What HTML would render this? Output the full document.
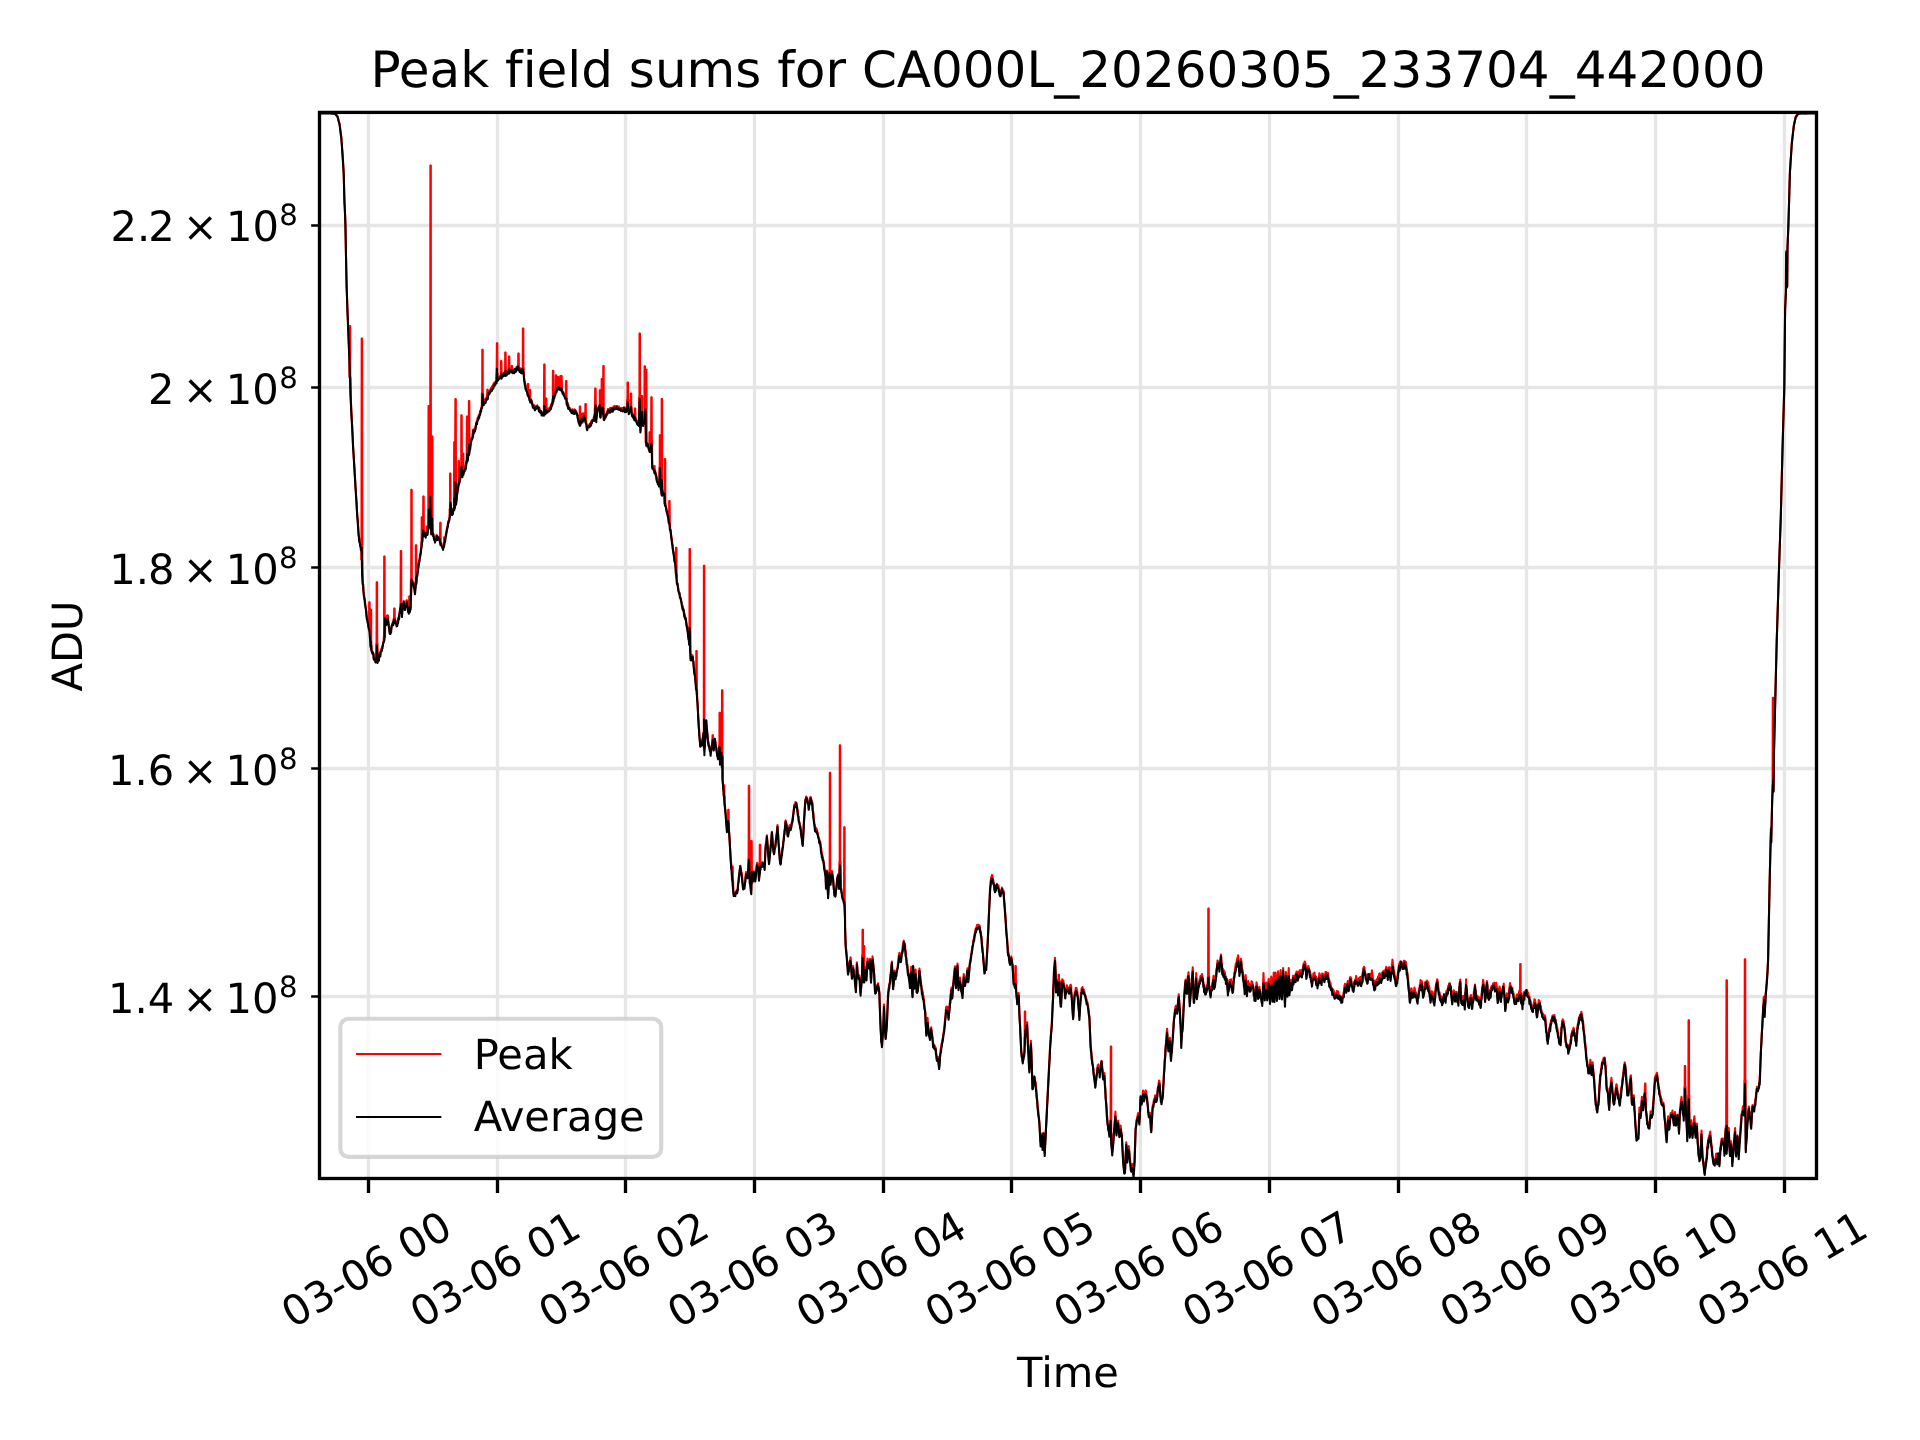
<!DOCTYPE html>
<html lang="en"><head><meta charset="utf-8"><title>Peak field sums for CA000L_20260305_233704_442000</title>
<style>html,body{margin:0;padding:0;background:#fff}svg{display:block;will-change:transform}text{font-family:'DejaVu Sans', 'Liberation Sans', sans-serif;fill:#000;font-variant-ligatures:none;font-feature-settings:"liga" 0,"clig" 0;text-rendering:geometricPrecision}</style></head><body>
<svg width="1920" height="1440" viewBox="0 0 1920 1440">
<defs><clipPath id="ax"><rect x="319.5" y="112.4" width="1497" height="1066.1"/></clipPath></defs>
<rect width="1920" height="1440" fill="#fff"/>
<path d="M368.5 112.4 V1178.5 M497.5 112.4 V1178.5 M625.5 112.4 V1178.5 M754.5 112.4 V1178.5 M883.5 112.4 V1178.5 M1011.5 112.4 V1178.5 M1140.5 112.4 V1178.5 M1269.5 112.4 V1178.5 M1398.5 112.4 V1178.5 M1526.5 112.4 V1178.5 M1655.5 112.4 V1178.5 M1784.5 112.4 V1178.5 M319.5 225.5 H1816.5 M319.5 387.5 H1816.5 M319.5 567.5 H1816.5 M319.5 768.5 H1816.5 M319.5 996.5 H1816.5" fill="none" stroke="#e6e6e6" stroke-width="3.33"/>
<g clip-path="url(#ax)" fill="none" stroke-width="2.08" stroke-linejoin="round" stroke-linecap="square">
<path stroke="#f00" d="M319.5 112.9 L319.89 112.9 L320.28 112.9 L320.67 112.9 L321.06 112.9 L321.44 112.9 L321.83 112.9 L322.22 112.9 L322.61 112.9 L323 112.9 L323.39 112.9 L323.78 112.9 L324.17 112.9 L324.56 112.9 L324.94 112.9 L325.33 112.9 L325.72 112.9 L326.11 112.9 L326.5 112.9 L326.89 112.9 L327.28 112.9 L327.67 112.9 L328.06 112.9 L328.44 112.9 L328.83 112.9 L329.22 112.9 L329.61 112.9 L330 112.9 L330.38 112.92 L330.77 112.95 L331.15 112.97 L331.54 112.99 L331.92 113.02 L332.31 113.04 L332.69 113.06 L333.08 113.08 L333.46 113.11 L333.85 113.13 L334.23 113.15 L334.62 113.18 L335 113.2 L335.36 113.61 L335.71 114.03 L336.07 114.44 L336.43 114.86 L336.79 115.27 L337.14 115.68 L337.5 116.04 L337.85 117.32 L338.2 118.73 L338.55 120.19 L338.9 121.33 L339.25 122.66 L339.6 124.06 L339.93 126.64 L340.26 129.35 L340.59 131.25 L340.92 134.08 L341.25 136.45 L341.56 139.77 L341.88 144.46 L342.19 148.72 L342.5 152.89 L342.81 158.24 L343.12 162.18 L343.44 168.42 L343.75 173.16 L344.07 185.14 L344.4 198.81 L344.73 207.26 L345.07 214.62 L345.4 223.98 L345.7 238.76 L346 254.7 L346.3 269.52 L346.6 286.99 L346.95 293.89 L347.3 304.59 L347.65 314.5 L348 322.02 L348.35 332.02 L348.7 340.85 L349.05 350.22 L349.4 359.26 L349.4 377.15 L349.7 367.5 L349.78 326 L350 376.19 L350.22 326 L350.3 387.47 L350.6 396.74 L350.6 377.15 L350.93 401.83 L351.25 408.64 L351.57 414.91 L351.9 421.29 L352.2 427.29 L352.5 434.37 L352.8 438.45 L353.1 446.62 L353.48 452.41 L353.86 458.25 L354.24 465.46 L354.62 469.52 L355 477.95 L355.38 483.67 L355.76 488.87 L356.14 496.2 L356.52 501.94 L356.9 509.78 L357.27 515.17 L357.64 519.7 L358.01 524.4 L358.38 530 L358.75 535.68 L359.11 537.58 L359.46 539.42 L359.82 541.71 L360.18 544 L360.54 545.9 L360.89 547.85 L361.25 549.76 L361.3 559.65 L361.48 549.53 L361.68 338.5 L361.7 544.88 L361.9 558.95 L362.1 573.7 L362.12 338.5 L362.43 576.93 L362.5 559.65 L362.76 581.19 L363.09 585.2 L363.42 589.27 L363.75 592.67 L364.14 594.59 L364.54 599.17 L364.93 600.31 L365.32 604.57 L365.72 607.43 L366.11 610.17 L366.51 614.43 L366.9 617.02 L367.26 619.64 L367.61 619.7 L367.97 623.09 L368.33 624.64 L368.69 626.17 L368.8 629.65 L369.04 626.89 L369.18 602.25 L369.4 629.48 L369.62 602.25 L369.77 632.33 L370 629.65 L370.14 635.77 L370.4 645.87 L370.51 642.28 L370.78 609.75 L370.88 645.32 L371.22 609.75 L371.25 649.64 L371.6 645.87 L371.62 649.1 L371.99 650.88 L372.36 651.88 L372.73 652.82 L373.1 653.4 L373.46 654.31 L373.81 654.16 L374.17 657.04 L374.53 657.98 L374.89 659.53 L375.24 659.64 L375.6 662.1 L375.9 659.76 L376.2 658.37 L376.3 643.4 L376.5 659.05 L376.68 582.25 L376.9 643.08 L377.12 582.25 L377.2 651.28 L377.5 660.99 L377.5 643.4 L377.86 660.35 L378.21 658.92 L378.57 658.03 L378.93 657.99 L379.29 656.11 L379.64 655.53 L380 652.03 L380.36 652.58 L380.71 651.79 L381.07 649.93 L381.43 648.51 L381.79 648.32 L382.14 646.75 L382.5 645.49 L382.88 644.94 L383.26 643.32 L383.64 640.86 L383.8 637.15 L384.02 638.59 L384.18 556.6 L384.4 637.5 L384.62 556.6 L384.7 627.72 L385 617.59 L385 637.15 L385.31 617.71 L385.62 620.04 L385.94 622.09 L386.25 623.83 L386.56 622.19 L386.88 620.17 L386.9 615.9 L387.19 616.99 L387.28 615.4 L387.5 615.41 L387.72 615.4 L387.86 617.47 L388.1 615.9 L388.21 621.97 L388.57 623.27 L388.93 625.94 L389.29 628.68 L389.64 630.16 L390 632.01 L390.36 631.16 L390.71 630.01 L391.07 629.81 L391.43 628.03 L391.79 625.34 L392.14 625.2 L392.5 623.91 L392.88 621.67 L393.26 621.33 L393.64 619.12 L393.8 618.4 L394.02 619.63 L394.18 608.5 L394.4 618.18 L394.62 608.5 L394.76 618.27 L395 618.4 L395.11 619.52 L395.47 620.97 L395.83 621.22 L396.19 622.61 L396.54 623.58 L396.9 623.42 L397.27 622.41 L397.64 622.64 L398.01 619.97 L398.38 617.94 L398.75 617.19 L399.11 614.08 L399.46 613.65 L399.82 610.98 L400.18 609.33 L400.4 603.65 L400.54 607.06 L400.78 551 L400.89 604.56 L401.22 551 L401.25 602.82 L401.57 607.91 L401.6 603.65 L401.9 612.94 L402.27 610.44 L402.64 608.59 L403.01 605.27 L403.38 605.66 L403.75 600.97 L404.06 603.66 L404.38 604.37 L404.69 605.46 L405 608.34 L405.38 606.69 L405.76 605.29 L406.14 604.28 L406.3 600.9 L406.52 601.97 L406.68 600.4 L406.9 601.16 L407.12 600.4 L407.2 603.75 L407.5 605.67 L407.5 600.9 L407.8 608.2 L408.1 611.27 L408.46 610.4 L408.8 608.95 L408.81 609.94 L409.17 607.91 L409.18 596.6 L409.53 608.8 L409.62 596.6 L409.89 608.48 L410 608.95 L410.24 607.59 L410.6 607.38 L410.9 579.65 L410.9 599.3 L411.2 588.88 L411.28 489.75 L411.5 580.11 L411.72 489.75 L411.82 579.56 L412.1 579.65 L412.14 580.06 L412.46 580.82 L412.78 580.95 L413.1 582.14 L413.48 583.26 L413.86 585.53 L414.24 586.41 L414.62 588.01 L415 590.43 L415.38 587.04 L415.4 582.57 L415.75 584.2 L415.78 545.4 L416.12 581.1 L416.22 545.4 L416.5 578.16 L416.6 582.57 L416.88 576.62 L417.25 574.34 L417.62 571.4 L418 568.15 L418.38 566.93 L418.75 562.34 L419.11 559.88 L419.46 559.3 L419.82 556.97 L420.18 554.73 L420.54 552.71 L420.89 549.41 L421.25 547.6 L421.3 541.81 L421.62 545.5 L421.68 517.25 L421.99 541.61 L422.12 517.25 L422.36 536.65 L422.5 541.81 L422.73 534.73 L422.9 530.7 L423.1 528.91 L423.28 496.6 L423.48 530.26 L423.72 496.6 L423.86 531.85 L424.1 530.7 L424.24 531.83 L424.62 533.31 L425 534.53 L425.36 533.93 L425.71 534.35 L426.07 533.71 L426.3 532.26 L426.43 532.09 L426.68 526.6 L426.79 531.93 L427.12 526.6 L427.14 532.07 L427.5 531.45 L427.5 532.26 L427.88 529.34 L428.15 526.17 L428.26 528.55 L428.53 406 L428.64 527.21 L428.97 406 L429.02 524.58 L429.35 526.17 L429.4 523.94 L429.67 513.11 L429.93 503.96 L430 509.71 L430.2 496.24 L430.38 165.6 L430.55 507.41 L430.82 165.6 L430.9 519.38 L431.2 509.71 L431.25 531.97 L431.56 531.68 L431.65 532.15 L431.88 532.38 L432.03 436.6 L432.19 531.15 L432.47 436.6 L432.5 531.89 L432.85 532.15 L432.86 534.6 L433.21 534.37 L433.57 534.04 L433.93 536.85 L434.29 537.89 L434.64 539.53 L435 539.75 L435.38 538.33 L435.65 536.79 L435.76 538.88 L436.03 536 L436.14 537.53 L436.47 536 L436.52 534.93 L436.85 536.79 L436.9 535.82 L437.29 535.84 L437.67 537.47 L438.06 537.14 L438.45 538.64 L438.84 538.93 L439.23 539.9 L439.61 540.19 L439.8 541.79 L440 540.61 L440.18 522.9 L440.39 541.81 L440.62 522.9 L440.77 543.06 L441 541.79 L441.16 543.78 L441.55 545.46 L441.94 545.51 L442.33 546.51 L442.71 548.32 L443.1 547.85 L443.48 546.54 L443.8 542.22 L443.86 544.12 L444.18 537.25 L444.24 542.94 L444.62 542.41 L444.62 537.25 L445 539.87 L445 542.22 L445.36 538.69 L445.71 534.99 L446.07 532.79 L446.43 532.01 L446.79 528.88 L447.14 529.24 L447.5 526.76 L447.86 523.43 L448.21 522.57 L448.57 520.68 L448.93 519.76 L449.29 517.82 L449.64 516.9 L449.65 508.92 L450 515.66 L450.03 473.5 L450.3 507.62 L450.47 473.5 L450.6 500.09 L450.85 508.92 L450.9 507.04 L451.2 512.29 L451.52 512.81 L451.85 511.55 L452.18 511.85 L452.5 511.13 L452.86 510.06 L453.21 509.16 L453.57 509.25 L453.8 507.1 L453.93 509.42 L454.18 442 L454.29 507.91 L454.62 442 L454.64 506.52 L455 506.39 L455 507.1 L455 497.4 L455.38 399.1 L455.4 494.48 L455.7 498.02 L455.82 399.1 L456 503.61 L456.2 497.4 L456.35 501.55 L456.7 497.35 L457.05 493.87 L457.4 492.07 L457.75 490.08 L458.1 486.55 L458.15 483.09 L458.47 485.02 L458.53 461 L458.83 484.11 L458.97 461 L459.2 482.27 L459.35 483.09 L459.57 480.06 L459.93 477.84 L460.3 476.49 L460.6 467.08 L460.9 471.86 L460.9 475.08 L461.2 474.79 L461.28 415.4 L461.58 476.07 L461.72 415.4 L461.96 474.7 L462.1 475.08 L462.34 473.92 L462.5 473.4 L462.72 474.36 L462.88 453.5 L463.1 472.02 L463.32 453.5 L463.49 471.57 L463.7 473.4 L463.89 470.45 L464.28 470.22 L464.68 468.06 L465.07 468.13 L465.46 465.59 L465.86 465.01 L466.25 462.91 L466.5 460 L466.61 462.77 L466.88 416.6 L466.96 460.37 L467.32 416.6 L467.32 459.47 L467.68 457.35 L467.7 460 L468.04 455.51 L468.39 454.67 L468.5 451.47 L468.75 454.16 L468.88 401 L469.11 450.73 L469.32 401 L469.46 448.42 L469.7 451.47 L469.82 447.29 L470.18 446.08 L470.54 442.85 L470.89 441.24 L471.25 439.78 L471.62 438.17 L471.99 437.35 L472.36 436.72 L472.5 433.4 L472.73 434.66 L472.88 429.75 L473.1 433.35 L473.32 429.75 L473.4 429.93 L473.7 430.36 L473.7 433.4 L474 430.74 L474.38 429.37 L474.75 427.96 L475.12 428.72 L475.5 426.04 L475.88 425.13 L476.25 423.9 L476.62 421.63 L477 421.58 L477.38 419.64 L477.75 417.52 L478.12 417.63 L478.5 415.91 L478.88 415.29 L479.25 414.64 L479.62 414.65 L480 411.81 L480.37 410.91 L480.73 410.16 L481.1 408.9 L481.47 407.54 L481.83 405.78 L481.9 393.4 L482.2 404.74 L482.28 349.75 L482.5 393.27 L482.72 349.75 L482.75 397.6 L483 402.95 L483.1 393.4 L483.36 401.98 L483.72 403.06 L484.08 400.7 L484.44 402.49 L484.81 400.22 L485.17 399.34 L485.53 398.7 L485.89 399.49 L486.25 399.11 L486.62 397.06 L486.9 395.9 L487 397.13 L487.28 389.75 L487.38 396.05 L487.72 389.75 L487.75 395.23 L488.1 395.9 L488.12 394.75 L488.5 394.43 L488.88 391.83 L489.25 391.02 L489.62 391.79 L490 390.85 L490.39 390.67 L490.77 388.32 L491.16 388.12 L491.55 389.17 L491.94 386.5 L492.33 386.95 L492.71 385.45 L493.1 385.02 L493.49 383.86 L493.88 385.14 L494.27 382.52 L494.66 382.52 L495.04 382.23 L495.43 383.18 L495.82 382.08 L496.21 381.86 L496.5 373.55 L496.6 380.89 L496.88 343.25 L496.9 369.81 L497.15 374.87 L497.32 343.25 L497.4 380.47 L497.7 373.55 L497.78 379.16 L498.17 377.57 L498.56 378.96 L498.94 377.83 L499.32 376.59 L499.71 376.82 L500.09 375.85 L500.48 377.5 L500.65 375.3 L500.87 375.47 L501.03 361 L501.25 373.92 L501.47 361 L501.63 375.27 L501.85 375.3 L502.02 374.24 L502.4 375.46 L502.79 374.42 L503.17 372.86 L503.56 373.5 L503.94 372.85 L504.33 372.84 L504.71 372.68 L504.8 372.69 L505.1 371.5 L505.18 352.5 L505.48 372.77 L505.62 352.5 L505.87 371.79 L506 372.69 L506.25 371.53 L506.65 372.38 L507.04 372.89 L507.44 370.86 L507.83 372.25 L508.23 369.34 L508.5 370.09 L508.62 370.82 L508.88 356.6 L509.02 369.74 L509.32 356.6 L509.41 369.81 L509.7 370.09 L509.81 368.89 L510.2 368.88 L510.6 368.78 L510.96 369.12 L511.3 370.3 L511.31 370 L511.67 371.45 L511.68 366 L512.03 369.99 L512.12 366 L512.39 370.68 L512.5 370.3 L512.74 369.94 L513.1 370.12 L513.48 372.08 L513.87 369.81 L514.25 369.83 L514.64 369.98 L515.02 370.21 L515.41 369.41 L515.79 370.1 L516.18 368.3 L516.56 366.78 L516.95 367.75 L517.33 367.35 L517.72 366.32 L517.9 367.06 L518.1 366.27 L518.28 353.5 L518.49 366.65 L518.72 353.5 L518.89 368.8 L519.1 367.06 L519.28 367.73 L519.67 367.74 L520.07 369.44 L520.46 368.54 L520.86 370.64 L521.25 371.18 L521.62 369.7 L521.99 369.27 L522.36 368.63 L522.5 367.8 L522.73 369.53 L522.88 328.5 L523.1 368.07 L523.32 328.5 L523.42 370.24 L523.7 367.8 L523.75 373.49 L524.08 377.57 L524.4 380.89 L524.77 381.87 L525.14 384.1 L525.51 385.26 L525.88 387.64 L526.25 388.7 L526.61 389.41 L526.96 390.64 L527.32 391.01 L527.5 393.95 L527.68 393.3 L527.88 384 L528.04 394.02 L528.32 384 L528.39 394.54 L528.7 393.95 L528.75 395.98 L529.12 396.28 L529.4 398.4 L529.5 398.78 L529.78 390 L529.88 397.84 L530.22 390 L530.25 399.26 L530.6 398.4 L530.62 399.9 L531 399.85 L531.38 401.15 L531.75 401.68 L532.12 402.82 L532.5 403.58 L532.86 404.47 L533.21 405.01 L533.57 404.73 L533.93 405.18 L534.29 405.67 L534.64 406.02 L535 405.95 L535.39 407.49 L535.77 406.93 L536.16 406.76 L536.55 405.68 L536.94 405.71 L537.33 405.28 L537.71 406.51 L538.1 406.96 L538.49 407.62 L538.89 407.86 L539.28 407.87 L539.67 409.32 L540.07 410.03 L540.46 411.22 L540.86 411.97 L541.25 411.97 L541.62 412.38 L541.99 413.13 L542.36 413.22 L542.73 413.03 L543.1 412.02 L543.49 412.63 L543.8 412.37 L543.89 413.35 L544.18 364.5 L544.28 412.57 L544.62 364.5 L544.67 412.81 L545 412.37 L545.07 411.6 L545.46 411.58 L545.65 410.9 L545.86 411.76 L546.03 398.5 L546.25 411.37 L546.47 398.5 L546.62 410.92 L546.85 410.9 L547 411.15 L547.38 411.07 L547.75 410.86 L548.12 408.51 L548.5 409.06 L548.88 408.92 L549.25 408.65 L549.62 407.52 L550 409.3 L550.36 406.82 L550.71 406.68 L551.07 404.34 L551.43 404.48 L551.79 403.76 L552.14 402.4 L552.5 402.66 L552.5 399.75 L552.86 402.1 L552.88 370.75 L553.21 398.69 L553.32 370.75 L553.57 397.27 L553.7 399.75 L553.93 397.64 L554.29 395.39 L554.64 393.36 L555 391.27 L555.36 392.03 L555.4 390.41 L555.71 391.05 L555.78 375.4 L556.07 391.36 L556.22 375.4 L556.43 389.06 L556.6 390.41 L556.79 388.92 L557.14 388.21 L557.5 387.65 L557.5 387.67 L557.88 377 L557.89 388.45 L558.27 388.22 L558.32 377 L558.66 387.11 L558.7 387.67 L559.05 387.41 L559.44 387.23 L559.83 387.93 L560 387.15 L560.21 387.11 L560.38 376 L560.6 386.38 L560.82 376 L560.9 388.95 L560.96 387.63 L561.2 387.15 L561.28 376 L561.31 388.55 L561.67 389.93 L561.72 376 L562.03 390.89 L562.1 388.95 L562.39 391.61 L562.74 391.69 L563.1 391.79 L563.49 393.33 L563.89 393.58 L564.28 394.06 L564.67 395.47 L565.07 396.33 L565.46 397.43 L565.65 398.4 L565.86 396.99 L566.03 381 L566.25 397.25 L566.47 381 L566.62 400.24 L566.85 398.4 L566.99 400.73 L567.36 403.58 L567.73 403.64 L568.1 405.49 L568.46 405.18 L568.81 408.35 L569.17 407.18 L569.53 407.98 L569.89 408.21 L570.24 408.94 L570.6 410.21 L570.99 409.87 L571.39 409.94 L571.78 410.93 L572.17 409.33 L572.57 411.2 L572.96 411.68 L573.36 409.77 L573.75 411.07 L574.12 409.88 L574.49 409.28 L574.86 409.94 L575.23 410.77 L575.6 410.81 L575.98 411.15 L576.36 411.93 L576.74 413.34 L577.12 414.27 L577.5 415.45 L577.86 415.68 L578.21 418.04 L578.57 419.28 L578.93 421.91 L579.29 422.14 L579.4 424 L579.64 422.73 L579.78 406.6 L580 424.04 L580.22 406.6 L580.31 422.81 L580.6 424 L580.62 420.7 L580.94 418.42 L581.25 417.88 L581.56 418.85 L581.88 419.71 L581.9 420.9 L582.19 419.76 L582.28 413.5 L582.5 420.25 L582.72 413.5 L582.81 418.83 L583.1 420.9 L583.12 417.17 L583.44 415.65 L583.75 413.22 L584.12 415.19 L584.49 415.69 L584.86 418.44 L585 420.9 L585.23 419.34 L585.38 404.1 L585.6 419.94 L585.82 404.1 L585.92 422.43 L586.2 420.9 L586.25 424.41 L586.58 425.32 L586.9 428.28 L587.26 427.1 L587.61 427.2 L587.97 425.75 L588.33 426.2 L588.69 426.04 L589.04 424.78 L589.4 424.5 L589.76 423.71 L590.11 423.79 L590.47 423.05 L590.83 422.84 L591.19 421.92 L591.54 420.54 L591.9 419.98 L592.26 420.04 L592.61 420.13 L592.97 420.67 L593.33 419.34 L593.69 417.78 L594.04 416.31 L594.4 417.49 L594.7 414.34 L594.8 407.77 L595 410.68 L595.18 388.5 L595.3 409.32 L595.6 405.89 L595.62 388.5 L595.92 412.8 L596 407.77 L596.25 418.95 L596.56 417.98 L596.88 414.39 L597.19 411.19 L597.5 407.72 L597.88 407.51 L598.25 407.99 L598.62 406.87 L599 407.27 L599.38 406 L599.4 410.9 L599.75 404.88 L599.78 390.4 L600 411.51 L600.22 390.4 L600.25 417.25 L600.58 414.39 L600.6 410.9 L600.91 413.22 L601.24 412.12 L601.3 408.4 L601.57 409.5 L601.68 379.1 L601.9 408.03 L602.12 379.1 L602.2 407.22 L602.5 408.93 L602.5 408.4 L602.8 406.54 L602.9 414.44 L603.1 406.42 L603.28 366 L603.42 412.45 L603.72 366 L603.75 419.66 L604.1 414.44 L604.12 418.9 L604.49 416.87 L604.86 416.78 L605.23 414.9 L605.6 414.64 L605.96 415.41 L606.31 414.05 L606.67 412.75 L607.03 411.24 L607.39 411.33 L607.74 410 L608.1 408.92 L608.49 410.48 L608.89 410.22 L609.28 409.72 L609.67 410.04 L610.07 407.95 L610.46 409.84 L610.86 407.89 L611.25 408.66 L611.62 408.52 L612 408.76 L612.38 409.21 L612.75 407.88 L613.12 407.19 L613.5 406.49 L613.88 407.25 L614.25 406.29 L614.62 405.75 L615 406.36 L615.39 407.04 L615.77 406.45 L616.16 406.02 L616.55 406.92 L616.94 406.05 L617.33 405.94 L617.71 408.08 L618.1 407.32 L618.49 408.67 L618.89 406.45 L619.28 408.33 L619.67 407.65 L620.07 409.31 L620.46 407.94 L620.86 407.94 L621.25 408.69 L621.64 408.46 L622.04 407.93 L622.43 408.8 L622.83 408.58 L623.22 408.64 L623.61 408.23 L624.01 407.39 L624.4 407.32 L624.76 408.47 L625.11 407.68 L625.47 409.76 L625.83 408.88 L626.19 408.57 L626.54 410.1 L626.9 409.64 L627.15 399.65 L627.18 407.14 L627.47 403.13 L627.53 382.5 L627.75 400.87 L627.97 382.5 L628.08 403.55 L628.35 399.65 L628.42 406.6 L628.75 411.1 L629.12 410.19 L629.5 410.89 L629.88 410.9 L630.25 408.68 L630.4 407.15 L630.62 407.06 L630.78 393.5 L631 407.62 L631.22 393.5 L631.3 409.75 L631.6 411.45 L631.6 407.15 L631.9 414.28 L632.27 414.38 L632.64 413.97 L633.01 415.61 L633.38 415.17 L633.75 415.24 L634.11 416.27 L634.4 417.77 L634.46 418.05 L634.78 408.5 L634.82 418.86 L635.18 419.01 L635.22 408.5 L635.54 418.24 L635.6 417.77 L635.89 418.41 L636.25 419.89 L636.61 420.25 L636.96 421.17 L637.32 421.01 L637.68 421.9 L638.04 422.48 L638.39 424.47 L638.75 425.38 L639.08 415.01 L639.15 397.15 L639.42 406.72 L639.53 333.5 L639.75 397.59 L639.97 333.5 L640.08 413.21 L640.35 397.15 L640.4 430.31 L640.77 426.32 L641.15 420.52 L641.3 412.15 L641.52 417.55 L641.68 396 L641.9 412.01 L642.12 396 L642.18 416.36 L642.47 420.31 L642.5 412.15 L642.75 423.63 L643.08 424.13 L643.41 423.15 L643.74 422.12 L644.07 421.5 L644.15 416.53 L644.4 421.19 L644.53 366.4 L644.73 416.63 L644.97 366.4 L645.07 412.2 L645.35 416.53 L645.4 408.46 L645.65 442.15 L645.68 420.17 L645.97 430.92 L646.03 369.75 L646.25 441.6 L646.47 369.75 L646.62 443.22 L646.85 442.15 L646.99 442.95 L647.36 444.05 L647.73 444.05 L648.1 444 L648.48 445.02 L648.86 446.53 L649.15 450.08 L649.24 448.24 L649.53 432.25 L649.62 448.27 L649.97 432.25 L650 451.16 L650.35 450.08 L650.38 449.01 L650.75 445.43 L650.9 440.3 L651.12 442.18 L651.28 397.25 L651.5 439.15 L651.72 397.25 L651.88 453.88 L652.1 440.3 L652.25 467.43 L652.62 467.5 L653 468.26 L653.38 467.62 L653.75 468.23 L653.8 469.7 L654.06 469.22 L654.18 466 L654.38 469.49 L654.62 466 L654.69 470.61 L655 471.24 L655 469.7 L655.36 472.14 L655.71 473.09 L656.07 474.69 L656.43 477.37 L656.79 477.21 L657.14 479.51 L657.5 480.21 L657.88 482.78 L658.26 481.46 L658.64 482.84 L659.02 482.23 L659.4 484.78 L659.4 467.15 L659.7 474.35 L659.78 435.4 L660 467.4 L660.22 435.4 L660.3 475.66 L660.6 486.47 L660.6 467.15 L660.92 486.91 L661.25 489.34 L661.3 493.4 L661.58 490.42 L661.68 399.1 L661.9 493.13 L662.12 399.1 L662.26 493.04 L662.5 493.4 L662.61 493.89 L662.97 490.95 L663.33 492.35 L663.69 491.64 L664.04 490.84 L664.4 490.75 L664.4 503.4 L664.7 497.42 L664.78 459.1 L665 503.37 L665.22 459.1 L665.39 504.93 L665.6 503.4 L665.77 505.99 L666.16 507.81 L666.55 509.98 L666.94 510.58 L667.33 512.42 L667.71 514.39 L668.1 516.12 L668.46 518.31 L668.8 523.7 L668.81 520.05 L669.17 520.95 L669.18 501 L669.53 525 L669.62 501 L669.89 527.31 L670 523.7 L670.24 529.58 L670.6 531.13 L670.96 534.16 L671.31 536.05 L671.67 538.17 L672.03 541.49 L672.39 544.12 L672.74 547.66 L673.1 550.2 L673.46 551.61 L673.81 554 L674.17 556.58 L674.53 558.98 L674.89 562.23 L675.24 563.23 L675.6 566.78 L675.65 573.4 L675.92 568.68 L676.03 547.9 L676.25 572.92 L676.47 547.9 L676.58 578.29 L676.85 573.4 L676.9 581.16 L677.27 582.96 L677.64 585.29 L678.01 586.74 L678.38 588.92 L678.75 591.04 L679.12 592.54 L679.5 594.13 L679.88 594.99 L680.25 597.13 L680.62 597.9 L681 600.29 L681.38 601.27 L681.75 603.06 L682.12 604.58 L682.5 605.38 L682.89 607.08 L683.27 608.91 L683.66 610.88 L684.05 612.78 L684.44 613.66 L684.83 614.79 L685.21 616.99 L685.6 618.37 L685.96 621.05 L686.31 623.5 L686.67 626.15 L687.03 625.83 L687.39 628.77 L687.74 631.19 L688.1 633.92 L688.45 636.35 L688.8 638.42 L689.15 641.41 L689.15 627.15 L689.5 643.01 L689.53 549.1 L689.75 626.88 L689.97 549.1 L690.1 648.59 L690.35 652.03 L690.35 627.15 L690.6 658.21 L690.96 656.38 L691.32 655.94 L691.67 656.73 L692.03 654.99 L692.39 655.8 L692.75 655.77 L693.08 660.01 L693.41 663.78 L693.74 665.75 L694.07 668 L694.4 672.32 L694.77 675.34 L695.14 677.01 L695.51 680.63 L695.88 684.22 L695.9 689.4 L696.25 686.23 L696.28 651 L696.56 689.73 L696.72 651 L696.88 694.26 L697.1 689.4 L697.19 697.89 L697.5 703.09 L697.88 709.24 L698.25 716.84 L698.62 721.08 L699 727.31 L699.31 732.75 L699.62 737.24 L699.94 740.69 L700.25 745.32 L700.58 745.1 L700.91 744.61 L701.24 743.97 L701.57 743.69 L701.9 742.07 L702.22 741.47 L702.54 739.07 L702.86 736.5 L703.18 734.76 L703.5 732.82 L703.5 745.07 L703.8 738.7 L703.88 565.75 L704.1 744.96 L704.32 565.75 L704.4 750.86 L704.7 745.07 L704.77 744.1 L705.14 740.06 L705.51 732.96 L705.88 727.82 L706.25 720.32 L706.62 725.45 L706.99 728.41 L707.36 733.42 L707.73 737.04 L708.1 740.94 L708.46 742.08 L708.81 744.02 L709.17 746.39 L709.53 746.1 L709.89 748.58 L710.24 749.95 L710.6 751.84 L710.96 750.63 L711.31 748.63 L711.67 745.89 L712.03 744.55 L712.15 739.59 L712.39 741.31 L712.53 735.4 L712.74 739.27 L712.97 735.4 L713.1 737.57 L713.35 739.59 L713.42 742.99 L713.75 747.92 L714.08 744.02 L714.42 741.67 L714.75 739.01 L715.11 740.06 L715.47 742.6 L715.83 744.21 L716.18 747.16 L716.54 748.91 L716.9 751.85 L717.2 753.92 L717.5 754.56 L717.8 755.06 L718.1 757.23 L718.43 753.37 L718.76 752.77 L719.09 749.88 L719.15 745 L719.42 746.71 L719.53 712.9 L719.75 744.8 L719.97 712.9 L720 762.45 L720.31 761.69 L720.35 745 L720.62 758.34 L720.94 754.89 L721.25 752.59 L721.58 759.34 L721.6 757.06 L721.9 765.15 L721.98 690.4 L722.3 754.38 L722.42 690.4 L722.5 778.22 L722.8 757.06 L722.81 780.56 L723.12 785.23 L723.44 789.31 L723.5 795.77 L723.75 791.93 L723.88 785.4 L724.12 796.36 L724.32 785.4 L724.49 799.94 L724.7 795.77 L724.86 804.19 L725.23 808.92 L725.6 812.47 L725.92 816.09 L726.25 821.61 L726.58 824.79 L726.9 829.37 L727.2 826.81 L727.5 824.49 L727.8 822.1 L727.8 823 L728.1 819.56 L728.18 809.75 L728.42 823.13 L728.62 809.75 L728.75 827.85 L729 823 L729.08 831.22 L729.4 835.7 L729.7 840.43 L730 846.17 L730.3 850.92 L730.6 857.57 L730.92 861 L731.25 864.43 L731.58 867.86 L731.9 872.56 L731.9 880.1 L732.27 878.15 L732.28 866.6 L732.64 881.37 L732.72 866.6 L733.01 886.72 L733.1 880.1 L733.38 890.38 L733.75 894.69 L734.12 893.88 L734.49 894.3 L734.86 894.36 L735.23 893.83 L735.6 893.3 L735.98 891.62 L736.36 891.54 L736.74 890.05 L737.12 889.47 L737.5 889.45 L737.88 885.16 L738.25 882.64 L738.62 878.73 L739 876.33 L739.31 872.88 L739.62 870.76 L739.94 868.57 L740.25 865.81 L740.58 867.84 L740.91 868.43 L741.24 871.99 L741.57 872.49 L741.9 875.05 L742.2 877.27 L742.5 881.2 L742.8 883.97 L743.1 887.21 L743.43 886.13 L743.76 885.99 L744.09 885.02 L744.42 884.71 L744.75 884.69 L745.06 880.24 L745.38 878.54 L745.69 875.66 L746 872.02 L746.38 873.62 L746.75 875.67 L747.12 875.97 L747.5 876.36 L747.88 872.44 L748.25 867.53 L748.4 858 L748.62 861.86 L748.78 785.75 L749 857.73 L749.22 785.75 L749.38 868.54 L749.6 858 L749.75 879.2 L750.12 882.36 L750.5 885.13 L750.88 888.11 L750.9 883.18 L751.25 890.73 L751.28 841 L751.58 880.53 L751.72 841 L751.9 870.14 L752.1 883.18 L752.2 872.94 L752.5 874.75 L752.8 876.66 L753.1 879.65 L753.4 877.53 L753.7 873.28 L754 871.21 L754.31 872.33 L754.62 874.97 L754.94 877.57 L755.25 879.89 L755.58 877.2 L755.91 872.44 L756.24 869.53 L756.57 867.05 L756.9 863.77 L757.2 862.8 L757.5 863.62 L757.8 864.54 L758.1 864.98 L758.4 868.47 L758.7 874.03 L759 877.4 L759.32 876.34 L759.4 869.63 L759.64 873.91 L759.78 844.75 L759.96 869.33 L760.22 844.75 L760.28 866.99 L760.6 863.4 L760.6 869.63 L760.96 863.71 L761.31 864.05 L761.67 863.81 L762.03 863.44 L762.39 862.1 L762.74 862.16 L763.1 863.52 L763.48 863.79 L763.85 864.65 L764.23 866.3 L764.6 867.05 L764.93 860.62 L765.27 853.18 L765.6 846.35 L765.92 842.85 L766.25 841.88 L766.58 838.29 L766.9 835.27 L767.2 839.32 L767.5 842.63 L767.8 845.95 L768.1 850.81 L768.4 854.88 L768.7 858.76 L769 862.17 L769.32 858.37 L769.64 856.62 L769.96 853.26 L770.28 849.85 L770.6 846.61 L770.92 842.92 L771.25 838.92 L771.58 834.62 L771.9 831.69 L772.2 834.93 L772.5 838.82 L772.8 841.88 L773.1 845.67 L773.4 847.08 L773.7 850.37 L774 853.6 L774.32 850.46 L774.64 849.02 L774.96 847.29 L775.28 845.09 L775.6 843.15 L775.98 838.45 L776.36 835.27 L776.74 833.07 L777.12 828.64 L777.5 825.03 L777.81 830.9 L778.12 833.55 L778.44 840.05 L778.75 844.64 L779.12 847.92 L779.5 853.55 L779.88 859.02 L780.25 863.18 L780.58 861.02 L780.91 859.73 L781.24 857.13 L781.57 855.24 L781.9 852.91 L782.27 850.08 L782.64 847.18 L783.01 845.2 L783.38 841.25 L783.75 837.58 L784.12 834.61 L784.49 830.92 L784.86 828.34 L785.23 822.67 L785.6 820.32 L785.92 821.46 L786.25 823.62 L786.58 823.49 L786.9 824.76 L787.18 829.05 L787.47 832.67 L787.75 835.77 L788.08 833.88 L788.41 831.48 L788.74 830.1 L789.07 827.58 L789.4 825.2 L789.7 827.01 L790 826.23 L790.3 826.42 L790.6 827.77 L790.98 826.17 L791.36 824.46 L791.74 822.57 L792.12 821.23 L792.5 819.05 L792.88 815.73 L793.26 814.09 L793.64 810.15 L794.02 807.91 L794.4 804.36 L794.77 804.17 L795.14 804.44 L795.51 802.03 L795.88 803.45 L796.25 802.44 L796.56 804.64 L796.88 805.56 L797.19 807.54 L797.5 809.16 L797.81 811.09 L798.12 814.21 L798.44 817.84 L798.75 820.01 L799.12 821.84 L799.49 822.62 L799.86 824.4 L800.23 825.99 L800.6 826.8 L800.96 830.57 L801.32 832.97 L801.67 836.65 L802.03 839.39 L802.39 841.81 L802.75 843.72 L803.06 837.65 L803.38 832.56 L803.69 825.7 L804 819.86 L804.31 814.3 L804.62 810.46 L804.94 805 L805.25 800.21 L805.56 799.56 L805.88 797.87 L806.19 796.51 L806.5 796.92 L806.81 797.62 L807.12 798.02 L807.44 799.39 L807.75 801.18 L808.08 802.49 L808.42 803.9 L808.75 808.6 L809.12 804.39 L809.49 802.87 L809.86 799.81 L810.23 797.68 L810.6 796.95 L810.93 797.21 L811.26 799.63 L811.59 800.4 L811.92 801.65 L812.25 803.37 L812.62 807.14 L813 811.32 L813.38 813.42 L813.75 817.55 L814.06 820.9 L814.38 823.46 L814.69 825.18 L815 827.26 L815.38 828.42 L815.75 827.63 L816.12 828.24 L816.5 830.34 L816.88 829.31 L817.25 831.7 L817.62 832.44 L818 834.41 L818.38 837.33 L818.75 838.54 L819.12 839.06 L819.49 840.17 L819.86 841.36 L820.23 841.8 L820.6 844.47 L820.92 846.76 L821.25 848.83 L821.58 852.27 L821.9 853.88 L822.27 854.69 L822.64 856.58 L823.01 858.71 L823.38 860.43 L823.75 862.86 L824.12 864.24 L824.49 867.54 L824.86 870.59 L825.23 873.09 L825.6 875.66 L826 885.4 L826.3 880.64 L826.6 876.9 L826.9 870.58 L827.2 876.56 L827.5 881.98 L827.8 888.93 L828.1 895.91 L828.42 888.42 L828.75 882.13 L829.08 876.54 L829.4 870.18 L829.4 876.12 L829.7 872.89 L829.78 772.9 L830 877.33 L830.22 772.9 L830.3 879.37 L830.6 880.86 L830.6 876.12 L830.92 878.86 L831.25 876.64 L831.58 873.1 L831.9 870.95 L832.2 871.66 L832.5 874.52 L832.8 876.06 L833.1 878.3 L833.42 881.82 L833.75 885.36 L834.08 889.9 L834.4 893.84 L834.7 894.11 L835 893.07 L835.3 893.75 L835.6 894.07 L835.93 890.54 L836.26 886.99 L836.59 883.76 L836.92 881.02 L837.25 877.74 L837.53 876.99 L837.82 876.2 L838.1 874.3 L838.4 878.4 L838.7 882.45 L839 884.91 L839.33 878.21 L839.4 861.75 L839.67 869.23 L839.78 745.4 L840 861.8 L840.22 745.4 L840.3 873.32 L840.6 885.62 L840.6 861.75 L840.98 886.85 L841.36 889.77 L841.74 891.7 L842.12 893.8 L842.5 895.73 L842.88 898.3 L843.26 898.04 L843.64 900.13 L843.8 901.75 L844.02 900.62 L844.18 827.25 L844.4 901.98 L844.62 827.25 L844.7 909.81 L845 917.92 L845 901.75 L845.05 923.44 L845.33 934.83 L845.6 943.57 L845.92 947.28 L846.25 949.3 L846.58 953.78 L846.9 957.5 L847.2 961.8 L847.5 965.02 L847.8 969.56 L848.1 972.99 L848.42 970.91 L848.75 968.6 L849.08 964.93 L849.4 962.56 L849.7 961.13 L850 960.93 L850.3 958.93 L850.6 957.29 L850.92 961.22 L851.25 966.93 L851.58 971.37 L851.9 976.14 L852.2 973.33 L852.5 970.12 L852.8 969.4 L853.1 966.07 L853.48 968.99 L853.86 971.08 L854.24 975.2 L854.62 976.53 L855 979.51 L855.3 982.57 L855.6 985.76 L855.9 990.33 L856.23 980.35 L856.57 970.81 L856.9 962.21 L857.2 965.88 L857.5 969.84 L857.8 973.19 L858.1 977.48 L858.42 975.61 L858.75 975.47 L859.08 975.91 L859.4 975.37 L859.7 977.88 L860 983.52 L860.3 987.47 L860.6 992.48 L860.92 987.43 L861.25 984.77 L861.58 981.48 L861.9 976.43 L862.15 954.9 L862.18 969.39 L862.47 962.94 L862.53 929.75 L862.75 954.68 L862.97 929.75 L863.06 961.66 L863.35 954.9 L863.38 967.44 L863.4 979.9 L863.69 972.67 L863.78 946 L864 979.9 L864.22 946 L864.31 976.96 L864.6 979.9 L864.62 973.22 L864.94 971.13 L865.25 966.47 L865.56 969.8 L865.88 972.12 L866.19 974.3 L866.5 976.38 L866.83 969.83 L867.17 964.03 L867.5 958.47 L867.88 960.39 L868.25 962.86 L868.62 965 L869 967.03 L869.33 964.98 L869.67 962.89 L870 958.85 L870.33 966.47 L870.67 971.69 L871 980.62 L871.38 972.84 L871.75 967.41 L872.12 962.44 L872.5 956.36 L872.81 959.51 L873.12 962.64 L873.44 964.33 L873.75 968.63 L874.12 973.02 L874.5 979.35 L874.88 986.22 L875.25 990.48 L875.58 990.2 L875.91 989.34 L876.24 988.9 L876.57 986.76 L876.9 986.66 L877.2 984.79 L877.5 985.49 L877.8 984.73 L878.1 983.27 L878.42 985.61 L878.75 987.85 L879.08 989.92 L879.4 991.98 L879.68 1001.58 L879.97 1009.3 L880.25 1017.65 L880.58 1023.84 L880.92 1032.34 L881.25 1040.57 L881.58 1041.81 L881.9 1043.26 L882.2 1040.11 L882.5 1037.26 L882.8 1033.18 L883.1 1028.58 L883.4 1021.22 L883.7 1013.69 L884 1004.43 L884.33 1013.59 L884.67 1022.03 L885 1031.22 L885.3 1034.57 L885.6 1037.61 L885.92 1032.76 L886.25 1030.67 L886.58 1026.09 L886.9 1022.92 L887.2 1016.53 L887.5 1007.47 L887.8 1000.61 L888.1 992.49 L888.48 990.47 L888.86 987.24 L889.24 984.76 L889.62 983.37 L890 980.32 L890.38 976.36 L890.76 972.38 L891.14 968.99 L891.52 964.8 L891.9 961.53 L892.2 967.63 L892.5 973.13 L892.8 979.72 L893.1 986.94 L893.42 984.64 L893.75 980.17 L894.08 974.94 L894.4 970.61 L894.7 972.06 L895 973.49 L895.3 975.69 L895.6 975.76 L895.98 973.41 L896.36 972.3 L896.74 970.09 L897.12 970.13 L897.5 967.29 L897.88 964.45 L898.26 961.36 L898.64 957.11 L899.02 955.55 L899.4 952.71 L899.7 953.99 L900 956.37 L900.3 957.79 L900.6 959.82 L900.92 958.54 L901.25 955.87 L901.58 954.6 L901.9 952.45 L902.27 949.89 L902.64 947.06 L903.01 944.42 L903.38 942.4 L903.75 940.68 L904.06 941.4 L904.38 943.19 L904.69 943.66 L905 943.86 L905.31 948.8 L905.62 951.11 L905.94 955 L906.25 957.9 L906.62 960.71 L906.99 963.2 L907.36 964.33 L907.73 968.95 L908.1 971.34 L908.48 974.15 L908.86 976.75 L909.24 978.87 L909.62 981.59 L910 982.7 L910.31 979.66 L910.62 976 L910.94 971.9 L911.25 966.82 L911.56 973.38 L911.88 981.38 L912.19 988.99 L912.5 996.33 L912.8 981.6 L913.1 965.72 L913.42 969.72 L913.75 975.94 L914.08 980.57 L914.4 986.67 L914.7 981.64 L915 978.88 L915.3 973.6 L915.6 969.66 L915.9 975.13 L916.2 982.11 L916.5 987.44 L916.85 988.31 L917.2 989.14 L917.55 988.72 L917.9 990.99 L918.27 985.1 L918.65 979.43 L919.02 973.96 L919.4 968.48 L919.7 971.11 L920 974.88 L920.3 977.22 L920.6 979.89 L920.92 982.04 L921.25 985.01 L921.58 988.72 L921.9 990.21 L922.27 990.34 L922.64 992.08 L923.01 995.62 L923.38 996 L923.75 998.84 L924.12 1002.19 L924.5 1005.36 L924.88 1009.34 L925.25 1010.89 L925.58 1018.58 L925.92 1025.33 L926.25 1032.15 L926.59 1028.84 L926.92 1026.66 L927.26 1023.02 L927.6 1017.87 L927.98 1024.1 L928.37 1028.63 L928.75 1034.5 L929.06 1033.57 L929.38 1034.61 L929.69 1034.75 L930 1034.33 L930.31 1032.35 L930.62 1030.21 L930.94 1028.36 L931.25 1027.26 L931.62 1030.67 L931.99 1034.12 L932.36 1036.91 L932.73 1040.6 L933.1 1042.76 L933.46 1044.03 L933.81 1045.3 L934.17 1045.37 L934.53 1045.27 L934.89 1046.6 L935.24 1046.99 L935.6 1047.54 L935.92 1050.19 L936.25 1054.12 L936.58 1056.69 L936.9 1059.42 L937.2 1058.98 L937.5 1058.43 L937.8 1058.01 L938.1 1056.93 L938.43 1058.35 L938.77 1063.54 L939.1 1066.55 L939.48 1062.3 L939.85 1058.72 L940.23 1054.73 L940.6 1049.87 L940.98 1047.36 L941.36 1045.08 L941.74 1043.59 L942.12 1041.7 L942.5 1038.99 L942.88 1037.99 L943.26 1035.27 L943.64 1032.23 L944.02 1030.32 L944.4 1027.05 L944.74 1022.52 L945.08 1019.65 L945.42 1016.62 L945.76 1011.51 L946.1 1007.12 L946.44 1008.5 L946.78 1006.63 L947.12 1006.99 L947.46 1007.79 L947.8 1007.19 L948.07 1011.82 L948.33 1013.93 L948.6 1017.58 L948.94 1014.15 L949.28 1009.71 L949.62 1006.27 L949.96 1001 L950.3 999.72 L950.6 995.76 L950.9 992.78 L951.2 989.78 L951.5 987.58 L951.88 991.42 L952.25 996.32 L952.62 991.06 L953 985.86 L953.38 981.6 L953.75 976.87 L954.06 974.85 L954.38 971.87 L954.69 968.64 L955 966.37 L955.33 972.83 L955.67 980.29 L956 987.22 L956.38 981.74 L956.75 974.95 L957.12 969.49 L957.5 963.63 L957.83 970.85 L958.17 979.52 L958.5 987.37 L958.88 985.82 L959.25 982.3 L959.62 979.88 L960 977.59 L960.31 980.98 L960.62 982.67 L960.94 984.56 L961.25 987.56 L961.56 989.84 L961.88 992.39 L962.19 993.84 L962.5 994.47 L962.81 990.54 L963.12 983.78 L963.44 979.24 L963.75 974.16 L964.06 975.18 L964.38 978.74 L964.69 981.21 L965 984.97 L965.31 982 L965.62 981.65 L965.94 979.79 L966.25 978.71 L966.56 975.22 L966.88 973.67 L967.19 971.03 L967.5 968.18 L967.8 972.53 L968.1 978.68 L968.48 976.25 L968.86 973.44 L969.24 969.63 L969.62 965.33 L970 961.45 L970.36 960.72 L970.71 958.26 L971.07 954.56 L971.43 952.71 L971.79 950.41 L972.14 949.51 L972.5 946.37 L972.9 944.43 L973.3 940.89 L973.7 939.44 L974.1 936.97 L974.5 934.93 L974.9 932.88 L975.3 930.35 L975.67 928.82 L976.03 929.4 L976.4 927.13 L976.77 926.35 L977.13 924.77 L977.5 925.33 L977.9 925.26 L978.3 924.83 L978.7 924.77 L979.1 925.53 L979.5 925.31 L979.85 926.7 L980.2 929.56 L980.55 931.74 L980.9 933.26 L981.25 935.46 L981.58 938.56 L981.91 942.92 L982.24 946 L982.57 948.68 L982.9 953.13 L983.27 957.17 L983.65 961.12 L984.02 965.54 L984.4 970.31 L984.77 968.35 L985.14 968.27 L985.51 967.57 L985.88 966.01 L986.25 965.58 L986.56 960.19 L986.88 954.52 L987.19 950.12 L987.5 945.04 L987.81 938.25 L988.12 931.9 L988.44 924.16 L988.75 917.09 L989.06 910.22 L989.38 903.85 L989.69 896.88 L990 888.28 L990.33 885.58 L990.67 881.88 L991 879.03 L991.37 876.5 L991.73 876.71 L992.1 874.92 L992.43 875.96 L992.76 878.66 L993.09 878.93 L993.42 881.52 L993.75 882.32 L994.06 884.97 L994.38 887.02 L994.69 888.51 L995 891.4 L995.31 888.44 L995.62 886.93 L995.94 886.34 L996.25 885.48 L996.62 884.64 L997 883.96 L997.38 884.85 L997.75 885.5 L998.12 885.98 L998.5 885.6 L998.85 888.4 L999.2 889.74 L999.55 891.05 L999.9 892.31 L1000.25 895.62 L1000.58 892.89 L1000.91 891.84 L1001.24 890.31 L1001.57 889.95 L1001.9 887.5 L1002.22 889.64 L1002.54 888.84 L1002.86 890.97 L1003.18 890.21 L1003.5 890.94 L1003.88 895.8 L1004.25 900.95 L1004.62 905.2 L1005 909.21 L1005.38 915.38 L1005.75 921.5 L1006.12 925.56 L1006.5 933.22 L1006.82 936.11 L1007.14 938.58 L1007.46 943.73 L1007.78 947.25 L1008.1 950.83 L1008.43 952.9 L1008.76 954.85 L1009.09 957.64 L1009.42 959.26 L1009.75 961.55 L1010.12 959.74 L1010.5 959.5 L1010.88 957.29 L1011.25 956.54 L1011.56 957.91 L1011.88 959.8 L1012.19 962.36 L1012.5 964.21 L1012.81 968.38 L1013.12 973.11 L1013.44 977.48 L1013.75 982.83 L1014.06 983.27 L1014.38 984.22 L1014.69 984.42 L1015 984.91 L1015 981.15 L1015.3 983.6 L1015.38 966 L1015.6 981.07 L1015.82 966 L1015.93 985.9 L1016.2 981.15 L1016.26 990.34 L1016.59 994.88 L1016.92 998.29 L1017.25 1002.61 L1017.5 997.07 L1017.62 1000.67 L1017.88 993.5 L1018 997.82 L1018.32 993.5 L1018.38 995.75 L1018.7 997.07 L1018.75 993.14 L1019.08 1003.34 L1019.4 1013.23 L1019.7 1018.17 L1020 1022.83 L1020.31 1029.5 L1020.62 1036.05 L1020.94 1043.25 L1021.25 1050.94 L1021.62 1052.77 L1022 1055.18 L1022.38 1059.5 L1022.75 1060.91 L1023.08 1060.46 L1023.41 1058.09 L1023.74 1055.11 L1024.07 1054.13 L1024.4 1052.35 L1024.4 1037.4 L1024.68 1045.26 L1024.78 1011.6 L1024.97 1038.16 L1025.22 1011.6 L1025.25 1031.68 L1025.6 1037.4 L1025.62 1029.62 L1025.99 1028.42 L1026.36 1025.51 L1026.73 1023.74 L1027.1 1022.36 L1027.43 1030.41 L1027.77 1038.73 L1028.1 1047.75 L1028.42 1052.52 L1028.75 1058.05 L1029.08 1064.1 L1029.4 1070.38 L1029.78 1063.22 L1030.15 1054.69 L1030.53 1047.63 L1030.9 1040.85 L1031.23 1049.34 L1031.57 1057.19 L1031.9 1066.84 L1032.2 1077.33 L1032.5 1088.7 L1032.88 1085.71 L1033.26 1084.21 L1033.64 1081.56 L1034.02 1078.08 L1034.4 1076.4 L1034.8 1078.56 L1035.2 1080.65 L1035.6 1082.49 L1035.98 1087.31 L1036.36 1090.58 L1036.74 1094.92 L1037.12 1099.33 L1037.5 1104.12 L1037.88 1108.32 L1038.26 1110.04 L1038.64 1114.91 L1039.02 1118.24 L1039.4 1122.78 L1039.8 1128.27 L1040.2 1136.94 L1040.6 1142.11 L1040.92 1140.88 L1041.25 1136.65 L1041.58 1135.29 L1041.9 1133.52 L1042.2 1140.16 L1042.5 1145.47 L1042.83 1140.86 L1043.17 1136.02 L1043.5 1132.75 L1043.81 1136.48 L1044.12 1143.64 L1044.44 1147.97 L1044.75 1153.4 L1045.12 1144.63 L1045.5 1137.32 L1045.88 1129.97 L1046.25 1121.54 L1046.56 1115.29 L1046.88 1110.04 L1047.19 1103.43 L1047.5 1097.39 L1047.81 1090.42 L1048.12 1085.32 L1048.44 1079.56 L1048.75 1072.68 L1049.06 1065.86 L1049.38 1060.46 L1049.69 1054.21 L1050 1047.59 L1050.38 1041.52 L1050.76 1035.55 L1051.14 1032.72 L1051.52 1026.53 L1051.9 1020.68 L1052.3 1011.79 L1052.7 1002.25 L1053.1 995.6 L1053.4 986.52 L1053.7 978.43 L1054 969.83 L1054.33 966.11 L1054.67 962.75 L1055 957.8 L1055.3 963.85 L1055.6 970.25 L1055.8 980.65 L1056 990.16 L1056.38 987.73 L1056.75 984.33 L1057.12 981.98 L1057.5 980.09 L1057.8 986.87 L1058.1 993.54 L1058.15 986.77 L1058.42 990.22 L1058.53 974.75 L1058.75 985.73 L1058.97 974.75 L1059.08 982.31 L1059.35 986.77 L1059.4 980.32 L1059.7 987.42 L1060 994.39 L1060.33 998.43 L1060.67 1002.89 L1061 1004.5 L1061.3 986.9 L1061.31 998.91 L1061.62 992.37 L1061.68 981 L1061.94 985.78 L1062.12 981 L1062.25 979.4 L1062.5 986.9 L1062.62 981.25 L1063 980.81 L1063.38 980.62 L1063.75 983.57 L1064.12 985.11 L1064.5 989.15 L1064.88 991.96 L1065.25 994.69 L1065.58 994.29 L1065.91 990.78 L1066.24 989.85 L1066.57 988.2 L1066.9 985.18 L1067.27 986.35 L1067.64 988.19 L1068.01 989.72 L1068.38 989.59 L1068.75 988.58 L1069.12 989.88 L1069.49 987.31 L1069.86 987.06 L1070 986.15 L1070.23 986.88 L1070.38 984.75 L1070.6 986.27 L1070.82 984.75 L1070.9 988.13 L1071.2 986.15 L1071.2 990.14 L1071.5 993.72 L1071.9 997.53 L1072.3 1004.78 L1072.7 1011.4 L1073.1 1017.26 L1073.43 1010.83 L1073.76 1007.95 L1074.09 1003.04 L1074.42 996.73 L1074.75 991.95 L1075.12 992.05 L1075.5 990.02 L1075.88 987.98 L1076.25 987.73 L1076.62 988.72 L1077 990.45 L1077.38 991.7 L1077.75 995.14 L1078.08 998.6 L1078.41 1002.75 L1078.74 1007.32 L1079.07 1012.41 L1079.4 1016.07 L1079.8 1010.8 L1080.2 1004.19 L1080.6 999.08 L1081 993.51 L1081.38 991.14 L1081.5 988.73 L1081.75 989.85 L1081.88 987.9 L1082.12 987.55 L1082.32 987.9 L1082.5 987.04 L1082.7 988.73 L1082.88 989.53 L1083.26 989.87 L1083.64 989.31 L1084.02 990.72 L1084.4 991.97 L1084.77 993.67 L1085.14 994.94 L1085.51 996.11 L1085.88 997.66 L1086.25 998.64 L1086.62 999.69 L1086.99 1001.69 L1087.36 1001.68 L1087.73 1003.81 L1088.1 1005.79 L1088.45 1009.05 L1088.8 1011.78 L1089.15 1014.99 L1089.5 1017.67 L1089.87 1026.37 L1090.23 1035.66 L1090.6 1045.26 L1090.92 1047.68 L1091.25 1050.85 L1091.58 1054.41 L1091.9 1056.67 L1092.27 1060.52 L1092.64 1063.56 L1093.01 1067.35 L1093.38 1068.57 L1093.75 1071.99 L1094.12 1076.32 L1094.5 1078.25 L1094.88 1081.97 L1095.25 1084.41 L1095.58 1083.25 L1095.91 1079 L1096.24 1077.04 L1096.57 1074.35 L1096.9 1073.19 L1097.3 1069.54 L1097.7 1065.37 L1098.1 1064.73 L1098.43 1064.38 L1098.76 1067.28 L1099.09 1069.47 L1099.42 1070.26 L1099.75 1071.9 L1100.1 1069 L1100.45 1066.3 L1100.8 1066.22 L1101.15 1063.07 L1101.5 1060.71 L1101.9 1062.78 L1102.3 1067.62 L1102.7 1071.13 L1103.1 1076.62 L1103.42 1076.38 L1103.75 1073.82 L1104.08 1072.81 L1104.4 1073.29 L1104.8 1079.11 L1105.2 1087.8 L1105.6 1094.52 L1105.98 1100.63 L1106.36 1105.04 L1106.74 1109.58 L1107.12 1116 L1107.5 1120.13 L1107.88 1123.93 L1108.26 1127.4 L1108.64 1129.5 L1109.02 1130.21 L1109.4 1132.55 L1109.8 1127.95 L1110.2 1124.17 L1110.4 1133.21 L1110.6 1119.47 L1110.78 1046.6 L1110.92 1130.15 L1111.22 1046.6 L1111.25 1142.44 L1111.58 1145.34 L1111.6 1133.21 L1111.92 1149.12 L1112.25 1152.53 L1112.62 1148.55 L1113 1144.28 L1113.38 1139.52 L1113.75 1135.48 L1114.08 1131.03 L1114.41 1125.45 L1114.74 1120.68 L1115.07 1117.77 L1115.4 1111.45 L1115.77 1119.3 L1116.13 1125.92 L1116.5 1133.5 L1116.9 1129.1 L1117.3 1125.8 L1117.7 1124.97 L1118.1 1120.57 L1118.42 1123.42 L1118.75 1127.45 L1119.08 1131.88 L1119.4 1136.31 L1119.8 1132.71 L1120.2 1129.2 L1120.6 1125.61 L1120.92 1128.37 L1121.25 1130.95 L1121.58 1132.18 L1121.9 1135.05 L1122.3 1144.38 L1122.7 1151.45 L1123.1 1159.72 L1123.42 1162.86 L1123.75 1166.29 L1124.08 1168.85 L1124.4 1172.99 L1124.7 1171.45 L1125 1170.38 L1125.31 1162.76 L1125.62 1156.72 L1125.94 1150.37 L1126.25 1142.26 L1126.58 1147.62 L1126.92 1153.2 L1127.25 1158.21 L1127.62 1155.34 L1128 1153.17 L1128.38 1149.47 L1128.75 1145.93 L1129.06 1149.3 L1129.38 1152.42 L1129.69 1157.03 L1130 1159.32 L1130.38 1162.72 L1130.75 1165.57 L1131.12 1167.21 L1131.5 1170.97 L1131.83 1169.34 L1132.17 1165.66 L1132.5 1164 L1132.83 1167.81 L1133.17 1170.5 L1133.5 1173.87 L1133.87 1169.78 L1134.23 1164.44 L1134.6 1160.08 L1134.93 1149.62 L1135.27 1137.75 L1135.6 1128.32 L1135.92 1125.97 L1136.25 1124.22 L1136.58 1120.79 L1136.9 1118.97 L1137.3 1117.56 L1137.7 1114.88 L1138.1 1113.12 L1138.42 1116.89 L1138.75 1117.49 L1139.08 1120.59 L1139.4 1121.84 L1139.8 1113.69 L1140.2 1103.4 L1140.6 1097.47 L1140.9 1097.33 L1141.2 1100.23 L1141.5 1103.82 L1141.9 1101.25 L1142.3 1097.84 L1142.7 1094.84 L1143.1 1090.42 L1143.4 1093.9 L1143.7 1097.04 L1144 1097.57 L1144.4 1095.7 L1144.8 1094.41 L1145.2 1093.01 L1145.6 1090.38 L1145.97 1091.07 L1146.35 1093.28 L1146.72 1095.28 L1147.1 1096.38 L1147.45 1102.78 L1147.8 1105.2 L1148.15 1109.18 L1148.5 1112.5 L1148.88 1113.46 L1149.25 1112.97 L1149.62 1113.53 L1150 1112.97 L1150.31 1117.01 L1150.62 1122.16 L1150.94 1127.74 L1151.25 1130.67 L1151.56 1124.95 L1151.88 1119.77 L1152.19 1112.94 L1152.5 1107.71 L1152.81 1105.12 L1153.12 1104.82 L1153.44 1103.18 L1153.75 1100.76 L1154.12 1099.06 L1154.5 1098.86 L1154.88 1097.43 L1155.25 1095.25 L1155.56 1097.61 L1155.88 1097.24 L1156.19 1099.5 L1156.5 1100.19 L1156.9 1096.18 L1157.3 1093.21 L1157.7 1088.49 L1158.1 1086.16 L1158.42 1084.96 L1158.75 1082.19 L1159.08 1080.5 L1159.4 1080.95 L1159.8 1085.58 L1160.2 1091.67 L1160.6 1096.81 L1160.9 1096.28 L1161.2 1098.31 L1161.5 1100.4 L1161.81 1099.14 L1162.12 1097.79 L1162.44 1095.85 L1162.75 1094.84 L1163.06 1088.61 L1163.38 1084.5 L1163.69 1077.38 L1164 1072.02 L1164.4 1066.74 L1164.8 1059.53 L1165.2 1053.77 L1165.6 1046.8 L1165.97 1043 L1166.35 1038.92 L1166.72 1033.27 L1167.1 1028.79 L1167.42 1033.82 L1167.75 1039.82 L1168.08 1044.32 L1168.4 1049.2 L1168.78 1046.95 L1169.15 1043.01 L1169.53 1040.11 L1169.9 1037.82 L1170.27 1044.98 L1170.63 1052.46 L1171 1058.74 L1171.38 1054.46 L1171.75 1049.13 L1172.12 1043.91 L1172.5 1041.64 L1172.88 1034.76 L1173.25 1028.66 L1173.62 1023.24 L1174 1018.72 L1174.4 1014.35 L1174.8 1011.61 L1175.2 1008.67 L1175.6 1006.14 L1175.92 1005.79 L1176.24 1008.65 L1176.56 1008.52 L1176.88 1008.62 L1177.2 1010.64 L1177.59 1005.78 L1177.97 1003.13 L1178.36 998.16 L1178.75 994.37 L1179.06 998.85 L1179.38 1003.29 L1179.69 1006.74 L1180 1011 L1180.31 1018.79 L1180.62 1024.09 L1180.94 1030.97 L1181.25 1040.52 L1181.62 1035.91 L1182 1032.15 L1182.38 1025.94 L1182.75 1022.43 L1183.08 1016.96 L1183.41 1009.83 L1183.74 1003.29 L1184.07 997.18 L1184.4 992.26 L1184.8 986.34 L1185.2 983.54 L1185.6 979.57 L1185.9 981.8 L1186.2 987.26 L1186.5 989.02 L1186.9 986.27 L1187.3 982.69 L1187.7 976.6 L1188.1 974.66 L1188.5 972.2 L1188.81 980.44 L1189.12 988.53 L1189.44 994.36 L1189.75 1003.26 L1190.12 996.54 L1190.5 994.17 L1190.88 988.57 L1191.25 984.67 L1191.62 978.54 L1192 977.66 L1192.38 972.52 L1192.75 967.25 L1193.08 979.73 L1193.42 991.26 L1193.75 999.61 L1194.12 997.26 L1194.5 992.9 L1194.88 992.06 L1195.25 991.03 L1195.58 984.83 L1195.92 978.95 L1196.25 972.93 L1196.58 987.03 L1196.9 995.61 L1197.3 991.07 L1197.7 989.78 L1198.1 985.86 L1198.48 984.26 L1198.86 982.34 L1199.24 980.76 L1199.62 978.96 L1200 979.81 L1200.38 976.61 L1200.76 975.71 L1201.14 975.92 L1201.52 975.45 L1201.9 974.07 L1202.27 975.61 L1202.64 977.47 L1203.01 980.52 L1203.38 982.17 L1203.75 984.68 L1204.12 987.19 L1204.5 987.37 L1204.88 989.61 L1205.25 989.31 L1205.58 988.85 L1205.91 988.46 L1206.24 988.06 L1206.57 985.72 L1206.9 985.13 L1207.3 985.66 L1207.7 981.5 L1207.9 976.2 L1208.1 978.11 L1208.28 908.5 L1208.5 974.43 L1208.72 908.5 L1208.8 978.88 L1209.1 976.2 L1209.1 983.96 L1209.4 987.64 L1209.8 986.39 L1210.2 989.16 L1210.6 991.29 L1210.98 989.99 L1211.36 988.04 L1211.74 986.47 L1212.12 985.53 L1212.5 983.1 L1212.83 981.55 L1213.17 979.5 L1213.5 975.83 L1213.87 980.95 L1214.23 983.92 L1214.6 985.64 L1214.93 982.67 L1215.26 980.44 L1215.59 977.63 L1215.92 974.7 L1216.25 971.42 L1216.56 968.23 L1216.88 967.74 L1217.19 964.84 L1217.5 960.51 L1217.88 961.55 L1218.26 962.69 L1218.64 964.19 L1219.02 964.4 L1219.4 966.27 L1219.8 960.78 L1220.2 959.85 L1220.6 957.67 L1221 954.49 L1221.31 958.89 L1221.62 961.81 L1221.94 964.59 L1222.25 967.55 L1222.62 969.9 L1223 969 L1223.38 971.13 L1223.75 970.27 L1224.12 972.33 L1224.49 971.72 L1224.86 972.27 L1225.23 975.63 L1225.6 976.12 L1225.92 979.3 L1226.25 978.74 L1226.58 979.51 L1226.9 980.28 L1227.23 983.24 L1227.57 988.15 L1227.9 990.81 L1228.28 989.01 L1228.65 984.98 L1229.03 984.13 L1229.4 980.09 L1229.8 980.08 L1230.2 981.13 L1230.6 980.42 L1231 979.32 L1231.38 983.22 L1231.75 986.58 L1232.12 986.99 L1232.5 990.9 L1232.88 987.42 L1233.25 983.7 L1233.62 977.79 L1234 978.36 L1234.4 975.28 L1234.8 971.36 L1235.2 967.86 L1235.6 965.09 L1235.92 963.24 L1236.25 963.34 L1236.58 963.65 L1236.9 959.83 L1237.3 958.7 L1237.7 957.42 L1238.1 955.39 L1238.42 958.86 L1238.75 961.94 L1239.08 969.06 L1239.4 971.84 L1239.8 969.01 L1240.2 966.64 L1240.6 962.02 L1241 958.75 L1241.38 961.63 L1241.75 967.21 L1242.12 968.89 L1242.5 969.74 L1242.88 972.45 L1243.25 976.25 L1243.62 977.31 L1244 981.01 L1244.33 984.37 L1244.67 987.3 L1245 991.09 L1245.3 984.3 L1245.6 975.05 L1245.92 978.79 L1246.25 983.87 L1246.58 986.14 L1246.9 989.57 L1247.3 987.57 L1247.7 984.12 L1248.1 981.12 L1248.48 983.64 L1248.86 983.26 L1249.24 984.75 L1249.62 986.47 L1250 988.52 L1250.38 984.58 L1250.76 986.43 L1251.14 984.71 L1251.52 981.34 L1251.9 982.2 L1252.3 981.85 L1252.7 985.04 L1253.1 984.94 L1253.42 987.59 L1253.75 987.93 L1254.08 991.48 L1254.4 993.31 L1254.8 995.92 L1255.2 996.03 L1255.6 998.65 L1255.9 994.63 L1256.2 986.8 L1256.5 982.4 L1256.9 984.51 L1257.3 989.64 L1257.7 991.22 L1258.1 997.63 L1258.42 993.54 L1258.75 990.99 L1259.08 988.85 L1259.4 986.83 L1259.8 990.01 L1260.2 991.47 L1260.6 994.12 L1261 995.64 L1261.31 995.94 L1261.62 997.79 L1261.94 1000.87 L1262.25 1002.41 L1262.56 995.35 L1262.88 988.5 L1263.19 980.26 L1263.5 973.09 L1263.81 981.02 L1264.12 983.95 L1264.44 987.4 L1264.75 992.68 L1265.12 991.08 L1265.5 987.54 L1265.88 984.32 L1266.25 982.52 L1266.56 986.51 L1266.88 989.26 L1267.19 989.03 L1267.5 994.79 L1267.81 990.3 L1268.12 987.73 L1268.44 980.59 L1268.75 978.85 L1269.06 982.91 L1269.38 987.77 L1269.69 991.39 L1270 996.65 L1270.31 990.82 L1270.62 987.4 L1270.94 983.81 L1271.25 976.61 L1271.56 980.74 L1271.88 988.03 L1272.19 990.58 L1272.5 994.99 L1272.81 990.99 L1273.12 983.6 L1273.44 979.15 L1273.75 972.45 L1274.08 987.15 L1274.4 998.19 L1274.8 989.02 L1275.2 980 L1275.6 972.59 L1275.92 976.35 L1276.25 981.91 L1276.58 988.12 L1276.9 994.29 L1277.3 983.09 L1277.7 978.74 L1278.1 971.38 L1278.42 977.08 L1278.75 982.15 L1279.08 986.24 L1279.4 993.24 L1279.8 985.51 L1280.2 978.04 L1280.6 970.03 L1280.92 976.2 L1281.25 980.59 L1281.58 989.35 L1281.9 996.24 L1282.3 986.97 L1282.7 977.94 L1283.1 967.95 L1283.48 972.85 L1283.86 980.59 L1284.24 985.95 L1284.62 994.42 L1285 999.29 L1285.33 992.07 L1285.67 979.66 L1286 972.02 L1286.38 976.61 L1286.75 980.34 L1287.12 984.97 L1287.5 989.66 L1287.81 986.36 L1288.12 979.21 L1288.44 973.24 L1288.75 967.98 L1289.08 981.27 L1289.4 991.06 L1289.8 989.49 L1290.2 985.33 L1290.6 979.68 L1290.92 980.35 L1291.25 983.63 L1291.58 983.17 L1291.9 986.68 L1292.3 983.02 L1292.7 979.56 L1293.1 975.66 L1293.48 977.24 L1293.86 977.28 L1294.24 978.14 L1294.62 978.16 L1295 980.57 L1295.31 975.54 L1295.62 974.17 L1295.94 974.74 L1296.25 972.66 L1296.62 971.46 L1296.99 974.11 L1297.36 974.01 L1297.73 972.29 L1298.1 976.8 L1298.48 973.83 L1298.86 972.91 L1299.24 972.07 L1299.62 970.19 L1300 970.28 L1300.38 972.42 L1300.76 970.89 L1301.14 972.04 L1301.52 970.04 L1301.9 972.74 L1302.27 970.29 L1302.64 968.95 L1303.01 966.96 L1303.38 965.17 L1303.75 963.3 L1304.06 964.34 L1304.38 963.77 L1304.69 961.5 L1305 961.66 L1305.31 962.82 L1305.62 965.23 L1305.94 968.18 L1306.25 972.39 L1306.62 968.04 L1306.99 968.23 L1307.36 968.6 L1307.73 967.7 L1308.1 966.12 L1308.48 966.12 L1308.86 968.57 L1309.24 970.1 L1309.62 971.36 L1310 971.59 L1310.38 973.31 L1310.76 976.69 L1311.14 979.81 L1311.52 981.17 L1311.9 983.72 L1312.27 980.21 L1312.64 981.12 L1313.01 977.72 L1313.38 973.54 L1313.75 974.18 L1314.12 975.86 L1314.49 972.54 L1314.86 976.99 L1315.23 975.62 L1315.6 976.92 L1315.98 976.54 L1316.36 979.85 L1316.74 980.93 L1317.12 983.08 L1317.5 982.85 L1317.88 981.09 L1318.26 978.27 L1318.64 980.04 L1319.02 976.54 L1319.4 973.32 L1319.77 975.14 L1320.14 975.53 L1320.51 977.66 L1320.88 979.97 L1321.25 979.16 L1321.56 976.89 L1321.88 975.25 L1322.19 973.55 L1322.5 973.72 L1322.88 973.65 L1323.26 974.57 L1323.64 977.16 L1324.02 978.04 L1324.4 979.01 L1324.77 977.38 L1325.14 975.97 L1325.51 972.06 L1325.88 974.04 L1326.25 972.03 L1326.62 972.92 L1326.99 973.39 L1327.36 973.06 L1327.73 974.01 L1328.1 972.88 L1328.48 977.16 L1328.86 978.94 L1329.24 979.94 L1329.62 981.28 L1330 984.03 L1330.38 982.64 L1330.76 985.27 L1331.14 988.86 L1331.52 987.57 L1331.9 988.05 L1332.27 989.48 L1332.64 989.34 L1333.01 989.39 L1333.38 992.29 L1333.75 990.51 L1334.06 993.33 L1334.38 993.45 L1334.69 994.1 L1335 995.19 L1335.38 993.84 L1335.76 995.26 L1336.14 992.71 L1336.52 994.11 L1336.9 990.95 L1337.27 991.8 L1337.64 992.25 L1338.01 991.42 L1338.38 992.26 L1338.75 997.11 L1339.12 995.61 L1339.49 995.05 L1339.86 997.84 L1340.23 997.18 L1340.6 997.78 L1340.93 996.52 L1341.26 996.95 L1341.59 999.04 L1341.92 997 L1342.25 996.54 L1342.62 997.76 L1343 995.77 L1343.38 993.94 L1343.75 991.82 L1344.06 991.14 L1344.38 986.56 L1344.69 984.98 L1345 983.83 L1345.31 984.19 L1345.62 986.13 L1345.94 985.87 L1346.25 987.74 L1346.56 987.61 L1346.88 984.31 L1347.19 984.53 L1347.5 982.61 L1347.88 981.01 L1348.25 982.05 L1348.62 984.31 L1349 985.12 L1349.31 983 L1349.62 981.25 L1349.94 977.21 L1350.25 978.02 L1350.58 977.11 L1350.91 977.76 L1351.24 978.89 L1351.57 982.91 L1351.9 984.61 L1352.3 985.58 L1352.7 987.73 L1353.1 989.24 L1353.42 986.39 L1353.75 985.73 L1354.08 982 L1354.4 982.1 L1354.77 983.61 L1355.14 979.48 L1355.51 981.61 L1355.88 978.01 L1356.25 975.92 L1356.62 978.75 L1356.99 979.16 L1357.36 980.91 L1357.73 981.02 L1358.1 979.39 L1358.48 979.9 L1358.86 979.73 L1359.24 977.79 L1359.62 978.98 L1360 978.11 L1360.38 976.92 L1360.75 978.95 L1361.12 979.68 L1361.5 983.14 L1361.9 980.49 L1362.3 974.41 L1362.7 972.61 L1363.1 972.22 L1363.4 967.86 L1363.7 968.16 L1364 966.69 L1364.4 967.44 L1364.8 972.05 L1365.2 972.96 L1365.6 973.36 L1365.93 975.76 L1366.26 975.25 L1366.59 977.46 L1366.92 978.73 L1367.25 978.69 L1367.62 975.49 L1368 974.04 L1368.38 975.49 L1368.75 973.99 L1369.12 975 L1369.49 974.98 L1369.86 973.8 L1370.23 975.02 L1370.6 977.32 L1370.92 977.76 L1371.25 974.15 L1371.58 975.86 L1371.9 970.29 L1372.3 972.79 L1372.7 976.44 L1373.1 980.5 L1373.43 979.45 L1373.76 980.52 L1374.09 980.97 L1374.42 983.78 L1374.75 985.43 L1375.12 985.29 L1375.5 981.64 L1375.88 981.94 L1376.25 980 L1376.62 982.49 L1376.99 979.14 L1377.36 980.67 L1377.73 979.49 L1378.1 976.54 L1378.43 978.15 L1378.76 977.61 L1379.09 974.06 L1379.42 975.49 L1379.75 973.21 L1380.12 975.32 L1380.5 975.58 L1380.88 974.57 L1381.25 976.51 L1381.62 975.07 L1381.99 974.46 L1382.36 972.23 L1382.73 973.46 L1383.1 971.25 L1383.47 972.12 L1383.85 970.83 L1384.22 973.36 L1384.6 973.49 L1384.93 970.58 L1385.26 971.01 L1385.59 969.34 L1385.92 968.72 L1386.25 966.89 L1386.56 969.73 L1386.88 969.17 L1387.19 973.99 L1387.5 975.68 L1387.81 973.24 L1388.12 971.27 L1388.44 968 L1388.75 967.51 L1389.12 967.16 L1389.49 969.99 L1389.86 972.05 L1390.23 974.12 L1390.6 976.88 L1390.98 970.04 L1391.36 967.29 L1391.74 965.98 L1392.12 963.47 L1392.5 959.66 L1392.88 963.67 L1393.25 966.13 L1393.62 969.58 L1394 970.56 L1394.38 972.98 L1394.75 976.69 L1395.12 975.88 L1395.5 979.51 L1395.88 980.4 L1396.25 979.04 L1396.56 978.96 L1396.88 977.23 L1397.19 978.37 L1397.5 975.74 L1397.88 972.99 L1398.25 970.36 L1398.62 969.32 L1399 964.6 L1399.4 963.28 L1399.8 963.77 L1400.2 961.56 L1400.6 961.25 L1400.98 962.73 L1401.36 963.52 L1401.74 963.93 L1402.12 962.65 L1402.5 962.79 L1402.88 963.91 L1403.26 964.85 L1403.64 961.57 L1404.02 960.81 L1404.4 960.67 L1404.8 960.88 L1405.2 963.89 L1405.6 964.49 L1406 962.14 L1406.38 966.85 L1406.75 969.56 L1407.12 971.12 L1407.5 974.52 L1407.81 976 L1408.12 980.12 L1408.44 982.66 L1408.75 985.79 L1409.06 990.92 L1409.38 993.38 L1409.69 996.55 L1410 1000.18 L1410.31 997.95 L1410.62 992.19 L1410.94 990.85 L1411.25 988.28 L1411.62 988.61 L1412 991.3 L1412.38 994.49 L1412.75 994.83 L1413.08 994.34 L1413.41 991.54 L1413.74 992.45 L1414.07 990.83 L1414.4 987.51 L1414.8 988.74 L1415.2 991.18 L1415.6 991.89 L1415.93 992.73 L1416.26 994.62 L1416.59 997.16 L1416.92 997.8 L1417.25 998.53 L1417.62 996.35 L1418 996.94 L1418.38 992.77 L1418.75 991.32 L1419.12 988.61 L1419.5 986.89 L1419.88 984.3 L1420.25 984.06 L1420.58 980.04 L1420.91 983.18 L1421.24 980.76 L1421.57 982.13 L1421.9 981.25 L1422.3 986.52 L1422.7 988.47 L1423.1 991.62 L1423.5 994.58 L1423.88 991.3 L1424.25 988.28 L1424.62 986.12 L1425 982.33 L1425.36 982.58 L1425.71 982.05 L1426.07 981.56 L1426.43 981.44 L1426.79 981.69 L1427.14 980.64 L1427.5 981.52 L1427.88 983.08 L1428.26 982.45 L1428.64 985.52 L1429.02 986.15 L1429.4 987.63 L1429.68 991.82 L1429.97 994.13 L1430.25 997 L1430.58 996.42 L1430.91 995.81 L1431.24 994.85 L1431.57 991.31 L1431.9 991.56 L1432.3 991.55 L1432.7 992.37 L1433.1 994.11 L1433.42 997.3 L1433.75 999.85 L1434.08 1000.91 L1434.4 1002.5 L1434.8 998.1 L1435.2 990.91 L1435.6 987.95 L1435.93 985.4 L1436.26 984.05 L1436.59 983.08 L1436.92 980.93 L1437.25 979.33 L1437.62 980.8 L1438 983.57 L1438.38 988.37 L1438.75 991.35 L1439.12 993.99 L1439.49 992.17 L1439.86 996.36 L1440.23 996.94 L1440.6 997.28 L1440.98 996.13 L1441.36 997.34 L1441.74 997.16 L1442.12 1000.95 L1442.5 1001.49 L1442.88 998 L1443.25 998.72 L1443.62 996.02 L1444 993.92 L1444.4 994.2 L1444.8 995.86 L1445.2 994.69 L1445.6 995.05 L1445.98 995.69 L1446.36 991.07 L1446.74 990.98 L1447.12 990.13 L1447.5 990.72 L1447.88 988.57 L1448.26 985.89 L1448.64 987.45 L1449.02 983.51 L1449.4 983.61 L1449.8 983.18 L1450.2 986.21 L1450.6 986.41 L1450.93 987.12 L1451.26 990.61 L1451.59 993.82 L1451.92 998.03 L1452.25 1000.7 L1452.62 997.33 L1453 996.84 L1453.38 992.21 L1453.75 990.22 L1454.06 991.73 L1454.38 992.25 L1454.69 993.45 L1455 994.49 L1455.38 995.11 L1455.75 992.03 L1456.12 992.19 L1456.5 991.8 L1456.9 995.44 L1457.3 997.9 L1457.7 1000.43 L1458.1 1003.19 L1458.42 998.33 L1458.75 994.11 L1459.08 989.95 L1459.4 988.36 L1459.68 982.83 L1459.97 982.3 L1460.25 979.63 L1460.58 987.31 L1460.92 996.07 L1461.25 1000.23 L1461.62 998.04 L1461.99 997.54 L1462.36 998.26 L1462.73 996.11 L1463.1 995.91 L1463.43 996.34 L1463.76 1000.17 L1464.09 998.41 L1464.42 1000.85 L1464.75 1004.61 L1465.09 997.2 L1465.42 990.9 L1465.76 987.71 L1466.1 979.21 L1466.42 985.72 L1466.75 988.31 L1467.08 993.39 L1467.4 997.94 L1467.8 998.01 L1468.2 998.63 L1468.6 1000.67 L1469 1004.46 L1469.4 999.11 L1469.8 999.03 L1470.2 996.91 L1470.6 996.51 L1470.92 995.05 L1471.25 997.97 L1471.58 999.66 L1471.9 1000.29 L1472.3 999.55 L1472.7 999.82 L1473.1 998.11 L1473.5 995.95 L1473.88 991.63 L1474.25 990.93 L1474.62 988.71 L1475 984.48 L1475.31 988.4 L1475.62 990.15 L1475.94 993.62 L1476.25 995.56 L1476.62 995.23 L1476.99 995.86 L1477.36 997.49 L1477.73 996.3 L1478.1 999.61 L1478.42 997.64 L1478.75 997.06 L1479.08 997.73 L1479.4 998.28 L1479.8 999 L1480.2 1002.37 L1480.6 1004.08 L1480.92 1000.12 L1481.25 999.12 L1481.58 994.03 L1481.9 991.19 L1482.3 987.19 L1482.7 985.25 L1483.1 979.8 L1483.42 981.87 L1483.75 984.58 L1484.08 985.52 L1484.4 988.13 L1484.73 990.06 L1485.07 994.56 L1485.4 998.67 L1485.78 993.76 L1486.15 989.07 L1486.53 983.7 L1486.9 981.08 L1487.3 983.5 L1487.7 990.18 L1488.1 992.57 L1488.5 995.16 L1488.88 994.68 L1489.25 993.69 L1489.62 992.27 L1490 990.12 L1490.38 991.7 L1490.76 989.14 L1491.14 988.33 L1491.52 986.17 L1491.9 985.62 L1492.3 985.95 L1492.7 985.22 L1493.1 983.37 L1493.5 983.21 L1493.88 984.23 L1494.25 982.86 L1494.62 986.05 L1495 986.56 L1495.38 987.51 L1495.75 986.33 L1496.12 982.8 L1496.5 984.59 L1496.9 987.28 L1497.3 992.05 L1497.7 996.78 L1498.1 1000.73 L1498.42 996.8 L1498.75 994.91 L1499.08 989.96 L1499.4 986.48 L1499.8 987.37 L1500.2 990.99 L1500.6 995.39 L1500.93 995.51 L1501.26 994.14 L1501.59 991.61 L1501.92 990.71 L1502.25 990.26 L1502.62 988.49 L1503 988.38 L1503.38 986.95 L1503.75 983.58 L1504.12 989.92 L1504.5 996.33 L1504.88 1000.62 L1505.25 1008.64 L1505.58 1006.33 L1505.91 1001.91 L1506.24 998.16 L1506.57 997.44 L1506.9 993.33 L1507.3 995.82 L1507.7 998.99 L1508.1 1002.57 L1508.48 997.84 L1508.86 996.6 L1509.24 989.34 L1509.62 986.07 L1510 983.13 L1510.38 984.71 L1510.76 986.89 L1511.14 986.07 L1511.52 988.27 L1511.9 987.81 L1512.3 987.79 L1512.7 991.3 L1513.1 991.78 L1513.5 993.51 L1513.81 996.27 L1514.12 998.81 L1514.44 1000.12 L1514.75 1002.25 L1515.1 1001.27 L1515.45 1000.18 L1515.8 1000.05 L1516.15 998.2 L1516.5 996.82 L1516.9 994.67 L1517.3 994.4 L1517.7 996.35 L1518.1 994.26 L1518.48 994.27 L1518.86 994.27 L1519.24 990.81 L1519.62 991.7 L1519.8 992.8 L1520 989.04 L1520.18 964.1 L1520.31 992.36 L1520.62 964.1 L1520.62 994.34 L1520.94 997.11 L1521 992.8 L1521.25 995.85 L1521.56 996.45 L1521.88 999.67 L1522.19 1000.84 L1522.5 1003.92 L1522.88 999.84 L1523.25 997.99 L1523.62 992.79 L1524 992.12 L1524.4 993.16 L1524.8 991.89 L1525.2 991.28 L1525.6 990.47 L1526 991.66 L1526.38 990.08 L1526.75 991.42 L1527.12 990.2 L1527.5 992.51 L1527.88 992.78 L1528.26 992.96 L1528.64 996.08 L1529.02 996.24 L1529.4 996.51 L1529.8 998.76 L1530.2 1000.04 L1530.6 1001.08 L1531 1003.91 L1531.38 1006.51 L1531.75 1005.27 L1532.12 1007.01 L1532.5 1009.39 L1532.88 1005.63 L1533.26 1004.58 L1533.64 1003.27 L1534.02 1002.71 L1534.4 999.22 L1534.8 999.61 L1535.2 1001.26 L1535.6 1003.7 L1535.92 1004.78 L1536.25 1007.58 L1536.58 1011.98 L1536.9 1014.85 L1537.27 1012.89 L1537.64 1009.4 L1538.01 1006.97 L1538.38 1005.06 L1538.75 1000.04 L1539.06 1002.75 L1539.38 1000.75 L1539.69 1002.12 L1540 1004.61 L1540.38 1005.69 L1540.76 1006.18 L1541.14 1008.94 L1541.52 1010.77 L1541.9 1013.61 L1542.27 1014.86 L1542.64 1014.65 L1543.01 1013.62 L1543.38 1016.25 L1543.75 1017.41 L1544.06 1016 L1544.38 1016.62 L1544.69 1015.25 L1545 1016.08 L1545.31 1017.31 L1545.62 1020.91 L1545.94 1024.83 L1546.25 1028.95 L1546.62 1032.02 L1547 1035.14 L1547.38 1038.1 L1547.75 1039.33 L1548.08 1037.03 L1548.41 1035.86 L1548.74 1033.5 L1549.07 1031.65 L1549.4 1027.91 L1549.8 1026.4 L1550.2 1023.83 L1550.6 1023.3 L1551 1020.54 L1551.38 1019.85 L1551.75 1019.01 L1552.12 1018.95 L1552.5 1015.64 L1552.88 1015.43 L1553.26 1016.85 L1553.64 1016.74 L1554.02 1016.47 L1554.4 1015.12 L1554.8 1017.28 L1555.2 1020.03 L1555.6 1019.61 L1556 1022.87 L1556.38 1023.81 L1556.75 1027.19 L1557.12 1027.14 L1557.5 1029.79 L1557.88 1031.43 L1558.26 1032.75 L1558.64 1037.28 L1559.02 1039.05 L1559.4 1041.12 L1559.8 1041.63 L1560.2 1042.22 L1560.6 1040.44 L1560.92 1036.36 L1561.25 1032 L1561.58 1027.38 L1561.9 1024.73 L1562.18 1020.9 L1562.47 1022.23 L1562.75 1019.29 L1563.08 1020.51 L1563.41 1020.64 L1563.74 1022.96 L1564.07 1025.32 L1564.4 1026.14 L1564.8 1029.85 L1565.2 1033.33 L1565.6 1037.32 L1566 1041.85 L1566.38 1043.03 L1566.75 1044.07 L1567.12 1045.43 L1567.5 1044.69 L1567.88 1045.67 L1568.25 1047.8 L1568.62 1047.91 L1569 1049.83 L1569.4 1046.84 L1569.8 1044.37 L1570.2 1043.51 L1570.6 1039.69 L1570.92 1039.41 L1571.25 1034.51 L1571.58 1034.03 L1571.9 1032.54 L1572.3 1030.66 L1572.7 1031.14 L1573.1 1029.19 L1573.5 1027.78 L1573.88 1029.26 L1574.25 1031.95 L1574.62 1033.66 L1575 1033.13 L1575.31 1036.02 L1575.62 1037.11 L1575.94 1040.26 L1576.25 1042.13 L1576.56 1039.31 L1576.88 1035.13 L1577.19 1029.48 L1577.5 1026 L1577.88 1024.04 L1578.26 1022.12 L1578.64 1019.55 L1579.02 1018.05 L1579.4 1016.79 L1579.78 1016.59 L1580.16 1014.47 L1580.54 1014.84 L1580.92 1015.14 L1581.3 1011.74 L1581.67 1013.6 L1582.05 1014.87 L1582.42 1017.49 L1582.8 1020 L1583.12 1021.52 L1583.43 1026.16 L1583.75 1029.35 L1584.06 1032.03 L1584.38 1034.42 L1584.69 1038.51 L1585 1040.89 L1585.34 1044.11 L1585.68 1047.44 L1586.02 1051.49 L1586.36 1055.06 L1586.7 1059.16 L1587.1 1060.62 L1587.5 1063.66 L1587.9 1064.76 L1588.3 1068.54 L1588.67 1069.6 L1589.03 1070.17 L1589.4 1068.89 L1589.73 1068.9 L1590.07 1062.76 L1590.4 1059.72 L1590.73 1063.53 L1591.05 1065.06 L1591.38 1069.13 L1591.7 1072.53 L1592 1068.55 L1592.3 1064.62 L1592.6 1062.36 L1592.95 1067.06 L1593.3 1069.41 L1593.65 1073.96 L1594 1076.46 L1594.4 1082.98 L1594.8 1090.6 L1595.2 1094.16 L1595.6 1100.49 L1595.93 1101.47 L1596.26 1103.01 L1596.59 1106.35 L1596.92 1106.58 L1597.25 1109.15 L1597.56 1105.63 L1597.88 1103.76 L1598.19 1102.63 L1598.5 1100.53 L1598.88 1095.34 L1599.25 1089.46 L1599.62 1082.29 L1600 1078.24 L1600.38 1075.19 L1600.76 1071.98 L1601.14 1068.76 L1601.52 1066.26 L1601.9 1063.44 L1602.27 1061.96 L1602.64 1061.24 L1603.01 1059.86 L1603.39 1059.21 L1603.76 1057.74 L1604.13 1057.45 L1604.5 1057.55 L1604.87 1059.21 L1605.23 1061.62 L1605.6 1065.53 L1605.9 1073.59 L1606.2 1077.64 L1606.5 1085.32 L1606.87 1087.04 L1607.23 1088.49 L1607.6 1088.73 L1607.92 1091.95 L1608.24 1095.36 L1608.56 1098.88 L1608.88 1102.77 L1609.2 1106.94 L1609.55 1100.65 L1609.9 1094.95 L1610.25 1086.89 L1610.63 1085.65 L1611.02 1081.41 L1611.4 1077.86 L1611.74 1081.13 L1612.08 1084.78 L1612.41 1090.06 L1612.75 1092.91 L1613.1 1096.21 L1613.45 1098.33 L1613.8 1103.12 L1614.1 1100.41 L1614.4 1096.67 L1614.7 1096.06 L1615 1093.99 L1615.35 1091.28 L1615.7 1088.73 L1616.05 1086.2 L1616.4 1084.22 L1616.74 1084.94 L1617.08 1087.92 L1617.42 1090.27 L1617.76 1092.67 L1618.1 1093.2 L1618.43 1095.11 L1618.76 1097.51 L1619.09 1100.23 L1619.42 1101.05 L1619.75 1103.54 L1620.12 1097.97 L1620.5 1094.88 L1620.88 1093.51 L1621.25 1087.68 L1621.62 1086.7 L1621.99 1084.64 L1622.36 1080.13 L1622.73 1077.12 L1623.1 1074.59 L1623.43 1071.62 L1623.76 1068.53 L1624.09 1066.38 L1624.42 1064.79 L1624.75 1062.41 L1625.06 1064.64 L1625.38 1065.74 L1625.69 1069.73 L1626 1072.16 L1626.31 1076.03 L1626.62 1081.02 L1626.94 1084.96 L1627.25 1091.44 L1627.56 1091.7 L1627.88 1091.28 L1628.19 1092.34 L1628.5 1091.7 L1628.81 1089.82 L1629.12 1088.95 L1629.44 1084.94 L1629.75 1082.69 L1630.13 1079.73 L1630.52 1075.88 L1630.9 1075.35 L1631.23 1084.14 L1631.57 1094.39 L1631.9 1104.05 L1632.27 1101.04 L1632.64 1097.87 L1633.01 1098.55 L1633.38 1097.19 L1633.75 1095.24 L1634.06 1100.63 L1634.38 1104.64 L1634.69 1109.84 L1635 1116.91 L1635.38 1122.23 L1635.75 1126.57 L1636.12 1131.98 L1636.5 1137.24 L1636.9 1135.54 L1637.3 1136.08 L1637.7 1134.95 L1638.1 1134.96 L1638.5 1134.38 L1638.8 1125.77 L1639.1 1119.16 L1639.4 1107.62 L1639.8 1111.1 L1640.2 1113.97 L1640.6 1115.12 L1640.92 1111.63 L1641.25 1106.65 L1641.58 1101.43 L1641.9 1096.77 L1642.3 1098.33 L1642.7 1102.42 L1643.1 1103.87 L1643.43 1102.43 L1643.76 1098.63 L1644.09 1096.32 L1644.42 1094.56 L1644.65 1098.05 L1644.75 1090.01 L1645.03 1083.5 L1645.06 1096.82 L1645.38 1100.86 L1645.47 1083.5 L1645.69 1103.59 L1645.85 1098.05 L1646 1110.65 L1646.38 1112.21 L1646.75 1114.78 L1647.12 1119.01 L1647.5 1122.19 L1647.88 1121.88 L1648.26 1123.78 L1648.64 1123.51 L1649.02 1125.38 L1649.4 1126.5 L1649.8 1121.46 L1650.2 1116.46 L1650.6 1111.3 L1650.92 1112.79 L1651.25 1112.75 L1651.58 1116.09 L1651.9 1116.15 L1652.3 1113.33 L1652.7 1108.21 L1653.1 1105.77 L1653.48 1099.3 L1653.86 1094.26 L1654.24 1088.92 L1654.62 1082.84 L1655 1076.61 L1655.38 1077.67 L1655.76 1076.19 L1656.14 1074.66 L1656.52 1074.2 L1656.9 1072.73 L1657.3 1074.92 L1657.7 1078.84 L1658.1 1082.2 L1658.5 1085.19 L1658.88 1086.99 L1659.25 1090.1 L1659.62 1091.33 L1660 1095.17 L1660.38 1095.25 L1660.76 1097.69 L1661.14 1098.28 L1661.52 1099.18 L1661.9 1101.63 L1662.3 1103.79 L1662.7 1102.6 L1663.1 1102.63 L1663.5 1103 L1663.88 1107.92 L1664.25 1110.67 L1664.62 1115.5 L1665 1120.98 L1665.4 1123.27 L1665.8 1129.31 L1666.2 1135.15 L1666.6 1140.22 L1666.97 1133.15 L1667.35 1128.46 L1667.72 1121.64 L1668.1 1116.38 L1668.42 1118.09 L1668.75 1119.83 L1669.08 1123.3 L1669.4 1125.65 L1669.8 1120.12 L1670.2 1118.38 L1670.6 1113.15 L1670.98 1115.02 L1671.36 1114.31 L1671.74 1113.29 L1672.12 1112.38 L1672.5 1110.59 L1672.81 1114.32 L1673.12 1116.34 L1673.44 1117.67 L1673.75 1122.84 L1674.06 1120.18 L1674.38 1116.97 L1674.69 1115.7 L1675 1112.11 L1675.31 1115.38 L1675.62 1117.94 L1675.94 1120.12 L1676.25 1123.62 L1676.56 1120.89 L1676.88 1117.96 L1677.19 1116.23 L1677.5 1114.73 L1677.88 1119.08 L1678.25 1121.11 L1678.62 1125.91 L1679 1131.22 L1679.33 1124.07 L1679.67 1115.98 L1680 1110.33 L1680.38 1105.89 L1680.75 1102.28 L1681.12 1100 L1681.5 1096.77 L1681.81 1100.31 L1682.12 1103.54 L1682.44 1105.87 L1682.75 1108.66 L1683.08 1112.93 L1683.42 1115.16 L1683.75 1115.98 L1684.06 1109.63 L1684.38 1101.59 L1684.4 1086.8 L1684.69 1094.78 L1684.78 1066 L1685 1085.98 L1685.22 1066 L1685.33 1095.35 L1685.6 1086.8 L1685.67 1101.64 L1686 1108.52 L1686.31 1115.83 L1686.62 1123.96 L1686.94 1129.59 L1687.25 1135.12 L1687.62 1127.87 L1688 1116.33 L1688.15 1095.55 L1688.38 1105.5 L1688.53 1020.4 L1688.75 1094.7 L1688.97 1020.4 L1689.08 1107.67 L1689.35 1095.55 L1689.42 1120.16 L1689.75 1131.91 L1690.12 1130.67 L1690.5 1128.6 L1690.88 1125.44 L1691.25 1120.34 L1691.56 1124.53 L1691.88 1126.41 L1692.19 1130.11 L1692.5 1133.64 L1692.88 1129.54 L1693.26 1128.3 L1693.64 1123.36 L1694.02 1120.22 L1694.4 1116.17 L1694.8 1123.42 L1695.2 1128.18 L1695.6 1134.93 L1695.92 1132.3 L1696.25 1130.25 L1696.58 1128.44 L1696.9 1123.49 L1697.3 1132.16 L1697.7 1139.96 L1698.1 1147.09 L1698.42 1148.93 L1698.75 1152.65 L1699.08 1156.47 L1699.4 1158.3 L1699.8 1157.41 L1700.2 1154.38 L1700.6 1152.76 L1700.9 1145.5 L1701.2 1136.29 L1701.5 1130.61 L1701.83 1137.98 L1702.17 1147.43 L1702.5 1155.56 L1702.81 1158.43 L1703.12 1159.86 L1703.44 1162.38 L1703.75 1163.32 L1704.08 1165.75 L1704.42 1169.08 L1704.75 1172.23 L1705.12 1167 L1705.5 1166.26 L1705.88 1161.56 L1706.25 1161.28 L1706.56 1157.14 L1706.88 1154.01 L1707.19 1147.72 L1707.5 1144.91 L1707.81 1142.65 L1708.12 1139.74 L1708.44 1139.6 L1708.75 1137.42 L1709.12 1136.29 L1709.5 1134.94 L1709.88 1132.88 L1710.25 1131.48 L1710.56 1135.49 L1710.88 1137.65 L1711.19 1142.15 L1711.5 1144.37 L1711.9 1148.79 L1712.3 1152.1 L1712.7 1156.39 L1713.1 1159.28 L1713.43 1158.97 L1713.76 1160.4 L1714.09 1161.17 L1714.42 1161.07 L1714.75 1161.64 L1715.12 1160.48 L1715.5 1159.02 L1715.88 1155.91 L1716.25 1153.46 L1716.56 1157.31 L1716.88 1158.19 L1717.19 1158.94 L1717.5 1160.43 L1717.8 1157.63 L1718.1 1153.97 L1718.42 1155.94 L1718.75 1158.05 L1719.08 1159.72 L1719.4 1164.24 L1719.8 1158.27 L1720.2 1149.2 L1720.6 1146.01 L1720.92 1143.92 L1721.25 1141.04 L1721.58 1138.8 L1721.9 1138.57 L1722.27 1138.84 L1722.64 1138.48 L1723.01 1138.72 L1723.38 1140.9 L1723.75 1142.01 L1724.08 1147 L1724.4 1151.46 L1724.75 1145.63 L1725.1 1137.27 L1725.45 1131.48 L1725.8 1126.51 L1726.1 1147.3 L1726.15 1138.1 L1726.48 980.2 L1726.5 1153.46 L1726.83 1145.82 L1726.92 980.2 L1727.17 1136.53 L1727.3 1147.3 L1727.5 1128.66 L1727.81 1130.09 L1728.12 1129.9 L1728.44 1127.78 L1728.75 1128.35 L1729.06 1134.43 L1729.38 1140.18 L1729.69 1147.99 L1730 1152.85 L1730.33 1148.38 L1730.67 1144.26 L1731 1141.22 L1731.33 1145.82 L1731.65 1149.37 L1731.97 1155.8 L1732.3 1162.99 L1732.66 1157.86 L1733.03 1152.78 L1733.39 1148.41 L1733.75 1143.73 L1734.09 1140.96 L1734.42 1135.71 L1734.76 1131.95 L1735.1 1128.05 L1735.43 1137.57 L1735.77 1146.12 L1736.1 1153.67 L1736.45 1149.16 L1736.8 1143.93 L1737.15 1141.34 L1737.5 1135.31 L1737.8 1138.28 L1738.1 1144.6 L1738.4 1149.11 L1738.7 1153.59 L1739.03 1148.44 L1739.35 1143.47 L1739.67 1141.74 L1740 1135.35 L1740.34 1131.34 L1740.68 1125.26 L1741.02 1120.74 L1741.36 1117.82 L1741.7 1113.83 L1742.03 1111.77 L1742.35 1111.52 L1742.67 1108.02 L1743 1106.21 L1743.3 1109.65 L1743.6 1109.09 L1743.9 1112.23 L1744.2 1112.39 L1744.4 1080.1 L1744.6 1095.32 L1744.78 959.3 L1745 1080.09 L1745.22 959.3 L1745.4 1114.68 L1745.6 1080.1 L1745.8 1149.45 L1746.14 1143.94 L1746.48 1138.36 L1746.82 1132.06 L1747.16 1126.41 L1747.5 1120.5 L1747.83 1116.91 L1748.15 1112.86 L1748.47 1108.97 L1748.8 1106.46 L1749.1 1107.33 L1749.4 1111.83 L1749.7 1111.76 L1750 1113.26 L1750.3 1116.72 L1750.6 1118.28 L1750.9 1121.84 L1751.2 1124.6 L1751.53 1121.38 L1751.85 1114.04 L1752.17 1107.68 L1752.5 1105.04 L1752.84 1106.18 L1753.18 1106.3 L1753.52 1106.18 L1753.86 1106.84 L1754.2 1107.97 L1754.6 1105.77 L1755 1101.62 L1755.4 1099.1 L1755.8 1097.01 L1756.1 1093.74 L1756.4 1091.37 L1756.7 1088.74 L1757 1086.92 L1757.33 1087.16 L1757.65 1088.43 L1757.97 1088.39 L1758.3 1088.21 L1758.65 1085.64 L1759 1084.98 L1759.35 1081.42 L1759.7 1077.95 L1760.07 1071.14 L1760.43 1061.58 L1760.8 1054.11 L1761.1 1046.87 L1761.4 1041.81 L1761.7 1034.34 L1762 1029.6 L1762.33 1022.82 L1762.65 1016.6 L1762.97 1011.67 L1763.3 1004.89 L1763.6 1002.33 L1763.6 997.72 L1763.9 1000.08 L1763.98 996.8 L1764.2 997.31 L1764.42 996.8 L1764.45 1005.57 L1764.7 1013.17 L1764.8 997.72 L1765.07 1007.23 L1765.43 999.37 L1765.8 992.89 L1766.14 988.92 L1766.48 984.66 L1766.82 980.2 L1767.16 975.68 L1767.5 971.61 L1767.8 965.39 L1768.1 958.57 L1768.42 942.41 L1768.74 927.05 L1769.06 910.71 L1769.38 894.74 L1769.7 879.25 L1770 866.73 L1770.3 854.25 L1770.6 841.99 L1770.8 834.97 L1771 827.97 L1771.2 841.86 L1771.53 827.59 L1771.87 813.43 L1772.2 798.96 L1772.4 784.48 L1772.57 792.29 L1772.78 697.8 L1772.93 785.72 L1773.22 697.8 L1773.3 779.18 L1773.5 790.8 L1773.6 784.48 L1773.75 771.14 L1774 750.82 L1774.39 735.25 L1774.77 719.35 L1775.16 703.63 L1775.54 688.17 L1775.93 672.34 L1776.31 656.81 L1776.7 640.86 L1777.1 628.37 L1777.5 615.84 L1777.9 603.09 L1778.3 590.4 L1778.7 577.57 L1779.1 565.11 L1779.42 555.94 L1779.74 546.83 L1780.06 537.39 L1780.38 528.17 L1780.7 519.05 L1781.06 505.17 L1781.42 491.09 L1781.78 477.07 L1782.14 463.09 L1782.5 449.15 L1782.86 436.5 L1783.22 424.19 L1783.58 411.54 L1783.94 399.27 L1784.3 386.65 L1784.7 347.79 L1785.1 309 L1785.37 303.12 L1785.63 297.14 L1785.9 291.18 L1785.9 275.14 L1786.28 252 L1786.3 251.15 L1786.6 286.97 L1786.72 252 L1786.9 252.26 L1787.1 275.14 L1787.2 286.19 L1787.5 247.07 L1787.8 239.53 L1788.1 232.1 L1788.4 224.47 L1788.78 211.48 L1789.15 198.38 L1789.53 185.05 L1789.9 172.04 L1790.28 166.2 L1790.66 160.55 L1791.04 154.59 L1791.42 148.84 L1791.8 142.94 L1792.2 139.37 L1792.6 135.94 L1793 132.49 L1793.4 128.96 L1793.8 125.46 L1794.18 123.73 L1794.56 122.1 L1794.94 120.17 L1795.32 118.42 L1795.7 116.67 L1796.06 116.18 L1796.41 115.61 L1796.77 115.18 L1797.13 114.61 L1797.49 114.08 L1797.84 113.57 L1798.2 113.13 L1798.58 112.99 L1798.97 112.99 L1799.35 112.87 L1799.73 112.88 L1800.12 112.8 L1800.5 112.82 L1800.9 112.84 L1801.3 112.72 L1801.7 112.79 L1802.1 112.77 L1802.5 112.84 L1802.9 112.8 L1803.3 112.79 L1803.7 112.76 L1804.1 112.76 L1804.5 112.77 L1804.9 112.74 L1805.3 112.8 L1805.7 112.78 L1806.1 112.83 L1806.5 112.81 L1806.9 112.88 L1807.3 112.84 L1807.7 112.79 L1808.1 112.77 L1808.5 112.84 L1808.9 112.83 L1809.3 112.84 L1809.7 112.82 L1810.1 112.83 L1810.5 112.84 L1810.9 112.89 L1811.3 112.82 L1811.7 112.87 L1812.1 112.84 L1812.5 112.86 L1812.9 112.88 L1813.3 112.86 L1813.7 112.88 L1814.1 112.88 L1814.5 112.87 L1814.9 112.89 L1815.3 112.88 L1815.7 112.89 L1816.1 112.89 L1816.5 112.89"/>
<path stroke="#000" d="M319.5 113.5 L319.89 113.5 L320.28 113.5 L320.67 113.5 L321.06 113.5 L321.44 113.5 L321.83 113.5 L322.22 113.5 L322.61 113.5 L323 113.5 L323.39 113.5 L323.78 113.5 L324.17 113.5 L324.56 113.5 L324.94 113.5 L325.33 113.5 L325.72 113.5 L326.11 113.5 L326.5 113.5 L326.89 113.5 L327.28 113.5 L327.67 113.5 L328.06 113.5 L328.44 113.5 L328.83 113.5 L329.22 113.5 L329.61 113.5 L330 113.5 L330.38 113.52 L330.77 113.55 L331.15 113.57 L331.54 113.59 L331.92 113.62 L332.31 113.64 L332.69 113.66 L333.08 113.68 L333.46 113.71 L333.85 113.73 L334.23 113.75 L334.62 113.78 L335 113.8 L335.36 114.21 L335.71 114.63 L336.07 115.04 L336.43 115.46 L336.79 115.87 L337.14 116.29 L337.5 116.85 L337.85 118.1 L338.2 119.57 L338.55 120.92 L338.9 122.14 L339.25 123.25 L339.6 124.87 L339.93 127.41 L340.26 130.27 L340.59 132.93 L340.92 135.52 L341.25 137.67 L341.56 142.26 L341.88 145.32 L342.19 150.96 L342.5 154.61 L342.81 159.15 L343.12 165.03 L343.44 169.73 L343.75 176.1 L344.07 189.05 L344.4 202.32 L344.73 206.78 L345.07 215.01 L345.4 224.42 L345.7 240.81 L346 257.26 L346.3 272.24 L346.6 285.17 L346.95 296.52 L347.3 307.2 L347.65 315.89 L348 325.88 L348.35 333.49 L348.7 342.27 L349.05 351.46 L349.4 360.47 L349.7 369.6 L350 378.89 L350.3 387.35 L350.6 397.93 L350.93 403.89 L351.25 411.3 L351.57 417.63 L351.9 422.71 L352.2 428.32 L352.5 434.27 L352.8 441.74 L353.1 447.59 L353.48 453.35 L353.86 460.05 L354.24 465.54 L354.62 473.3 L355 478.24 L355.38 486.41 L355.76 491.71 L356.14 498.18 L356.52 502.49 L356.9 510.19 L357.27 516.35 L357.64 519.9 L358.01 526.19 L358.38 532.04 L358.75 535.92 L359.11 539.93 L359.46 542.62 L359.82 542.73 L360.18 546.19 L360.54 546.35 L360.89 549.88 L361.25 550.14 L361.48 551.04 L361.7 547.97 L361.9 561.22 L362.1 574.11 L362.43 580.21 L362.76 584.76 L363.09 584.11 L363.42 591.42 L363.75 595.62 L364.14 597.26 L364.54 598.62 L364.93 604.12 L365.32 606.04 L365.72 608.68 L366.11 611.09 L366.51 616.26 L366.9 619.66 L367.26 619.82 L367.61 622.92 L367.97 622.79 L368.33 626.81 L368.69 627.73 L369.04 629.25 L369.4 631.13 L369.77 636 L370.14 639.61 L370.51 643.11 L370.7 647.47 L370.88 646.41 L371 641.9 L371.25 650.09 L371.3 647.47 L371.62 651.71 L371.99 652.27 L372.36 653.78 L372.73 653.64 L373.1 652.47 L373.46 657.27 L373.81 659.66 L374.17 658.72 L374.53 659.17 L374.89 660.2 L375.24 661.29 L375.6 662.52 L375.9 660.38 L376.2 660.24 L376.5 658.85 L376.9 645.29 L377.2 653.41 L377.5 663.07 L377.86 661.23 L378.21 661.49 L378.57 659.53 L378.93 660.73 L379.29 654.96 L379.64 655.33 L380 656.04 L380.36 656.46 L380.71 652.57 L381.07 651.84 L381.43 650.45 L381.79 651.17 L382.14 648.24 L382.5 648.28 L382.88 645.38 L383.26 642.54 L383.64 642.61 L384.02 641.08 L384.4 640.24 L384.7 628.62 L385 618.04 L385.31 620.96 L385.62 622.15 L385.94 623.76 L386.25 624.92 L386.56 624.46 L386.88 621.67 L387.19 621.57 L387.5 618.78 L387.86 620.67 L388.21 620.46 L388.57 625.44 L388.93 627.64 L389.29 630.5 L389.64 633.19 L390 633.94 L390.36 634 L390.71 631.07 L391.07 632.62 L391.43 627.5 L391.79 625.66 L392.14 624.44 L392.5 623.98 L392.88 622.71 L393.26 625.25 L393.64 621.62 L394.02 619.46 L394.4 621.28 L394.76 620.13 L395.11 620.18 L395.47 623.41 L395.83 623.92 L396.19 623.5 L396.54 626.42 L396.9 625.75 L397.27 626.09 L397.64 623.44 L398.01 623.28 L398.38 620.25 L398.75 617.35 L399.11 619.14 L399.46 613.84 L399.82 612.09 L400.18 609.37 L400.54 607.8 L400.89 606.17 L401.25 603.98 L401.57 610.14 L401.9 617.06 L402.27 612.61 L402.64 609.08 L403.01 606.89 L403.38 605.23 L403.75 601.82 L404.06 606.26 L404.38 606.3 L404.69 608.08 L405 610 L405.38 606.89 L405.76 606.01 L406.14 606.28 L406.52 604.71 L406.9 601.99 L407.2 607.08 L407.5 606 L407.8 609.6 L408.1 612.23 L408.46 609.43 L408.81 613.66 L409.1 610.55 L409.17 611.31 L409.4 608.39 L409.53 609.16 L409.7 610.55 L409.89 612.18 L410.24 609.96 L410.6 609.24 L410.9 598.89 L411.2 590.54 L411.5 579.5 L411.82 582.66 L412.14 581.82 L412.46 582.9 L412.78 584.63 L413.1 584.08 L413.48 585.8 L413.86 587.57 L414.24 588.16 L414.62 591.71 L415 594.27 L415.38 590.25 L415.7 584.17 L415.75 587.27 L416 578.01 L416.12 582.12 L416.3 584.17 L416.5 579 L416.88 575.84 L417.25 576.42 L417.62 572.21 L418 571.61 L418.38 566.6 L418.75 564.5 L419.11 562.97 L419.46 561.77 L419.82 558.64 L420.18 556.67 L420.54 554.3 L420.89 552.35 L421.25 548.72 L421.62 546.34 L421.99 542.29 L422.36 538.68 L422.73 535.57 L423.1 530.47 L423.48 532.15 L423.86 532.91 L424.24 534.73 L424.62 536.15 L425 535.15 L425.36 536.47 L425.71 537.73 L426.07 533.21 L426.43 533.5 L426.79 532.99 L427.14 533.23 L427.5 534.97 L427.88 531.5 L428.26 529.06 L428.45 527.77 L428.64 528.96 L428.75 509.71 L429.02 525.93 L429.05 527.77 L429.4 526.29 L429.67 516.18 L429.93 508.26 L430.2 496.74 L430.55 512.11 L430.9 522.61 L431.25 534.5 L431.56 533.69 L431.88 532.92 L431.95 533.75 L432.19 532.75 L432.25 518.62 L432.5 533.59 L432.55 533.75 L432.86 533.9 L433.21 536.22 L433.57 536.01 L433.93 538.75 L434.29 540.21 L434.64 539.37 L435 542.62 L435.38 540.11 L435.76 540.84 L436.14 539.14 L436.52 539.06 L436.9 535.75 L437.29 537.48 L437.67 539.97 L438.06 538.29 L438.45 537.36 L438.84 538.17 L439.23 538.57 L439.61 539.37 L440 542.03 L440.39 544.83 L440.77 543.72 L441.16 545.46 L441.55 545.82 L441.94 546.82 L442.33 547.48 L442.71 548.34 L443.1 549.93 L443.48 546.42 L443.86 547.3 L444.24 545.57 L444.62 542.66 L445 542.18 L445.36 538.48 L445.71 536.7 L446.07 535.54 L446.43 533.17 L446.79 530.91 L447.14 528.69 L447.5 526.86 L447.86 526.97 L448.21 522.05 L448.57 523.08 L448.93 520.8 L449.29 520.3 L449.64 518.45 L450 513.72 L450.3 510.05 L450.6 502.87 L450.9 508.28 L451.2 513.46 L451.52 514.61 L451.85 512.78 L452.18 514.98 L452.5 513.15 L452.86 514.24 L453.21 510.17 L453.57 508.34 L453.93 510.46 L454.1 508.7 L454.29 509.91 L454.4 498.32 L454.64 508.25 L454.7 508.7 L455 505.73 L455.3 499 L455.4 495.48 L455.6 482.18 L455.7 501.21 L455.9 499 L456 504.79 L456.35 501.95 L456.7 498.96 L457.05 495.18 L457.4 492.72 L457.75 488.78 L458.1 489.53 L458.47 485.37 L458.83 484.88 L459.2 481.57 L459.57 482.08 L459.93 477.43 L460.3 479.06 L460.6 468.71 L460.9 475.3 L461.2 475.5 L461.2 476.68 L461.5 466.69 L461.58 476.69 L461.8 476.68 L461.96 476.62 L462.34 477.22 L462.72 474.91 L462.8 475 L463.1 475.1 L463.1 471.62 L463.4 475 L463.49 471.29 L463.89 471.55 L464.28 471.77 L464.68 471.27 L465.07 468.43 L465.46 469.86 L465.86 468.27 L466.25 464.93 L466.61 461.04 L466.8 461.6 L466.96 460.1 L467.1 454.27 L467.32 459.82 L467.4 461.6 L467.68 460.57 L468.04 458.21 L468.39 454.02 L468.75 454.74 L468.8 453.07 L469.1 444.7 L469.11 454.89 L469.4 453.07 L469.46 450.64 L469.82 448.24 L470.18 449.51 L470.54 445.24 L470.89 442.66 L471.25 441.65 L471.62 440.02 L471.99 438.26 L472.36 438.89 L472.73 437.53 L473.1 435.97 L473.4 430.88 L473.7 433.32 L474 432.94 L474.38 432.2 L474.75 431.52 L475.12 429.93 L475.5 429.72 L475.88 426.85 L476.25 423.06 L476.62 422.54 L477 424.3 L477.38 421.24 L477.75 420.94 L478.12 418.4 L478.5 419.4 L478.88 416.68 L479.25 417.68 L479.62 414.26 L480 415.04 L480.37 413.4 L480.73 410.67 L481.1 411.64 L481.47 408.21 L481.83 407.18 L482.2 407.83 L482.5 394.28 L482.75 399.32 L483 404.6 L483.36 403.29 L483.72 405.09 L484.08 404.03 L484.44 402.7 L484.81 402.1 L485.17 402.18 L485.53 403.14 L485.89 401.56 L486.25 399.42 L486.62 400.14 L487 398.36 L487.38 397.52 L487.75 399.15 L488.12 395.77 L488.5 394.95 L488.88 392.51 L489.25 392.39 L489.62 393.77 L490 391.7 L490.39 392.39 L490.77 389.82 L491.16 389.52 L491.55 390.48 L491.94 390.68 L492.33 388.98 L492.71 388.98 L493.1 388.86 L493.49 387.61 L493.88 384.87 L494.27 385.31 L494.66 385.67 L495.04 383.98 L495.43 384.49 L495.82 381.66 L496.21 382.04 L496.6 383.11 L496.9 368.72 L497.15 374.85 L497.4 380.98 L497.78 378.61 L498.17 380.25 L498.56 378.85 L498.94 379.02 L499.32 378.65 L499.71 378.76 L500.09 377.48 L500.48 377.82 L500.87 376.62 L500.95 376.9 L501.25 377.54 L501.25 374.15 L501.55 376.9 L501.63 378.61 L502.02 376.64 L502.4 376.37 L502.79 374.59 L503.17 376.49 L503.56 374.57 L503.94 374.27 L504.33 375.6 L504.71 374.93 L505.1 375.75 L505.1 374.29 L505.4 370.64 L505.48 375.89 L505.7 374.29 L505.87 373.37 L506.25 373.9 L506.65 375.49 L507.04 374.29 L507.44 373.71 L507.83 374.11 L508.23 371.62 L508.62 372.76 L508.8 371.69 L509.02 373.37 L509.1 369.11 L509.4 371.69 L509.41 373.32 L509.81 370.25 L510.2 370.6 L510.6 371.04 L510.96 370.62 L511.31 370.86 L511.67 372.46 L512.03 371.62 L512.39 370.33 L512.74 373.16 L513.1 372.61 L513.48 371.87 L513.87 370.53 L514.25 373.11 L514.64 369.03 L515.02 369.22 L515.41 370.48 L515.79 371.82 L516.18 371.53 L516.56 368.31 L516.95 369.05 L517.33 367.13 L517.72 369.65 L518.1 366.4 L518.49 368.49 L518.89 370.39 L519.28 369.49 L519.67 371.99 L520.07 369.85 L520.46 371.82 L520.86 372.93 L521.25 372.34 L521.62 373.47 L521.99 371.89 L522.36 368.76 L522.73 372.55 L523.1 370.15 L523.42 372.8 L523.75 374.34 L524.08 379.32 L524.4 381.97 L524.77 384.74 L525.14 385.93 L525.51 389.13 L525.88 388.66 L526.25 390.59 L526.61 391.5 L526.96 391.97 L527.32 393 L527.68 395.55 L528.04 396.25 L528.39 395.7 L528.75 396.22 L529.12 398.17 L529.5 400.34 L529.88 399.72 L530.25 402.51 L530.62 400.36 L531 402.16 L531.38 400.22 L531.75 402.81 L532.12 403.89 L532.5 405.59 L532.86 407.5 L533.21 406.11 L533.57 408.28 L533.93 407.9 L534.29 408.81 L534.64 407.68 L535 410.34 L535.39 407.43 L535.77 409.16 L536.16 407.41 L536.55 407.83 L536.94 406.66 L537.33 407.67 L537.71 408.59 L538.1 408.02 L538.49 407.26 L538.89 411.2 L539.28 410.61 L539.67 412.08 L540.07 412.53 L540.46 411.57 L540.86 410.81 L541.25 412.7 L541.62 415.41 L541.99 413.04 L542.36 415.44 L542.73 414.05 L543.1 415.45 L543.49 412.59 L543.89 415.72 L544.1 413.97 L544.28 414.02 L544.4 405.89 L544.67 414.77 L544.7 413.97 L545.07 413.66 L545.46 414.04 L545.86 412.7 L545.95 412.5 L546.25 413.35 L546.25 410.09 L546.55 412.5 L546.62 410.51 L547 410.76 L547.38 412.58 L547.75 411.45 L548.12 410.99 L548.5 410.79 L548.88 411.33 L549.25 409.82 L549.62 410.84 L550 408.95 L550.36 408.64 L550.71 409.35 L551.07 408.55 L551.43 405.17 L551.79 406.5 L552.14 403.45 L552.5 404.59 L552.8 401.35 L552.86 400.14 L553.1 396.38 L553.21 399.61 L553.4 401.35 L553.57 398.88 L553.93 397.84 L554.29 398.24 L554.64 396.22 L555 395.56 L555.36 394.52 L555.71 392.18 L556.07 391.58 L556.43 392.49 L556.79 390.69 L557.14 389.84 L557.5 387.86 L557.8 389.27 L557.89 389.2 L558.1 387.06 L558.27 386.71 L558.4 389.27 L558.66 388.63 L559.05 387.95 L559.44 389.79 L559.83 388.36 L560.21 388.45 L560.6 390.3 L560.96 388.26 L561.31 390.54 L561.67 388.71 L562.03 391.71 L562.39 392.79 L562.74 394.02 L563.1 392.72 L563.49 394.9 L563.89 395.68 L564.28 396.07 L564.67 397.05 L565.07 398.19 L565.46 398.9 L565.86 398.07 L566.25 398.62 L566.62 404.03 L566.99 405.21 L567.36 402.9 L567.73 406.52 L568.1 408.22 L568.46 408.9 L568.81 408.73 L569.17 408.04 L569.53 409.43 L569.89 409.61 L570.24 410.87 L570.6 410.94 L570.99 411.25 L571.39 412.73 L571.78 413.13 L572.17 410.52 L572.57 411.5 L572.96 411.28 L573.36 413.75 L573.75 412.43 L574.12 414.05 L574.49 411.71 L574.86 412.17 L575.23 410.47 L575.6 413.4 L575.98 412.6 L576.36 412.43 L576.74 414.58 L577.12 413.85 L577.5 417.46 L577.86 418.79 L578.21 420.15 L578.57 422.69 L578.93 421.78 L579.29 424.21 L579.64 424.8 L579.7 425.6 L580 425.38 L580 423.18 L580.3 425.6 L580.31 421.81 L580.62 423.89 L580.94 420.82 L581.25 420.02 L581.56 419.16 L581.88 421.58 L582.19 422 L582.5 422.53 L582.81 420.47 L583.12 419.96 L583.44 417.99 L583.75 415.83 L584.12 419.03 L584.49 417.31 L584.86 419.06 L585.23 419.83 L585.6 423 L585.92 423.43 L586.25 423.42 L586.58 426.28 L586.9 429.48 L587.26 430.11 L587.61 426.71 L587.97 427.35 L588.33 427.44 L588.69 426.31 L589.04 427.31 L589.4 426.25 L589.76 426.08 L590.11 424.34 L590.47 426.41 L590.83 424.11 L591.19 425.06 L591.54 422.53 L591.9 423.18 L592.26 421.18 L592.61 420.34 L592.97 420.08 L593.33 420.3 L593.69 419.57 L594.04 421.06 L594.4 417.43 L594.7 414.68 L595 415.08 L595.3 411.01 L595.6 405.34 L595.92 415.27 L596.25 422.17 L596.56 416.46 L596.88 415.53 L597.19 412.95 L597.5 410.84 L597.88 410.47 L598.25 408.86 L598.62 409.31 L599 407.33 L599.38 405.89 L599.75 405.18 L600 413.12 L600.25 416.5 L600.58 417.78 L600.91 413.98 L601.24 413.09 L601.57 412.33 L601.9 411.4 L602.2 407.46 L602.5 408.45 L602.8 409.12 L603.1 408.06 L603.42 415.67 L603.75 418.2 L604.12 420.15 L604.49 419.35 L604.86 418.05 L605.23 418.39 L605.6 414.84 L605.96 416.9 L606.31 414.2 L606.67 415.22 L607.03 413.39 L607.39 414.08 L607.74 413.42 L608.1 410.22 L608.49 411.48 L608.89 411.32 L609.28 410.91 L609.67 410.08 L610.07 412.84 L610.46 410.72 L610.86 412.03 L611.25 409.35 L611.62 408.59 L612 409.77 L612.38 408.78 L612.75 411.77 L613.12 409.33 L613.5 410.19 L613.88 408.41 L614.25 408.11 L614.62 408.25 L615 408.51 L615.39 409.16 L615.77 408.12 L616.16 407.56 L616.55 407.2 L616.94 408.42 L617.33 409.25 L617.71 409.2 L618.1 408.73 L618.49 408.22 L618.89 409.23 L619.28 409.88 L619.67 409.33 L620.07 409.66 L620.46 409.51 L620.86 410.9 L621.25 409.5 L621.64 410.14 L622.04 410.3 L622.43 410.61 L622.83 411.42 L623.22 410.4 L623.61 410.24 L624.01 407.78 L624.4 410.1 L624.76 412.19 L625.11 408.97 L625.47 409.02 L625.83 410.21 L626.19 411.9 L626.54 411.59 L626.9 410.7 L627.18 407.88 L627.47 405.78 L627.75 402.02 L628.08 407.95 L628.42 410.74 L628.75 414.16 L629.12 413.62 L629.5 411.68 L629.88 410.13 L630.25 410.61 L630.62 410.15 L631 407.15 L631.3 410.43 L631.6 412.89 L631.9 415.91 L632.27 415.68 L632.64 416.87 L633.01 416.85 L633.38 418.34 L633.75 415.53 L634.11 419.94 L634.46 420.2 L634.7 419.38 L634.82 419.17 L635 417.47 L635.18 420.39 L635.3 419.38 L635.54 420.88 L635.89 419.87 L636.25 421.44 L636.61 422.86 L636.96 423.03 L637.32 424.6 L637.68 424.22 L638.04 424.91 L638.39 424.65 L638.75 425.83 L639.08 416.55 L639.42 409.88 L639.75 399.03 L640.08 414.18 L640.4 432.36 L640.77 427.14 L641.15 420.3 L641.52 418.84 L641.9 411.96 L642.18 418.58 L642.47 420.98 L642.75 424.57 L643.08 426.07 L643.41 423.03 L643.74 423.49 L644.07 423.49 L644.4 423.2 L644.73 419.19 L645.07 414.12 L645.4 409.04 L645.68 423.46 L645.97 431.8 L646.25 445.82 L646.62 443.73 L646.99 446.09 L647.36 446.48 L647.73 444.55 L648.1 446.66 L648.48 448.37 L648.86 449.56 L649.24 449.77 L649.45 451.68 L649.62 451.6 L649.75 449.28 L650 452.05 L650.05 451.68 L650.38 448.5 L650.75 448.33 L651.12 443.91 L651.5 443.49 L651.88 456.02 L652.25 467.72 L652.62 468.88 L653 469.05 L653.38 468.69 L653.75 470.58 L654.06 470.07 L654.38 473.13 L654.69 472.87 L655 471.49 L655.36 473.91 L655.71 475.1 L656.07 474.99 L656.43 479.29 L656.79 480.74 L657.14 482.14 L657.5 481.97 L657.88 484.23 L658.26 483.26 L658.64 485.08 L659.02 486.58 L659.4 485.16 L659.7 475.24 L660 468.39 L660.3 478.86 L660.6 488.9 L660.92 488.07 L661.25 491.03 L661.58 493.39 L661.6 495 L661.9 495.5 L661.9 480.2 L662.2 495 L662.26 495.69 L662.61 493.2 L662.97 493.44 L663.33 494.73 L663.69 493.67 L664.04 493.37 L664.4 493.79 L664.7 498.87 L665 505.61 L665.39 506.2 L665.77 506.58 L666.16 508.2 L666.55 511.34 L666.94 512.58 L667.33 513.62 L667.71 516.3 L668.1 516.48 L668.46 519.77 L668.81 521.76 L669.17 522.96 L669.53 523.54 L669.89 529.89 L670.24 530.72 L670.6 529.97 L670.96 534.69 L671.31 538.31 L671.67 540.27 L672.03 543.88 L672.39 544.77 L672.74 548.77 L673.1 551.19 L673.46 553.36 L673.81 555.64 L674.17 558.44 L674.53 561.61 L674.89 562.25 L675.24 564.71 L675.6 567.68 L675.92 571.11 L676.25 575.44 L676.58 579.58 L676.9 583.98 L677.27 584.37 L677.64 583.97 L678.01 588.42 L678.38 590.91 L678.75 592.29 L679.12 593.82 L679.5 592.97 L679.88 597.58 L680.25 598.13 L680.62 598.26 L681 600.5 L681.38 602.01 L681.75 605.2 L682.12 606.65 L682.5 609.24 L682.89 609.81 L683.27 609.07 L683.66 610.57 L684.05 615.05 L684.44 617.11 L684.83 616.6 L685.21 619.08 L685.6 618.27 L685.96 619.91 L686.31 622.94 L686.67 626.02 L687.03 627.97 L687.39 630.45 L687.74 632.29 L688.1 635.78 L688.45 639.14 L688.8 640.04 L689.15 644.83 L689.5 644.27 L689.75 628.15 L690.1 650.45 L690.35 653.97 L690.6 660.1 L690.96 657.8 L691.32 659.85 L691.67 658.35 L692.03 660.45 L692.39 657.17 L692.75 657.27 L693.08 660.92 L693.41 661.49 L693.74 667.94 L694.07 671.05 L694.4 673.88 L694.77 674.72 L695.14 677.47 L695.51 682.67 L695.88 686.1 L696.25 689.33 L696.56 690.85 L696.88 695.06 L697.19 700.31 L697.5 702.73 L697.88 710.57 L698.25 718.48 L698.62 725.63 L699 730.32 L699.31 736.11 L699.62 738.92 L699.94 742.9 L700.25 746.71 L700.58 746.72 L700.91 745.88 L701.24 745.62 L701.57 744.72 L701.9 745.26 L702.22 743.01 L702.54 739.52 L702.86 738.76 L703.18 736.14 L703.5 732.95 L703.8 741.52 L703.8 747.07 L704.1 748.63 L704.1 719.35 L704.4 755.3 L704.4 747.07 L704.77 748.54 L705.14 739.99 L705.51 735.92 L705.88 729.74 L706.25 720.51 L706.62 727.36 L706.99 731.13 L707.36 734.66 L707.73 738.79 L708.1 742.56 L708.46 745.83 L708.81 745.5 L709.17 747.4 L709.53 749.31 L709.89 751.28 L710.24 750.94 L710.6 755.79 L710.96 752.5 L711.31 750.71 L711.67 748.21 L712.03 745.7 L712.39 743.4 L712.74 741.72 L713.1 739.65 L713.42 745.91 L713.75 750.35 L714.08 746.53 L714.42 745.32 L714.75 738.72 L715.11 740.95 L715.47 744.94 L715.83 746.66 L716.18 747.39 L716.54 751.15 L716.9 753.04 L717.2 756.13 L717.5 755.63 L717.8 758.55 L718.1 759.21 L718.43 756.19 L718.76 754.07 L719.09 752.13 L719.42 747.15 L719.75 747.33 L720 764.62 L720.31 764.3 L720.62 759.31 L720.94 758.64 L721.25 752.8 L721.58 762.06 L721.9 767.78 L722.3 756 L722.5 779.88 L722.81 783.18 L723.12 787.3 L723.44 790.18 L723.75 791.96 L724.12 797.81 L724.49 804.45 L724.86 806.55 L725.23 811.04 L725.6 814.56 L725.92 819.24 L726.25 823.3 L726.58 826.93 L726.9 832.11 L727.2 827.83 L727.5 826.12 L727.8 824.26 L728.1 820.98 L728.42 824.09 L728.75 829.93 L729.08 832.46 L729.4 837.05 L729.7 841.98 L730 848.01 L730.3 853.01 L730.6 858.28 L730.92 863.49 L731.25 868.64 L731.58 870.58 L731.9 875.52 L732.27 879.02 L732.64 883.86 L733.01 889.27 L733.38 892.57 L733.75 896.08 L734.12 895.79 L734.49 895.52 L734.86 895.75 L735.23 896.24 L735.6 893.64 L735.98 893.21 L736.36 892.58 L736.74 891 L737.12 893.33 L737.5 891.21 L737.88 889.71 L738.25 882.95 L738.62 882.23 L739 876.8 L739.31 874.59 L739.62 871.51 L739.94 869.05 L740.25 866.18 L740.58 869.72 L740.91 870.19 L741.24 873.26 L741.57 875.49 L741.9 878.17 L742.2 880.58 L742.5 883.77 L742.8 886.94 L743.1 889.38 L743.43 889.13 L743.76 887.16 L744.09 886.73 L744.42 888.78 L744.75 886.24 L745.06 882.73 L745.38 882 L745.69 877.66 L746 874.35 L746.38 874.49 L746.75 877.65 L747.12 876.73 L747.5 878.21 L747.88 874.71 L748.25 869.56 L748.62 864.6 L749 859.79 L749.38 871.77 L749.75 883.45 L750.12 883.66 L750.5 887.74 L750.88 892.07 L751.25 894.18 L751.58 882.11 L751.9 872.07 L752.2 874.09 L752.5 875.96 L752.8 878.44 L753.1 881.51 L753.4 877.75 L753.7 876.29 L754 872.62 L754.31 874.29 L754.62 877.76 L754.94 879.38 L755.25 881.51 L755.58 879.04 L755.91 875.32 L756.24 871.39 L756.57 869.19 L756.9 865.31 L757.2 867.51 L757.5 866.72 L757.8 867.09 L758.1 867.54 L758.4 871.11 L758.7 877.13 L759 880.62 L759.32 876.9 L759.64 874.3 L759.96 872.52 L760.28 867.56 L760.6 866.46 L760.96 865.26 L761.31 866.44 L761.67 864.71 L762.03 867.07 L762.39 865.7 L762.74 863.4 L763.1 866.16 L763.48 865.42 L763.85 866.17 L764.23 867.13 L764.6 869.97 L764.93 864.02 L765.27 855.05 L765.6 847.75 L765.92 844.65 L766.25 844.32 L766.58 841.53 L766.9 836.55 L767.2 841.34 L767.5 844.7 L767.8 848.54 L768.1 853.46 L768.4 856.91 L768.7 860.76 L769 864.11 L769.32 862.09 L769.64 857.86 L769.96 855.06 L770.28 852.1 L770.6 847.55 L770.92 844.7 L771.25 840.94 L771.58 837.6 L771.9 832.64 L772.2 836 L772.5 842.25 L772.8 845.22 L773.1 848.39 L773.4 851.62 L773.7 852.52 L774 854.31 L774.32 853 L774.64 848.76 L774.96 847.66 L775.28 847.64 L775.6 845.03 L775.98 840.1 L776.36 838.42 L776.74 835.14 L777.12 831.19 L777.5 826.87 L777.81 830.9 L778.12 836.68 L778.44 841.84 L778.75 845.89 L779.12 851.69 L779.5 856.24 L779.88 861.1 L780.25 863.57 L780.58 864.56 L780.91 863.08 L781.24 858.84 L781.57 855.64 L781.9 855.64 L782.27 851.53 L782.64 848.03 L783.01 847.22 L783.38 841.62 L783.75 840.72 L784.12 835.13 L784.49 834.22 L784.86 829.66 L785.23 825.26 L785.6 822.05 L785.92 823.88 L786.25 825.53 L786.58 826.93 L786.9 828.05 L787.18 830.36 L787.47 834.83 L787.75 836.19 L788.08 836.5 L788.41 834.37 L788.74 832.89 L789.07 828.91 L789.4 827.69 L789.7 828.98 L790 829.07 L790.3 828.95 L790.6 830.31 L790.98 828.32 L791.36 827.5 L791.74 824.12 L792.12 823.34 L792.5 821.54 L792.88 819.01 L793.26 815.18 L793.64 812.38 L794.02 809.18 L794.4 806.28 L794.77 805.89 L795.14 805.18 L795.51 807.34 L795.88 803.93 L796.25 803.23 L796.56 805.32 L796.88 807.11 L797.19 809.55 L797.5 812.68 L797.81 815.44 L798.12 816.49 L798.44 816.55 L798.75 821.63 L799.12 821.69 L799.49 824.25 L799.86 825.35 L800.23 828.68 L800.6 829.37 L800.96 833.48 L801.32 835.89 L801.67 837.88 L802.03 840.91 L802.39 844.46 L802.75 845.88 L803.06 840.92 L803.38 833.73 L803.69 827.77 L804 822.05 L804.31 817.89 L804.62 812.4 L804.94 807.25 L805.25 803.22 L805.56 799.85 L805.88 801.94 L806.19 797.87 L806.5 799 L806.81 798.64 L807.12 800.81 L807.44 801.28 L807.75 802.8 L808.08 804 L808.42 804.94 L808.75 809.81 L809.12 806.67 L809.49 804.49 L809.86 802.28 L810.23 802.86 L810.6 798.17 L810.93 800.33 L811.26 800.09 L811.59 804.02 L811.92 803.19 L812.25 802.8 L812.62 810.95 L813 811.4 L813.38 817.56 L813.75 820.73 L814.06 823.15 L814.38 824.77 L814.69 827.69 L815 831.22 L815.38 830.12 L815.75 831.08 L816.12 832.18 L816.5 831.75 L816.88 831.66 L817.25 833.95 L817.62 834.72 L818 836.12 L818.38 837.35 L818.75 838.99 L819.12 842.14 L819.49 843.45 L819.86 841.58 L820.23 844.38 L820.6 847.21 L820.92 850.95 L821.25 853.4 L821.58 854.69 L821.9 857.62 L822.27 857.22 L822.64 860.02 L823.01 859.51 L823.38 861.69 L823.75 864.07 L824.12 868.67 L824.49 870 L824.86 872.27 L825.23 874.58 L825.6 876.18 L826 888.7 L826.3 882.55 L826.6 877.94 L826.9 871.61 L827.2 878.72 L827.5 883.16 L827.8 891.3 L828.1 898.22 L828.42 891.71 L828.75 886.81 L829.08 878.92 L829.4 873.01 L829.7 875.83 L830 877.25 L830.3 883.09 L830.6 884.74 L830.92 880.69 L831.25 877.22 L831.58 875.89 L831.9 873.36 L832.2 874.51 L832.5 876.44 L832.8 877.94 L833.1 880 L833.42 885.24 L833.75 889.2 L834.08 890.2 L834.4 895.74 L834.7 894.56 L835 894.59 L835.3 896.67 L835.6 895.41 L835.93 890.55 L836.26 889.9 L836.59 887.03 L836.92 884.29 L837.25 878.35 L837.53 879.78 L837.82 875.72 L838.1 876.46 L838.4 881.35 L838.7 884.64 L839 888.82 L839.33 880.54 L839.67 871.59 L840 865.28 L840.3 876.31 L840.6 889.22 L840.98 888.95 L841.36 892.3 L841.74 893.82 L842.12 897.31 L842.5 898.53 L842.88 899.5 L843.26 899.42 L843.64 902.06 L844.02 903.87 L844.4 904.76 L844.7 909.67 L845 918.38 L845.05 928.26 L845.33 935.44 L845.6 944.85 L845.92 949.92 L846.25 952.7 L846.58 955.62 L846.9 959.79 L847.2 965.65 L847.5 966.12 L847.8 972.55 L848.1 974.69 L848.42 972.23 L848.75 971.86 L849.08 966.86 L849.4 965.84 L849.7 963.39 L850 961.07 L850.3 961.08 L850.6 961.24 L850.92 964.48 L851.25 969.98 L851.58 974.27 L851.9 978.8 L852.2 975.79 L852.5 973.89 L852.8 969.01 L853.1 968.26 L853.48 969.52 L853.86 974.55 L854.24 977.39 L854.62 978.87 L855 983.38 L855.3 986.27 L855.6 989.49 L855.9 992.1 L856.23 983.85 L856.57 975.33 L856.9 964.27 L857.2 967.85 L857.5 973.81 L857.8 973.83 L858.1 977.58 L858.42 977.38 L858.75 978.95 L859.08 978.29 L859.4 978.05 L859.7 981.81 L860 987.64 L860.3 991.91 L860.6 995.67 L860.92 989.53 L861.25 987.6 L861.58 982.65 L861.9 979.45 L862.18 971.37 L862.47 965.01 L862.75 958.1 L863.06 963.84 L863.38 968.69 L863.69 974.57 L863.7 982.5 L864 981.66 L864 979.36 L864.3 982.5 L864.31 978.52 L864.62 977.11 L864.94 972.77 L865.25 969.79 L865.56 972.33 L865.88 976.21 L866.19 979.3 L866.5 980.47 L866.83 973.48 L867.17 969.04 L867.5 961.73 L867.88 962.97 L868.25 966.74 L868.62 968.04 L869 968.42 L869.33 968.19 L869.67 965.33 L870 960.46 L870.33 966.6 L870.67 975.58 L871 982.65 L871.38 976.78 L871.75 968.83 L872.12 964.16 L872.5 959.48 L872.81 959.87 L873.12 964.47 L873.44 967.42 L873.75 971.02 L874.12 973.68 L874.5 982.36 L874.88 990.52 L875.25 993.72 L875.58 992.92 L875.91 993.19 L876.24 990.17 L876.57 991.15 L876.9 989.34 L877.2 986.39 L877.5 987.61 L877.8 985.27 L878.1 987.3 L878.42 986.59 L878.75 988.63 L879.08 991.56 L879.4 994.12 L879.68 1004.78 L879.97 1011.65 L880.25 1020.32 L880.58 1028.68 L880.92 1034.23 L881.25 1041.86 L881.58 1043.44 L881.9 1047.11 L882.2 1044.61 L882.5 1039.66 L882.8 1035.25 L883.1 1031.93 L883.4 1023.14 L883.7 1017.04 L884 1006.93 L884.33 1015.95 L884.67 1023.08 L885 1030.41 L885.3 1033.83 L885.6 1039.02 L885.92 1036.8 L886.25 1032.78 L886.58 1029.44 L886.9 1025.07 L887.2 1017.41 L887.5 1009.45 L887.8 1003.04 L888.1 997.25 L888.48 992.35 L888.86 988.49 L889.24 988.9 L889.62 983.9 L890 983.11 L890.38 978.26 L890.76 975.09 L891.14 973.67 L891.52 966.68 L891.9 963.1 L892.2 970.73 L892.5 976.85 L892.8 982.99 L893.1 989.24 L893.42 986.59 L893.75 983.06 L894.08 976.77 L894.4 972.5 L894.7 977.01 L895 974.68 L895.3 978.29 L895.6 979.23 L895.98 975.79 L896.36 976.09 L896.74 972.29 L897.12 970.55 L897.5 968.47 L897.88 967.92 L898.26 963.51 L898.64 962.19 L899.02 957.11 L899.4 955.68 L899.7 958.42 L900 958.66 L900.3 959.39 L900.6 962.12 L900.92 962.01 L901.25 959.56 L901.58 956.45 L901.9 953.08 L902.27 953.29 L902.64 951.79 L903.01 949.31 L903.38 945.48 L903.75 942.29 L904.06 942.89 L904.38 944.37 L904.69 944.44 L905 949.85 L905.31 950.6 L905.62 956.17 L905.94 956.79 L906.25 958.22 L906.62 964.8 L906.99 964.55 L907.36 967.77 L907.73 972.81 L908.1 975.35 L908.48 974.02 L908.86 978.75 L909.24 980.05 L909.62 984.34 L910 988.24 L910.31 981.62 L910.62 979.77 L910.94 973.04 L911.25 972.39 L911.56 976.28 L911.88 983.87 L912.19 991.89 L912.5 997.21 L912.8 984.83 L913.1 966.32 L913.42 973.49 L913.75 976.71 L914.08 983.56 L914.4 988.74 L914.7 984.26 L915 981.16 L915.3 975.33 L915.6 974.17 L915.9 978.56 L916.2 981.75 L916.5 992.21 L916.85 991.12 L917.2 992.96 L917.55 991.68 L917.9 990.08 L918.27 986.73 L918.65 980.53 L919.02 976.52 L919.4 970.72 L919.7 974.29 L920 974.93 L920.3 979.75 L920.6 981.99 L920.92 985.7 L921.25 985.64 L921.58 989.53 L921.9 994.32 L922.27 992.95 L922.64 996.81 L923.01 999.21 L923.38 999.49 L923.75 1002.34 L924.12 1005.52 L924.5 1009.23 L924.88 1010.22 L925.25 1013.63 L925.58 1021.92 L925.92 1027.5 L926.25 1035.65 L926.59 1031.18 L926.92 1025.88 L927.26 1025.02 L927.6 1022.87 L927.98 1025.76 L928.37 1031.43 L928.75 1036 L929.06 1035.93 L929.38 1037.15 L929.69 1038.43 L930 1039.92 L930.31 1036.22 L930.62 1032.07 L930.94 1029.37 L931.25 1030.19 L931.62 1032.55 L931.99 1034.98 L932.36 1037.94 L932.73 1041.66 L933.1 1047.36 L933.46 1046.55 L933.81 1045.6 L934.17 1048.67 L934.53 1048.63 L934.89 1048.54 L935.24 1050.1 L935.6 1049.09 L935.92 1054.19 L936.25 1054.68 L936.58 1058.38 L936.9 1060.99 L937.2 1061.1 L937.5 1059.79 L937.8 1059.29 L938.1 1058.76 L938.43 1062.69 L938.77 1065.58 L939.1 1069.03 L939.48 1066.33 L939.85 1060.08 L940.23 1054.58 L940.6 1053.05 L940.98 1052.02 L941.36 1048.21 L941.74 1046.92 L942.12 1043.28 L942.5 1042.2 L942.88 1040.1 L943.26 1037.22 L943.64 1033.61 L944.02 1033.39 L944.4 1029.19 L944.74 1026.32 L945.08 1022.05 L945.42 1018.86 L945.76 1015.23 L946.1 1010.26 L946.44 1011.32 L946.78 1012.68 L947.12 1012.4 L947.46 1010.94 L947.8 1011.86 L948.07 1011.79 L948.33 1018.09 L948.6 1019.78 L948.94 1013.99 L949.28 1012.4 L949.62 1009.55 L949.96 1003.97 L950.3 1003.13 L950.6 999.73 L950.9 994.1 L951.2 993.86 L951.5 990.12 L951.88 993.77 L952.25 998.4 L952.62 993.57 L953 988.04 L953.38 984.19 L953.75 980.76 L954.06 978.76 L954.38 975.98 L954.69 970.93 L955 968.62 L955.33 974.89 L955.67 984.05 L956 988.19 L956.38 982.56 L956.75 977.43 L957.12 972.46 L957.5 965.9 L957.83 974.2 L958.17 982.14 L958.5 990.26 L958.88 986.67 L959.25 985.25 L959.62 984.07 L960 981.56 L960.31 984.64 L960.62 984.8 L960.94 988.81 L961.25 991.61 L961.56 991.72 L961.88 994.04 L962.19 995.87 L962.5 998.09 L962.81 992.61 L963.12 988.49 L963.44 982.13 L963.75 977.2 L964.06 979.11 L964.38 980.1 L964.69 984.23 L965 986 L965.31 984.3 L965.62 982.77 L965.94 982.42 L966.25 980.58 L966.56 980.68 L966.88 977.38 L967.19 972.52 L967.5 970.78 L967.8 977.52 L968.1 982.31 L968.48 980.93 L968.86 976.31 L969.24 971.59 L969.62 966.12 L970 963.44 L970.36 962.56 L970.71 959.45 L971.07 957.62 L971.43 954.49 L971.79 953.34 L972.14 950.28 L972.5 946.79 L972.9 945.91 L973.3 943.44 L973.7 940.15 L974.1 941.21 L974.5 937.34 L974.9 934.85 L975.3 933.83 L975.67 932.03 L976.03 932.08 L976.4 928.72 L976.77 928.33 L977.13 929.18 L977.5 929.34 L977.9 927.81 L978.3 928.1 L978.7 927.03 L979.1 927.99 L979.5 927.32 L979.85 929.8 L980.2 932.65 L980.55 931.54 L980.9 935.85 L981.25 936.62 L981.58 940.29 L981.91 945.75 L982.24 948.32 L982.57 952.53 L982.9 953.06 L983.27 959.07 L983.65 963.55 L984.02 967.93 L984.4 973.58 L984.77 973.22 L985.14 970.14 L985.51 969.43 L985.88 968.24 L986.25 970.01 L986.56 962.87 L986.88 958.01 L987.19 952.45 L987.5 946.44 L987.81 941.04 L988.12 934.17 L988.44 927.91 L988.75 919.75 L989.06 912.49 L989.38 904.98 L989.69 900.07 L990 892.36 L990.33 887.87 L990.67 885.3 L991 880.61 L991.37 882.68 L991.73 878.93 L992.1 878.33 L992.43 879.47 L992.76 882.88 L993.09 882.3 L993.42 884.46 L993.75 884.28 L994.06 885.4 L994.38 889.93 L994.69 890.72 L995 892.3 L995.31 891.58 L995.62 891.02 L995.94 890.55 L996.25 885.37 L996.62 884.68 L997 888.32 L997.38 887.83 L997.75 887.08 L998.12 888.36 L998.5 888.9 L998.85 891.96 L999.2 891.48 L999.55 894.79 L999.9 894.64 L1000.25 896.34 L1000.58 896.24 L1000.91 893.41 L1001.24 892.08 L1001.57 893.44 L1001.9 889.09 L1002.22 892 L1002.54 892.15 L1002.86 892.73 L1003.18 892.3 L1003.5 892.16 L1003.88 898.2 L1004.25 902.17 L1004.62 907.51 L1005 912.6 L1005.38 917.31 L1005.75 922.57 L1006.12 929.69 L1006.5 934.16 L1006.82 937.69 L1007.14 942.17 L1007.46 946.56 L1007.78 952.32 L1008.1 955.52 L1008.43 954.36 L1008.76 956.29 L1009.09 959.82 L1009.42 962.36 L1009.75 963.61 L1010.12 964.89 L1010.5 962.54 L1010.88 961.8 L1011.25 958.29 L1011.56 959.64 L1011.88 961.32 L1012.19 964.25 L1012.5 964.87 L1012.81 970.24 L1013.12 975.15 L1013.44 981.35 L1013.75 984.48 L1014.06 984.08 L1014.38 985.76 L1014.69 987.08 L1015 988.12 L1015.3 984.61 L1015.6 984.46 L1015.93 989.53 L1016.26 992.79 L1016.59 996.76 L1016.92 1000.26 L1017.25 1004.33 L1017.62 1000.42 L1018 1000.97 L1018.38 997.56 L1018.75 995.77 L1019.08 1006.48 L1019.4 1015.38 L1019.7 1021.74 L1020 1025.12 L1020.31 1033.52 L1020.62 1038.94 L1020.94 1045.98 L1021.25 1052.2 L1021.62 1056.94 L1022 1055.81 L1022.38 1060.35 L1022.75 1063.41 L1023.08 1060.32 L1023.41 1059.38 L1023.74 1056.11 L1024.07 1056.96 L1024.4 1053.45 L1024.68 1048.32 L1024.97 1040.55 L1025.25 1032.83 L1025.62 1030.17 L1025.99 1029.26 L1026.36 1028.48 L1026.73 1026.13 L1027.1 1025.13 L1027.43 1032.07 L1027.77 1043.23 L1028.1 1049.74 L1028.42 1054.7 L1028.75 1062.69 L1029.08 1068.37 L1029.4 1072.4 L1029.78 1064.62 L1030.15 1058.8 L1030.53 1049.47 L1030.9 1044.13 L1031.23 1050.12 L1031.57 1060.11 L1031.9 1068.76 L1032.2 1081.33 L1032.5 1089.24 L1032.88 1088.88 L1033.26 1085.86 L1033.64 1083.36 L1034.02 1079.76 L1034.4 1076.67 L1034.8 1079.89 L1035.2 1082.43 L1035.6 1086.62 L1035.98 1089.37 L1036.36 1093.5 L1036.74 1098.52 L1037.12 1100.23 L1037.5 1107.04 L1037.88 1111.01 L1038.26 1114.75 L1038.64 1117.13 L1039.02 1119.89 L1039.4 1123.92 L1039.8 1131.94 L1040.2 1138.92 L1040.6 1146.4 L1040.92 1144.17 L1041.25 1140.96 L1041.58 1137.54 L1041.9 1135.29 L1042.2 1141.62 L1042.5 1149.91 L1042.83 1144.82 L1043.17 1139.82 L1043.5 1133.62 L1043.81 1141.15 L1044.12 1143.32 L1044.44 1151.35 L1044.75 1156.08 L1045.12 1145.75 L1045.5 1139.95 L1045.88 1131.13 L1046.25 1124.84 L1046.56 1119.36 L1046.88 1112.35 L1047.19 1104.75 L1047.5 1100.29 L1047.81 1094.04 L1048.12 1087.47 L1048.44 1080.1 L1048.75 1074.62 L1049.06 1069.05 L1049.38 1062.33 L1049.69 1058.57 L1050 1050.28 L1050.38 1044.47 L1050.76 1039.93 L1051.14 1032.88 L1051.52 1029.26 L1051.9 1025.28 L1052.3 1013.86 L1052.7 1006.5 L1053.1 998.34 L1053.4 987.3 L1053.7 982.64 L1054 971.35 L1054.33 968.38 L1054.67 965.42 L1055 960.99 L1055.3 967.76 L1055.6 972.67 L1055.8 983.13 L1056 992.58 L1056.38 991.62 L1056.75 985.28 L1057.12 985.4 L1057.5 982.17 L1057.8 988.32 L1058.1 995.36 L1058.42 992.18 L1058.75 990.01 L1059.08 984.95 L1059.4 982.32 L1059.7 990.3 L1060 996.23 L1060.33 1002.06 L1060.67 1006.59 L1061 1006.76 L1061.31 1002.26 L1061.62 994.66 L1061.94 989.34 L1062.25 982.3 L1062.62 985.54 L1063 983.39 L1063.38 985.25 L1063.75 985.67 L1064.12 986.93 L1064.5 988.87 L1064.88 995.01 L1065.25 998.43 L1065.58 995.16 L1065.91 993.3 L1066.24 993.32 L1066.57 991.44 L1066.9 989.8 L1067.27 989.79 L1067.64 989.38 L1068.01 989.66 L1068.38 989.56 L1068.75 992.44 L1069.12 993.86 L1069.49 991.53 L1069.86 990.16 L1070.23 987.83 L1070.6 988.02 L1070.9 990.84 L1071.2 992.67 L1071.5 996 L1071.9 1000.93 L1072.3 1007.96 L1072.7 1013.17 L1073.1 1019.19 L1073.43 1015.91 L1073.76 1008.81 L1074.09 1004.45 L1074.42 998.46 L1074.75 995.11 L1075.12 994.93 L1075.5 993.25 L1075.88 992.06 L1076.25 991.16 L1076.62 992.56 L1077 994.58 L1077.38 996.07 L1077.75 996.43 L1078.08 1002.33 L1078.41 1007.04 L1078.74 1009.27 L1079.07 1014.76 L1079.4 1019.94 L1079.8 1012.4 L1080.2 1005.42 L1080.6 1001.01 L1081 996.75 L1081.38 992.75 L1081.75 992.38 L1082.12 990.42 L1082.5 989.61 L1082.88 991.26 L1083.26 993.62 L1083.64 992.21 L1084.02 993.22 L1084.4 994.04 L1084.77 995.05 L1085.14 995.81 L1085.51 997.81 L1085.88 999.88 L1086.25 1001.29 L1086.62 1003.99 L1086.99 1003.25 L1087.36 1004.74 L1087.73 1006.22 L1088.1 1008.72 L1088.45 1011.08 L1088.8 1014.85 L1089.15 1015.88 L1089.5 1020.5 L1089.87 1029.87 L1090.23 1037.88 L1090.6 1046.82 L1090.92 1050.82 L1091.25 1052.88 L1091.58 1059.07 L1091.9 1060.15 L1092.27 1063.87 L1092.64 1064.61 L1093.01 1067.07 L1093.38 1072.76 L1093.75 1075.57 L1094.12 1077.29 L1094.5 1080.63 L1094.88 1083.63 L1095.25 1087.75 L1095.58 1086.02 L1095.91 1080.8 L1096.24 1080.53 L1096.57 1076.54 L1096.9 1074.42 L1097.3 1071.91 L1097.7 1067.67 L1098.1 1068.67 L1098.43 1070.42 L1098.76 1070.58 L1099.09 1072.22 L1099.42 1072.1 L1099.75 1077.42 L1100.1 1072.52 L1100.45 1069.86 L1100.8 1068.82 L1101.15 1065.29 L1101.5 1061.65 L1101.9 1066.32 L1102.3 1070.21 L1102.7 1074.76 L1103.1 1079.36 L1103.42 1078.4 L1103.75 1078.31 L1104.08 1075.93 L1104.4 1076.05 L1104.8 1084.38 L1105.2 1088.65 L1105.6 1098.28 L1105.98 1101.57 L1106.36 1106.34 L1106.74 1114.99 L1107.12 1119.75 L1107.5 1124.33 L1107.88 1125.73 L1108.26 1130.4 L1108.64 1129.75 L1109.02 1133.82 L1109.4 1136.78 L1109.8 1133.28 L1110.2 1125.8 L1110.6 1120.68 L1110.92 1133.55 L1111.25 1144.1 L1111.58 1147.89 L1111.92 1150.69 L1112.25 1155.55 L1112.62 1149.38 L1113 1147.01 L1113.38 1143.01 L1113.75 1136.69 L1114.08 1130.8 L1114.41 1128.36 L1114.74 1123.78 L1115.07 1119.41 L1115.4 1116.43 L1115.77 1121.82 L1116.13 1130.63 L1116.5 1135.42 L1116.9 1130.99 L1117.3 1130.62 L1117.7 1126.46 L1118.1 1123.21 L1118.42 1127.64 L1118.75 1131.05 L1119.08 1132.8 L1119.4 1137.17 L1119.8 1136.25 L1120.2 1132.06 L1120.6 1129.45 L1120.92 1132.06 L1121.25 1135.1 L1121.58 1134.61 L1121.9 1136.73 L1122.3 1144.82 L1122.7 1153.51 L1123.1 1161.5 L1123.42 1165.61 L1123.75 1168.63 L1124.08 1172.51 L1124.4 1173.69 L1124.7 1173.03 L1125 1172.9 L1125.31 1166.39 L1125.62 1156.33 L1125.94 1151.21 L1126.25 1144.72 L1126.58 1148.17 L1126.92 1156.33 L1127.25 1162.57 L1127.62 1155.99 L1128 1153.28 L1128.38 1152.92 L1128.75 1150 L1129.06 1150.79 L1129.38 1154.54 L1129.69 1159.79 L1130 1162.23 L1130.38 1164.74 L1130.75 1169.88 L1131.12 1171.27 L1131.5 1171.75 L1131.83 1171.95 L1132.17 1168.04 L1132.5 1168.32 L1132.83 1171.5 L1133.17 1173.82 L1133.5 1177.27 L1133.87 1173.83 L1134.23 1167.88 L1134.6 1162.09 L1134.93 1150.88 L1135.27 1141.91 L1135.6 1130.11 L1135.92 1127.17 L1136.25 1125.74 L1136.58 1121.79 L1136.9 1119.82 L1137.3 1120.35 L1137.7 1117.83 L1138.1 1116.56 L1138.42 1118.75 L1138.75 1118.5 L1139.08 1122.73 L1139.4 1124.4 L1139.8 1115.8 L1140.2 1107.68 L1140.6 1096.37 L1140.9 1103.35 L1141.2 1103.42 L1141.5 1104.67 L1141.9 1103.25 L1142.3 1098.6 L1142.7 1096.95 L1143.1 1094.34 L1143.4 1094.8 L1143.7 1099.68 L1144 1101.39 L1144.4 1099.45 L1144.8 1097.32 L1145.2 1095.25 L1145.6 1093.73 L1145.97 1095.32 L1146.35 1096.79 L1146.72 1097.28 L1147.1 1100.31 L1147.45 1103.45 L1147.8 1106.53 L1148.15 1112.14 L1148.5 1115.25 L1148.88 1117.19 L1149.25 1115.58 L1149.62 1115.36 L1150 1115.85 L1150.31 1119.23 L1150.62 1124.09 L1150.94 1130.34 L1151.25 1132.23 L1151.56 1126.86 L1151.88 1121.73 L1152.19 1116.8 L1152.5 1110.27 L1152.81 1107.16 L1153.12 1105.86 L1153.44 1107.18 L1153.75 1104.1 L1154.12 1101.82 L1154.5 1100.72 L1154.88 1102.42 L1155.25 1100.22 L1155.56 1097.74 L1155.88 1099.82 L1156.19 1101.91 L1156.5 1101.6 L1156.9 1099.87 L1157.3 1097.27 L1157.7 1092.05 L1158.1 1089.07 L1158.42 1087 L1158.75 1086.6 L1159.08 1085.71 L1159.4 1083.53 L1159.8 1086.73 L1160.2 1094.16 L1160.6 1098.11 L1160.9 1102.12 L1161.2 1102.17 L1161.5 1104.26 L1161.81 1101.68 L1162.12 1100.26 L1162.44 1099.37 L1162.75 1097.47 L1163.06 1093.61 L1163.38 1084.99 L1163.69 1081.38 L1164 1074.35 L1164.4 1069.7 L1164.8 1060.52 L1165.2 1057.66 L1165.6 1049.66 L1165.97 1044.27 L1166.35 1042.04 L1166.72 1036.66 L1167.1 1032.8 L1167.42 1038.54 L1167.75 1040.67 L1168.08 1045.75 L1168.4 1051.34 L1168.78 1049.19 L1169.15 1045.1 L1169.53 1042.32 L1169.9 1041.35 L1170.27 1048.5 L1170.63 1055.87 L1171 1060.93 L1171.38 1054.27 L1171.75 1052.7 L1172.12 1048.4 L1172.5 1041.39 L1172.88 1037.35 L1173.25 1031.8 L1173.62 1026.12 L1174 1019.49 L1174.4 1017.34 L1174.8 1015.16 L1175.2 1009.8 L1175.6 1010 L1175.92 1009.3 L1176.24 1011.24 L1176.56 1010.33 L1176.88 1009.92 L1177.2 1013.8 L1177.59 1010.43 L1177.97 1002.7 L1178.36 999.45 L1178.75 997.1 L1179.06 1000.1 L1179.38 1006.34 L1179.69 1008.87 L1180 1013.43 L1180.31 1021.88 L1180.62 1025.85 L1180.94 1036.24 L1181.25 1048.03 L1181.62 1040.61 L1182 1032.9 L1182.38 1031.73 L1182.75 1028.71 L1183.08 1021.54 L1183.41 1012.45 L1183.74 1006.57 L1184.07 1001.33 L1184.4 994.36 L1184.8 991.72 L1185.2 985.27 L1185.6 980.92 L1185.9 986.83 L1186.2 988.99 L1186.5 993.38 L1186.9 993.87 L1187.3 986.91 L1187.7 984.64 L1188.1 979.54 L1188.5 976.09 L1188.81 980.55 L1189.12 989.97 L1189.44 998.45 L1189.75 1006.1 L1190.12 1001.68 L1190.5 997.49 L1190.88 991.95 L1191.25 988.74 L1191.62 983.3 L1192 981.95 L1192.38 976.23 L1192.75 971.43 L1193.08 980.45 L1193.42 991.52 L1193.75 1002.64 L1194.12 1002.93 L1194.5 996.14 L1194.88 997.96 L1195.25 993.58 L1195.58 986.84 L1195.92 980.54 L1196.25 978.49 L1196.58 985.32 L1196.9 999.17 L1197.3 995.87 L1197.7 993.04 L1198.1 991.05 L1198.48 987.39 L1198.86 987.22 L1199.24 983.31 L1199.62 984.1 L1200 983.6 L1200.38 980.87 L1200.76 981.16 L1201.14 979.69 L1201.52 977.88 L1201.9 977.39 L1202.27 979.4 L1202.64 978.45 L1203.01 981.55 L1203.38 987.28 L1203.75 984.99 L1204.12 992.09 L1204.5 988.71 L1204.88 992.55 L1205.25 994.6 L1205.58 991.85 L1205.91 994.34 L1206.24 989.03 L1206.57 992.38 L1206.9 990.27 L1207.3 987.23 L1207.7 986.82 L1208.1 983.47 L1208.5 977.83 L1208.8 985.87 L1209.1 988.47 L1209.4 990.19 L1209.8 991.74 L1210.2 995.34 L1210.6 997.38 L1210.98 994.12 L1211.36 989.55 L1211.74 990.48 L1212.12 990.36 L1212.5 986 L1212.83 982.83 L1213.17 982.51 L1213.5 980.2 L1213.87 984.01 L1214.23 988.88 L1214.6 986.07 L1214.93 987.18 L1215.26 983.63 L1215.59 981.03 L1215.92 978.3 L1216.25 976.85 L1216.56 973.19 L1216.88 969.29 L1217.19 966.72 L1217.5 963.94 L1217.88 964.51 L1218.26 968.13 L1218.64 963.31 L1219.02 965.23 L1219.4 971.63 L1219.8 967.6 L1220.2 965.51 L1220.6 964.27 L1221 956.37 L1221.31 965.72 L1221.62 964.15 L1221.94 967.61 L1222.25 974.37 L1222.62 971.04 L1223 974.71 L1223.38 976.94 L1223.75 973.83 L1224.12 974.94 L1224.49 978.21 L1224.86 979.61 L1225.23 979.62 L1225.6 977.15 L1225.92 983.84 L1226.25 983 L1226.58 978.85 L1226.9 982.13 L1227.23 985.59 L1227.57 989.85 L1227.9 995.46 L1228.28 990.9 L1228.65 991.58 L1229.03 988.56 L1229.4 983.88 L1229.8 982.17 L1230.2 984.37 L1230.6 985.42 L1231 987.09 L1231.38 986.35 L1231.75 989.52 L1232.12 989.77 L1232.5 992.92 L1232.88 992.42 L1233.25 989.75 L1233.62 982.82 L1234 979.52 L1234.4 976.13 L1234.8 972.25 L1235.2 973.17 L1235.6 970.85 L1235.92 969.84 L1236.25 967.55 L1236.58 967.2 L1236.9 965.3 L1237.3 964.94 L1237.7 961.07 L1238.1 960.71 L1238.42 964.26 L1238.75 967.2 L1239.08 968.54 L1239.4 975.93 L1239.8 972.76 L1240.2 972.83 L1240.6 967.9 L1241 961.71 L1241.38 965.14 L1241.75 971.11 L1242.12 971.84 L1242.5 972.83 L1242.88 978.38 L1243.25 980.89 L1243.62 982.29 L1244 986.55 L1244.33 987.73 L1244.67 994.19 L1245 991.77 L1245.3 987.88 L1245.6 980.53 L1245.92 984.62 L1246.25 985.7 L1246.58 988.77 L1246.9 996.23 L1247.3 991.38 L1247.7 986.65 L1248.1 986.5 L1248.48 989.11 L1248.86 988.7 L1249.24 987.44 L1249.62 991.76 L1250 988.48 L1250.38 991.4 L1250.76 990.51 L1251.14 987.1 L1251.52 986.75 L1251.9 985.27 L1252.3 985.29 L1252.7 985.96 L1253.1 988.25 L1253.42 989.82 L1253.75 995.85 L1254.08 992.87 L1254.4 1000.74 L1254.8 998.54 L1255.2 999.05 L1255.6 1000.92 L1255.9 994.39 L1256.2 986.98 L1256.5 986.47 L1256.9 988.47 L1257.3 990.99 L1257.7 993.9 L1258.1 998.99 L1258.42 995.56 L1258.75 997.96 L1259.08 990.02 L1259.4 989.53 L1259.8 991.54 L1260.2 995.86 L1260.6 997.33 L1261 998.49 L1261.31 1000 L1261.62 1002.59 L1261.94 1002.01 L1262.25 1005.87 L1262.56 996.68 L1262.88 994.1 L1263.19 986.27 L1263.5 983.28 L1263.81 983.42 L1264.12 989.18 L1264.44 992.9 L1264.75 1000.44 L1265.12 993.71 L1265.5 995.34 L1265.88 992.08 L1266.25 989.77 L1266.56 990.32 L1266.88 995.23 L1267.19 1000.34 L1267.5 998.76 L1267.81 996.71 L1268.12 992.03 L1268.44 986.77 L1268.75 983.52 L1269.06 990.47 L1269.38 993.97 L1269.69 994.62 L1270 1004.06 L1270.31 997.38 L1270.62 994.45 L1270.94 986.49 L1271.25 986.46 L1271.56 985.48 L1271.88 993.25 L1272.19 994.63 L1272.5 1001.6 L1272.81 993.87 L1273.12 992.88 L1273.44 985.27 L1273.75 982.69 L1274.08 992.32 L1274.4 1002.08 L1274.8 994.32 L1275.2 985.96 L1275.6 979.99 L1275.92 986.77 L1276.25 987.92 L1276.58 994.01 L1276.9 1001 L1277.3 989.2 L1277.7 983.18 L1278.1 977.46 L1278.42 982.51 L1278.75 987.35 L1279.08 991.37 L1279.4 998.94 L1279.8 992.53 L1280.2 982.46 L1280.6 976.38 L1280.92 986.26 L1281.25 989.61 L1281.58 996.07 L1281.9 999.38 L1282.3 990.68 L1282.7 981.51 L1283.1 970.99 L1283.48 976.94 L1283.86 982.92 L1284.24 991.99 L1284.62 1000.48 L1285 1006.71 L1285.33 997.45 L1285.67 988.51 L1286 975.95 L1286.38 980.96 L1286.75 986.45 L1287.12 989.96 L1287.5 996.7 L1287.81 989.74 L1288.12 987.63 L1288.44 978.73 L1288.75 976.01 L1289.08 989.27 L1289.4 995.31 L1289.8 992.34 L1290.2 987.78 L1290.6 983.09 L1290.92 987.03 L1291.25 989.03 L1291.58 988.37 L1291.9 990.33 L1292.3 987.94 L1292.7 984.32 L1293.1 978 L1293.48 984.46 L1293.86 980.58 L1294.24 981.66 L1294.62 980.87 L1295 982.03 L1295.31 979.31 L1295.62 982.31 L1295.94 974.49 L1296.25 975.92 L1296.62 977.94 L1296.99 974.38 L1297.36 978.58 L1297.73 980.62 L1298.1 979.28 L1298.48 978 L1298.86 977.19 L1299.24 975.99 L1299.62 976.79 L1300 973.45 L1300.38 975.84 L1300.76 974.89 L1301.14 974.7 L1301.52 973.92 L1301.9 977.46 L1302.27 973.44 L1302.64 974.69 L1303.01 970.95 L1303.38 969.24 L1303.75 965.52 L1304.06 965.07 L1304.38 967.23 L1304.69 965.45 L1305 965.11 L1305.31 968.67 L1305.62 970.94 L1305.94 971.86 L1306.25 978.96 L1306.62 977.96 L1306.99 973.79 L1307.36 969.41 L1307.73 969.39 L1308.1 971.05 L1308.48 969.96 L1308.86 971.85 L1309.24 969.41 L1309.62 974.79 L1310 977.18 L1310.38 975.31 L1310.76 979.38 L1311.14 981.85 L1311.52 981.04 L1311.9 986.64 L1312.27 984.48 L1312.64 980.99 L1313.01 979.93 L1313.38 979.94 L1313.75 978.11 L1314.12 978.58 L1314.49 977.46 L1314.86 977.52 L1315.23 979.76 L1315.6 979.29 L1315.98 983.49 L1316.36 985.34 L1316.74 984.01 L1317.12 983.54 L1317.5 988.43 L1317.88 984.78 L1318.26 985.34 L1318.64 983 L1319.02 977.73 L1319.4 979.39 L1319.77 981.51 L1320.14 981.2 L1320.51 983.1 L1320.88 982.56 L1321.25 983.45 L1321.56 985.07 L1321.88 981.06 L1322.19 978.27 L1322.5 976.13 L1322.88 978.85 L1323.26 978.36 L1323.64 979.1 L1324.02 980.7 L1324.4 982.21 L1324.77 980.12 L1325.14 979.66 L1325.51 977.12 L1325.88 975.68 L1326.25 978.58 L1326.62 975.51 L1326.99 979.07 L1327.36 974.69 L1327.73 978.36 L1328.1 977.52 L1328.48 982.54 L1328.86 980.66 L1329.24 986.73 L1329.62 984.44 L1330 987.51 L1330.38 986.42 L1330.76 989.44 L1331.14 990.13 L1331.52 989.5 L1331.9 989.18 L1332.27 994.86 L1332.64 994.89 L1333.01 993.5 L1333.38 995.31 L1333.75 994.94 L1334.06 996.63 L1334.38 997.95 L1334.69 998.76 L1335 997.85 L1335.38 997.62 L1335.76 998.18 L1336.14 995.31 L1336.52 994.75 L1336.9 995.15 L1337.27 996.64 L1337.64 995.74 L1338.01 998.68 L1338.38 997.87 L1338.75 997.54 L1339.12 999.17 L1339.49 996.63 L1339.86 996.2 L1340.23 1000.36 L1340.6 996.8 L1340.93 999.06 L1341.26 1002.8 L1341.59 1002.1 L1341.92 1000.47 L1342.25 1002.47 L1342.62 998.36 L1343 997.32 L1343.38 997.51 L1343.75 997.31 L1344.06 994 L1344.38 991.72 L1344.69 988.52 L1345 987.63 L1345.31 990.18 L1345.62 991.99 L1345.94 991.87 L1346.25 992.72 L1346.56 991.26 L1346.88 989.7 L1347.19 986.01 L1347.5 984.34 L1347.88 984.74 L1348.25 985.74 L1348.62 991.2 L1349 990.16 L1349.31 985.33 L1349.62 984.45 L1349.94 982.74 L1350.25 979.84 L1350.58 979.52 L1350.91 985.1 L1351.24 981.61 L1351.57 986.56 L1351.9 986.35 L1352.3 987.07 L1352.7 990.53 L1353.1 989.77 L1353.42 991.88 L1353.75 990.99 L1354.08 987.01 L1354.4 986.79 L1354.77 981.29 L1355.14 983.29 L1355.51 980.84 L1355.88 983.92 L1356.25 981.6 L1356.62 981.91 L1356.99 982.41 L1357.36 983.06 L1357.73 985.66 L1358.1 983.12 L1358.48 985.68 L1358.86 984.26 L1359.24 983.86 L1359.62 980.37 L1360 981.95 L1360.38 983.2 L1360.75 983.61 L1361.12 986.22 L1361.5 984.81 L1361.9 982.82 L1362.3 982.73 L1362.7 981.28 L1363.1 972.04 L1363.4 975.02 L1363.7 969.4 L1364 970.38 L1364.4 970.82 L1364.8 974.12 L1365.2 975.09 L1365.6 978.21 L1365.93 979.67 L1366.26 978.87 L1366.59 981.7 L1366.92 980.98 L1367.25 983.73 L1367.62 983.37 L1368 980.3 L1368.38 979.17 L1368.75 974.26 L1369.12 976.86 L1369.49 977.88 L1369.86 979.48 L1370.23 977.98 L1370.6 978.91 L1370.92 979.86 L1371.25 979.12 L1371.58 979.28 L1371.9 978.83 L1372.3 979.7 L1372.7 980.59 L1373.1 985 L1373.43 983.31 L1373.76 986.13 L1374.09 989.97 L1374.42 990.4 L1374.75 988.21 L1375.12 989.56 L1375.5 986.18 L1375.88 984.83 L1376.25 982.1 L1376.62 985.47 L1376.99 984.55 L1377.36 985.27 L1377.73 984.45 L1378.1 981.96 L1378.43 983.05 L1378.76 983.89 L1379.09 983.46 L1379.42 979.89 L1379.75 978.02 L1380.12 978.82 L1380.5 978.9 L1380.88 978.34 L1381.25 982.84 L1381.62 980.37 L1381.99 978.26 L1382.36 979.68 L1382.73 977.51 L1383.1 972.74 L1383.47 977.85 L1383.85 975.51 L1384.22 974.5 L1384.6 978.02 L1384.93 975.44 L1385.26 973.16 L1385.59 975.85 L1385.92 971.61 L1386.25 969.91 L1386.56 971.42 L1386.88 973.04 L1387.19 975.96 L1387.5 976.92 L1387.81 979.9 L1388.12 972.48 L1388.44 973.02 L1388.75 970.4 L1389.12 971.49 L1389.49 973.05 L1389.86 975.8 L1390.23 978.93 L1390.6 980.9 L1390.98 977.25 L1391.36 972.49 L1391.74 973.96 L1392.12 970.95 L1392.5 968.17 L1392.88 966.65 L1393.25 971.12 L1393.62 973.78 L1394 976.05 L1394.38 977.69 L1394.75 979.32 L1395.12 979.46 L1395.5 983.84 L1395.88 985.81 L1396.25 986.15 L1396.56 983.85 L1396.88 983.23 L1397.19 983.5 L1397.5 979.77 L1397.88 978.45 L1398.25 973.05 L1398.62 972.25 L1399 966.46 L1399.4 965.77 L1399.8 970.63 L1400.2 966.17 L1400.6 966.99 L1400.98 961.79 L1401.36 966.07 L1401.74 966.93 L1402.12 967 L1402.5 969 L1402.88 966.19 L1403.26 969.01 L1403.64 966.94 L1404.02 962.69 L1404.4 964.62 L1404.8 965.4 L1405.2 968.82 L1405.6 968.91 L1406 966.09 L1406.38 969.05 L1406.75 974.59 L1407.12 972.77 L1407.5 978.58 L1407.81 979.4 L1408.12 984.67 L1408.44 987.84 L1408.75 990.67 L1409.06 991.93 L1409.38 996.61 L1409.69 1002.02 L1410 1002.77 L1410.31 1000.63 L1410.62 999.52 L1410.94 996.71 L1411.25 992.8 L1411.62 992.44 L1412 994.56 L1412.38 996.24 L1412.75 997.83 L1413.08 997.08 L1413.41 993.47 L1413.74 995.68 L1414.07 992.76 L1414.4 993.94 L1414.8 995.24 L1415.2 997.31 L1415.6 994.85 L1415.93 997.34 L1416.26 997.94 L1416.59 997.94 L1416.92 1001.04 L1417.25 1002.32 L1417.62 1003.6 L1418 995.41 L1418.38 998.11 L1418.75 994.54 L1419.12 991.99 L1419.5 990.07 L1419.88 989.28 L1420.25 986.07 L1420.58 989.96 L1420.91 986.1 L1421.24 984.65 L1421.57 984.3 L1421.9 984.61 L1422.3 991.3 L1422.7 992.85 L1423.1 997.79 L1423.5 996.47 L1423.88 995.06 L1424.25 993.25 L1424.62 989.95 L1425 988.77 L1425.36 989.04 L1425.71 986.13 L1426.07 982.47 L1426.43 984.41 L1426.79 983.55 L1427.14 986.41 L1427.5 988.68 L1427.88 987.12 L1428.26 991.28 L1428.64 990.11 L1429.02 993.02 L1429.4 993.08 L1429.68 996.78 L1429.97 996.66 L1430.25 1000.69 L1430.58 1002.71 L1430.91 1000.42 L1431.24 995.06 L1431.57 998.19 L1431.9 997.22 L1432.3 996.17 L1432.7 998.93 L1433.1 998.97 L1433.42 1001.96 L1433.75 1003.08 L1434.08 1003.51 L1434.4 1005.53 L1434.8 1000.26 L1435.2 998.11 L1435.6 991.34 L1435.93 990.89 L1436.26 988.51 L1436.59 984.33 L1436.92 982.78 L1437.25 981.81 L1437.62 987.16 L1438 986.97 L1438.38 991.34 L1438.75 994.66 L1439.12 992.84 L1439.49 996.73 L1439.86 999.35 L1440.23 1000.41 L1440.6 999.14 L1440.98 1001.84 L1441.36 1001.31 L1441.74 1003.28 L1442.12 1005.2 L1442.5 1003.21 L1442.88 1003.54 L1443.25 998 L1443.62 1000.98 L1444 994.72 L1444.4 997.86 L1444.8 998.11 L1445.2 1000.48 L1445.6 1002.62 L1445.98 997.68 L1446.36 996.66 L1446.74 993.35 L1447.12 994.9 L1447.5 994.3 L1447.88 993.62 L1448.26 988.71 L1448.64 987.93 L1449.02 990.13 L1449.4 989.19 L1449.8 984.64 L1450.2 987.7 L1450.6 986.05 L1450.93 992.28 L1451.26 995.5 L1451.59 998.49 L1451.92 1001.29 L1452.25 1004.28 L1452.62 1000.89 L1453 996.33 L1453.38 997.41 L1453.75 996.35 L1454.06 993.4 L1454.38 995.13 L1454.69 999.97 L1455 1001.68 L1455.38 996.98 L1455.75 994.53 L1456.12 994.86 L1456.5 993.51 L1456.9 996.99 L1457.3 1002.11 L1457.7 999.98 L1458.1 1002.57 L1458.42 1005.68 L1458.75 996.68 L1459.08 996.19 L1459.4 986.68 L1459.68 989.46 L1459.97 983.29 L1460.25 981.97 L1460.58 988.32 L1460.92 998.9 L1461.25 1003.13 L1461.62 1002.2 L1461.99 1004.21 L1462.36 1004.82 L1462.73 1001.77 L1463.1 1000.47 L1463.43 1002.65 L1463.76 1005.5 L1464.09 1003.3 L1464.42 1003.24 L1464.75 1009.57 L1465.09 1003.33 L1465.42 993.14 L1465.76 991.33 L1466.1 985.13 L1466.42 988.55 L1466.75 990.88 L1467.08 994.69 L1467.4 1000.51 L1467.8 1002.56 L1468.2 1006.83 L1468.6 1002.54 L1469 1008.08 L1469.4 1004.76 L1469.8 1003.97 L1470.2 1004.27 L1470.6 997.95 L1470.92 1000.87 L1471.25 999.47 L1471.58 1003.17 L1471.9 1009.06 L1472.3 1008.33 L1472.7 1003.43 L1473.1 1001.47 L1473.5 1000.83 L1473.88 997.72 L1474.25 998.34 L1474.62 989.74 L1475 985.72 L1475.31 990.22 L1475.62 991.9 L1475.94 997.39 L1476.25 1000.1 L1476.62 997.56 L1476.99 1000.44 L1477.36 1000.22 L1477.73 1001.43 L1478.1 1000.1 L1478.42 1000.84 L1478.75 1001.36 L1479.08 1004.58 L1479.4 1000.46 L1479.8 1003.32 L1480.2 1006.35 L1480.6 1007.97 L1480.92 1006.91 L1481.25 1001 L1481.58 998.9 L1481.9 995.06 L1482.3 990.13 L1482.7 987.78 L1483.1 984.95 L1483.42 984.81 L1483.75 991.46 L1484.08 989.15 L1484.4 991.88 L1484.73 997.17 L1485.07 1001.94 L1485.4 999.25 L1485.78 996.66 L1486.15 990.6 L1486.53 987.55 L1486.9 983.11 L1487.3 985.16 L1487.7 993.87 L1488.1 998.23 L1488.5 998.73 L1488.88 999.97 L1489.25 999.04 L1489.62 997.44 L1490 992.56 L1490.38 997.96 L1490.76 996.76 L1491.14 991.12 L1491.52 990.17 L1491.9 987.6 L1492.3 990.17 L1492.7 988.12 L1493.1 988.06 L1493.5 985.49 L1493.88 985.23 L1494.25 987.02 L1494.62 988.89 L1495 991.52 L1495.38 989.9 L1495.75 990.78 L1496.12 989.66 L1496.5 989.18 L1496.9 991.93 L1497.3 998.64 L1497.7 1003.06 L1498.1 1002.22 L1498.42 997.92 L1498.75 997.93 L1499.08 994.33 L1499.4 991.44 L1499.8 992.44 L1500.2 994.82 L1500.6 999.72 L1500.93 1001.88 L1501.26 997.14 L1501.59 997.5 L1501.92 993.99 L1502.25 992.17 L1502.62 990.75 L1503 986.66 L1503.38 987.88 L1503.75 989.09 L1504.12 993.35 L1504.5 997.53 L1504.88 1004.73 L1505.25 1011.07 L1505.58 1009.48 L1505.91 1004.04 L1506.24 1002.73 L1506.57 1000.72 L1506.9 999.4 L1507.3 997.75 L1507.7 1001.95 L1508.1 1001.76 L1508.48 1000.11 L1508.86 998.85 L1509.24 997.94 L1509.62 991.05 L1510 987.38 L1510.38 987.18 L1510.76 987.4 L1511.14 989.19 L1511.52 992.74 L1511.9 988.73 L1512.3 993.38 L1512.7 993.77 L1513.1 994.37 L1513.5 997.93 L1513.81 998.42 L1514.12 1000.24 L1514.44 1003.5 L1514.75 1004.12 L1515.1 1002.81 L1515.45 1003.21 L1515.8 1001.45 L1516.15 1003.98 L1516.5 1001.1 L1516.9 998.53 L1517.3 999.81 L1517.7 1000.64 L1518.1 999.79 L1518.48 1001.09 L1518.86 995.81 L1519.24 998.81 L1519.62 995.09 L1520 995.14 L1520.31 994.7 L1520.62 995.63 L1520.94 1002.02 L1521.25 1003.4 L1521.56 1002.1 L1521.88 1004.63 L1522.19 1005.07 L1522.5 1009.1 L1522.88 1000.54 L1523.25 1004.18 L1523.62 995.73 L1524 999.13 L1524.4 999.6 L1524.8 992.99 L1525.2 993.47 L1525.6 994.23 L1526 995.25 L1526.38 990.16 L1526.75 994.09 L1527.12 995.89 L1527.5 996.41 L1527.88 997.17 L1528.26 996.19 L1528.64 997.26 L1529.02 997.98 L1529.4 1003.96 L1529.8 1000.02 L1530.2 1004.19 L1530.6 1005.05 L1531 1007.21 L1531.38 1009.33 L1531.75 1008.95 L1532.12 1011.32 L1532.5 1011.69 L1532.88 1012.07 L1533.26 1008.28 L1533.64 1007.35 L1534.02 1005.51 L1534.4 1007.14 L1534.8 1007.92 L1535.2 1003.26 L1535.6 1004.81 L1535.92 1006.74 L1536.25 1011.8 L1536.58 1015.4 L1536.9 1017.43 L1537.27 1016.56 L1537.64 1012.26 L1538.01 1010.34 L1538.38 1004.33 L1538.75 1006.08 L1539.06 1003.49 L1539.38 1004.74 L1539.69 1006.98 L1540 1003.61 L1540.38 1009.88 L1540.76 1010.6 L1541.14 1012.56 L1541.52 1012.23 L1541.9 1014.33 L1542.27 1017.05 L1542.64 1017.28 L1543.01 1017.64 L1543.38 1019.03 L1543.75 1018.7 L1544.06 1019.43 L1544.38 1020.08 L1544.69 1017.76 L1545 1017.52 L1545.31 1021.97 L1545.62 1024.92 L1545.94 1028.9 L1546.25 1032.53 L1546.62 1032.84 L1547 1040.28 L1547.38 1040.6 L1547.75 1043.8 L1548.08 1039.76 L1548.41 1038.83 L1548.74 1036.51 L1549.07 1033.23 L1549.4 1032.11 L1549.8 1028.08 L1550.2 1031.2 L1550.6 1026.17 L1551 1024.36 L1551.38 1023.14 L1551.75 1020.68 L1552.12 1020.97 L1552.5 1016.92 L1552.88 1018.51 L1553.26 1020.74 L1553.64 1019.57 L1554.02 1016.92 L1554.4 1017.9 L1554.8 1022.37 L1555.2 1019.97 L1555.6 1023.78 L1556 1022.38 L1556.38 1028.08 L1556.75 1029.43 L1557.12 1031.87 L1557.5 1031.97 L1557.88 1035.48 L1558.26 1037.75 L1558.64 1038.13 L1559.02 1042.59 L1559.4 1044 L1559.8 1042.83 L1560.2 1042.53 L1560.6 1045.28 L1560.92 1040.51 L1561.25 1034.46 L1561.58 1027.72 L1561.9 1027.05 L1562.18 1026.61 L1562.47 1024.62 L1562.75 1022.13 L1563.08 1021.74 L1563.41 1024.86 L1563.74 1024.97 L1564.07 1026.37 L1564.4 1028.62 L1564.8 1031.9 L1565.2 1036.96 L1565.6 1042.22 L1566 1042.88 L1566.38 1046.29 L1566.75 1047.43 L1567.12 1047.39 L1567.5 1045.87 L1567.88 1048.44 L1568.25 1053.7 L1568.62 1052.56 L1569 1050.8 L1569.4 1049.75 L1569.8 1047.49 L1570.2 1046.05 L1570.6 1044.15 L1570.92 1042.66 L1571.25 1039.53 L1571.58 1035.94 L1571.9 1036.24 L1572.3 1032.96 L1572.7 1033.87 L1573.1 1034.71 L1573.5 1031.42 L1573.88 1030.46 L1574.25 1035.22 L1574.62 1036.47 L1575 1036 L1575.31 1040.38 L1575.62 1041.61 L1575.94 1042.05 L1576.25 1045.82 L1576.56 1041.45 L1576.88 1035.21 L1577.19 1034.19 L1577.5 1027.75 L1577.88 1028.64 L1578.26 1023.97 L1578.64 1024.64 L1579.02 1022.14 L1579.4 1017.88 L1579.78 1019.82 L1580.16 1019.84 L1580.54 1015.38 L1580.92 1015.45 L1581.3 1014.37 L1581.67 1016.94 L1582.05 1020.9 L1582.42 1020.37 L1582.8 1023.81 L1583.12 1025.08 L1583.43 1030.64 L1583.75 1031.5 L1584.06 1034.8 L1584.38 1036.05 L1584.69 1042.48 L1585 1044.12 L1585.34 1047.19 L1585.68 1049.9 L1586.02 1055.7 L1586.36 1058.82 L1586.7 1060.48 L1587.1 1066.04 L1587.5 1066.36 L1587.9 1068.37 L1588.3 1073.44 L1588.67 1071.66 L1589.03 1072.55 L1589.4 1073.2 L1589.73 1073.42 L1590.07 1070.07 L1590.4 1065.11 L1590.73 1066.3 L1591.05 1068.45 L1591.38 1072.77 L1591.7 1075.04 L1592 1069.85 L1592.3 1070.77 L1592.6 1065.54 L1592.95 1070.85 L1593.3 1073.46 L1593.65 1077.21 L1594 1079.12 L1594.4 1085.46 L1594.8 1091.46 L1595.2 1098.03 L1595.6 1104.22 L1595.93 1104.98 L1596.26 1105.94 L1596.59 1110.11 L1596.92 1110.26 L1597.25 1112.57 L1597.56 1110.39 L1597.88 1106.59 L1598.19 1104.89 L1598.5 1104.95 L1598.88 1100.8 L1599.25 1093.04 L1599.62 1085.74 L1600 1082.72 L1600.38 1075.75 L1600.76 1073.92 L1601.14 1073.93 L1601.52 1068.6 L1601.9 1068.37 L1602.27 1062.88 L1602.64 1063.4 L1603.01 1063.82 L1603.39 1062.66 L1603.76 1061.82 L1604.13 1060.42 L1604.5 1058.62 L1604.87 1064.39 L1605.23 1065.57 L1605.6 1068.24 L1605.9 1075.68 L1606.2 1078.59 L1606.5 1088.66 L1606.87 1090.02 L1607.23 1091.06 L1607.6 1092.04 L1607.92 1093.75 L1608.24 1097.15 L1608.56 1103.79 L1608.88 1106.26 L1609.2 1109.93 L1609.55 1103.15 L1609.9 1097.73 L1610.25 1089.02 L1610.63 1088.82 L1611.02 1085.09 L1611.4 1082.5 L1611.74 1085.09 L1612.08 1087.2 L1612.41 1092.98 L1612.75 1094.35 L1613.1 1100.59 L1613.45 1102.84 L1613.8 1104.68 L1614.1 1104.1 L1614.4 1103.78 L1614.7 1098.15 L1615 1099.87 L1615.35 1095.14 L1615.7 1094.05 L1616.05 1090.41 L1616.4 1088.17 L1616.74 1091.92 L1617.08 1091.56 L1617.42 1092.99 L1617.76 1095.36 L1618.1 1098.53 L1618.43 1098.42 L1618.76 1099.15 L1619.09 1101.84 L1619.42 1104.68 L1619.75 1105.58 L1620.12 1102.9 L1620.5 1098 L1620.88 1097.68 L1621.25 1093.04 L1621.62 1090.04 L1621.99 1086.54 L1622.36 1084.36 L1622.73 1080.38 L1623.1 1077.3 L1623.43 1076.11 L1623.76 1072.08 L1624.09 1069.92 L1624.42 1065.56 L1624.75 1064.67 L1625.06 1065.76 L1625.38 1068.69 L1625.69 1071.56 L1626 1077.67 L1626.31 1081.24 L1626.62 1084.83 L1626.94 1089.49 L1627.25 1095.41 L1627.56 1091.47 L1627.88 1093.26 L1628.19 1095.54 L1628.5 1095.17 L1628.81 1091.62 L1629.12 1090.03 L1629.44 1088.68 L1629.75 1086.33 L1630.13 1082.4 L1630.52 1080.41 L1630.9 1078.36 L1631.23 1084 L1631.57 1097.56 L1631.9 1103.34 L1632.27 1104.95 L1632.64 1103.51 L1633.01 1101.84 L1633.38 1098.43 L1633.75 1098.33 L1634.06 1103.94 L1634.38 1110.1 L1634.69 1112.19 L1635 1118.84 L1635.38 1125.47 L1635.75 1129.7 L1636.12 1135.96 L1636.5 1140.66 L1636.9 1139.91 L1637.3 1139.86 L1637.7 1139.11 L1638.1 1137.25 L1638.5 1138.84 L1638.8 1128.67 L1639.1 1123.2 L1639.4 1113.99 L1639.8 1114.04 L1640.2 1117.72 L1640.6 1118 L1640.92 1115.13 L1641.25 1112.18 L1641.58 1105.26 L1641.9 1101.32 L1642.3 1104.63 L1642.7 1106.03 L1643.1 1110.31 L1643.43 1105.45 L1643.76 1103.06 L1644.09 1097.62 L1644.42 1095.72 L1644.75 1093.25 L1645.06 1099.2 L1645.38 1101.56 L1645.69 1108.03 L1646 1110.26 L1646.38 1115.07 L1646.75 1117.77 L1647.12 1124.1 L1647.5 1123.93 L1647.88 1125.53 L1648.26 1127.75 L1648.64 1126.24 L1649.02 1128.6 L1649.4 1128.58 L1649.8 1122.88 L1650.2 1118.5 L1650.6 1116.05 L1650.92 1115.09 L1651.25 1117.93 L1651.58 1117.85 L1651.9 1117.55 L1652.3 1115.31 L1652.7 1115.04 L1653.1 1108.84 L1653.48 1102.15 L1653.86 1098.21 L1654.24 1091.71 L1654.62 1084.8 L1655 1081.77 L1655.38 1078.72 L1655.76 1080.72 L1656.14 1079.42 L1656.52 1077.68 L1656.9 1075.63 L1657.3 1077.36 L1657.7 1081.95 L1658.1 1083.46 L1658.5 1089 L1658.88 1088.07 L1659.25 1094.53 L1659.62 1094.85 L1660 1096.53 L1660.38 1097.39 L1660.76 1101.3 L1661.14 1102.59 L1661.52 1104.53 L1661.9 1104.85 L1662.3 1104.49 L1662.7 1105.77 L1663.1 1104.23 L1663.5 1106.01 L1663.88 1109.14 L1664.25 1116.17 L1664.62 1119.09 L1665 1121.93 L1665.4 1126.77 L1665.8 1133.98 L1666.2 1136.61 L1666.6 1142.3 L1666.97 1137.66 L1667.35 1130.17 L1667.72 1127.39 L1668.1 1120.36 L1668.42 1124.4 L1668.75 1124.38 L1669.08 1129.64 L1669.4 1129.32 L1669.8 1125.26 L1670.2 1119.39 L1670.6 1117.86 L1670.98 1115.06 L1671.36 1116.1 L1671.74 1115.54 L1672.12 1116.75 L1672.5 1114.57 L1672.81 1117.11 L1673.12 1118.9 L1673.44 1121.99 L1673.75 1124.22 L1674.06 1125.35 L1674.38 1119.42 L1674.69 1116.83 L1675 1115.38 L1675.31 1120.27 L1675.62 1118.53 L1675.94 1125.7 L1676.25 1124.95 L1676.56 1122.36 L1676.88 1119.39 L1677.19 1119.38 L1677.5 1115.28 L1677.88 1120.85 L1678.25 1125.02 L1678.62 1126.3 L1679 1133.62 L1679.33 1127.2 L1679.67 1117.78 L1680 1110.62 L1680.38 1109.24 L1680.75 1108.43 L1681.12 1105.13 L1681.5 1102.39 L1681.81 1101.9 L1682.12 1107.03 L1682.44 1108.62 L1682.75 1113.47 L1683.08 1114.87 L1683.42 1114.9 L1683.75 1120.8 L1684.06 1109.59 L1684.38 1108.08 L1684.69 1100.58 L1685 1089.09 L1685.33 1097.43 L1685.67 1105.11 L1686 1113.02 L1686.31 1120.2 L1686.62 1123.93 L1686.94 1131.68 L1687.25 1141.18 L1687.62 1130.32 L1688 1118.45 L1688.38 1107.21 L1688.75 1099.26 L1689.08 1110.66 L1689.42 1125.13 L1689.75 1137.74 L1690.12 1134.42 L1690.5 1131.07 L1690.88 1128.22 L1691.25 1126.24 L1691.56 1127.1 L1691.88 1129.02 L1692.19 1135.21 L1692.5 1137.88 L1692.88 1134.42 L1693.26 1130.31 L1693.64 1123.92 L1694.02 1126.58 L1694.4 1123.08 L1694.8 1125.12 L1695.2 1132.83 L1695.6 1137.62 L1695.92 1135.35 L1696.25 1132.98 L1696.58 1131.5 L1696.9 1126.56 L1697.3 1136 L1697.7 1143.49 L1698.1 1146.92 L1698.42 1154.87 L1698.75 1156.55 L1699.08 1157.62 L1699.4 1161.32 L1699.8 1160.3 L1700.2 1157.52 L1700.6 1156.99 L1700.9 1145.63 L1701.2 1141.05 L1701.5 1134.55 L1701.83 1142.39 L1702.17 1149.97 L1702.5 1156.91 L1702.81 1160.47 L1703.12 1161.09 L1703.44 1165.29 L1703.75 1167.26 L1704.08 1170.28 L1704.42 1173.61 L1704.75 1174.94 L1705.12 1170.15 L1705.5 1167.52 L1705.88 1165.23 L1706.25 1162.78 L1706.56 1158.55 L1706.88 1158.79 L1707.19 1153.82 L1707.5 1147.17 L1707.81 1146.38 L1708.12 1147.7 L1708.44 1140.45 L1708.75 1141.8 L1709.12 1142.49 L1709.5 1138.33 L1709.88 1135.79 L1710.25 1136.78 L1710.56 1141.2 L1710.88 1140.99 L1711.19 1146.05 L1711.5 1146.16 L1711.9 1151.62 L1712.3 1155.89 L1712.7 1158.12 L1713.1 1161.76 L1713.43 1163.89 L1713.76 1164.72 L1714.09 1162.53 L1714.42 1163.65 L1714.75 1165.59 L1715.12 1160.97 L1715.5 1159.81 L1715.88 1159.83 L1716.25 1158.63 L1716.56 1159.45 L1716.88 1160.52 L1717.19 1164.54 L1717.5 1164.03 L1717.8 1159.26 L1718.1 1153.35 L1718.42 1159.49 L1718.75 1160.62 L1719.08 1163.26 L1719.4 1166.1 L1719.8 1158.96 L1720.2 1154.75 L1720.6 1147.81 L1720.92 1149.45 L1721.25 1143.83 L1721.58 1143.52 L1721.9 1140.65 L1722.27 1143.22 L1722.64 1141.66 L1723.01 1143.71 L1723.38 1144.4 L1723.75 1145.58 L1724.08 1147.37 L1724.4 1155.81 L1724.75 1148.64 L1725.1 1143.66 L1725.45 1134.39 L1725.8 1128.82 L1726.15 1140.66 L1726.4 1150.5 L1726.5 1153.82 L1726.7 1125.69 L1726.83 1148.38 L1727 1150.5 L1727.17 1140.75 L1727.5 1132.3 L1727.81 1132.45 L1728.12 1132.44 L1728.44 1132.83 L1728.75 1132.32 L1729.06 1140.25 L1729.38 1143.97 L1729.69 1152.34 L1730 1156.05 L1730.33 1152.95 L1730.67 1148.21 L1731 1144.57 L1731.33 1148.92 L1731.65 1156.71 L1731.97 1156.78 L1732.3 1166.2 L1732.66 1161.23 L1733.03 1156.58 L1733.39 1153.2 L1733.75 1147.86 L1734.09 1140.53 L1734.42 1140.58 L1734.76 1134.88 L1735.1 1132.31 L1735.43 1141.46 L1735.77 1148.48 L1736.1 1156.58 L1736.45 1153.59 L1736.8 1148.45 L1737.15 1142.32 L1737.5 1136.72 L1737.8 1142.63 L1738.1 1146.83 L1738.4 1151.8 L1738.7 1159.09 L1739.03 1152.94 L1739.35 1149.62 L1739.67 1142.5 L1740 1141.25 L1740.34 1134.51 L1740.68 1130.27 L1741.02 1125.71 L1741.36 1121.67 L1741.7 1114.53 L1742.03 1115.03 L1742.35 1114.3 L1742.67 1113.67 L1743 1110.63 L1743.3 1110.74 L1743.6 1111.42 L1743.9 1115.49 L1744.2 1114.17 L1744.6 1099.81 L1745 1084.05 L1745.4 1118.05 L1745.8 1152.14 L1746.14 1144.01 L1746.48 1140.76 L1746.82 1136.46 L1747.16 1128.8 L1747.5 1122.72 L1747.83 1120.54 L1748.15 1117.63 L1748.47 1114.57 L1748.8 1108.78 L1749.1 1110.99 L1749.4 1113.77 L1749.7 1116.42 L1750 1118.67 L1750.3 1118.75 L1750.6 1123.75 L1750.9 1127.26 L1751.2 1128.7 L1751.53 1122.6 L1751.85 1116.14 L1752.17 1113.61 L1752.5 1106.69 L1752.84 1109.74 L1753.18 1111.2 L1753.52 1107.83 L1753.86 1110.04 L1754.2 1111.56 L1754.6 1107.31 L1755 1104.71 L1755.4 1105.05 L1755.8 1099.14 L1756.1 1097.87 L1756.4 1092.34 L1756.7 1091.57 L1757 1088.89 L1757.33 1089.29 L1757.65 1090.67 L1757.97 1091.09 L1758.3 1089.63 L1758.65 1088.51 L1759 1087.81 L1759.35 1082.67 L1759.7 1084.62 L1760.07 1075.2 L1760.43 1064.4 L1760.8 1053.9 L1761.1 1047.71 L1761.4 1043.27 L1761.7 1037.07 L1762 1030.59 L1762.33 1027.44 L1762.65 1020.27 L1762.97 1013.92 L1763.3 1005.98 L1763.6 1005.3 L1763.9 1002.23 L1764.2 1000.1 L1764.45 1007.92 L1764.7 1016.89 L1765.07 1007.16 L1765.43 1001.54 L1765.8 993.68 L1766.14 991.08 L1766.48 986.46 L1766.82 983.32 L1767.16 977.97 L1767.5 972.51 L1767.8 966.02 L1768.1 960.84 L1768.42 943.05 L1768.74 928.39 L1769.06 911.67 L1769.38 895.92 L1769.7 880.01 L1770 867.36 L1770.3 855.14 L1770.6 842.98 L1770.8 836.42 L1771 829.16 L1771.2 842.81 L1771.53 828.66 L1771.87 814.14 L1772.2 800.04 L1772.57 793.09 L1772.93 786.59 L1773.3 780.41 L1773.5 791.71 L1773.75 772.18 L1774 751.94 L1774.39 736.44 L1774.77 720.54 L1775.16 704.85 L1775.54 689.15 L1775.93 673.74 L1776.31 657.94 L1776.7 642.05 L1777.1 629.64 L1777.5 616.92 L1777.9 604.23 L1778.3 591.59 L1778.7 578.4 L1779.1 566.35 L1779.42 556.57 L1779.74 547.58 L1780.06 538.54 L1780.38 528.79 L1780.7 520.01 L1781.06 506.2 L1781.42 492.04 L1781.78 478.15 L1782.14 463.9 L1782.5 449.72 L1782.86 437.52 L1783.22 424.79 L1783.58 412.45 L1783.94 399.85 L1784.3 387.54 L1784.7 348.61 L1785.1 309.93 L1785.37 304.37 L1785.63 298 L1785.9 291.97 L1786.3 252.21 L1786.6 288.08 L1786.9 253.23 L1787.2 287.07 L1787.5 248.06 L1787.8 240.43 L1788.1 233.15 L1788.4 225.45 L1788.78 212.28 L1789.15 199.46 L1789.53 185.72 L1789.9 172.81 L1790.28 167.19 L1790.66 161.13 L1791.04 155.31 L1791.42 149.66 L1791.8 143.76 L1792.2 140.34 L1792.6 136.67 L1793 133.25 L1793.4 129.69 L1793.8 126.13 L1794.18 124.38 L1794.56 122.84 L1794.94 120.74 L1795.32 119.21 L1795.7 117.38 L1796.06 117.01 L1796.41 116.42 L1796.77 116 L1797.13 115.46 L1797.49 114.7 L1797.84 114.42 L1798.2 113.81 L1798.58 113.79 L1798.97 113.71 L1799.35 113.72 L1799.73 113.82 L1800.12 113.55 L1800.5 113.69 L1800.9 113.45 L1801.3 113.47 L1801.7 113.6 L1802.1 113.51 L1802.5 113.55 L1802.9 113.53 L1803.3 113.62 L1803.7 113.4 L1804.1 113.43 L1804.5 113.53 L1804.9 113.64 L1805.3 113.46 L1805.7 113.53 L1806.1 113.61 L1806.5 113.56 L1806.9 113.62 L1807.3 113.42 L1807.7 113.45 L1808.1 113.41 L1808.5 113.48 L1808.9 113.51 L1809.3 113.47 L1809.7 113.51 L1810.1 113.51 L1810.5 113.48 L1810.9 113.52 L1811.3 113.48 L1811.7 113.48 L1812.1 113.53 L1812.5 113.55 L1812.9 113.52 L1813.3 113.49 L1813.7 113.51 L1814.1 113.52 L1814.5 113.51 L1814.9 113.5 L1815.3 113.48 L1815.7 113.5 L1816.1 113.5 L1816.5 113.5"/>
</g>
<path d="M368.5 1178.5 v14.58 M497.5 1178.5 v14.58 M625.5 1178.5 v14.58 M754.5 1178.5 v14.58 M883.5 1178.5 v14.58 M1011.5 1178.5 v14.58 M1140.5 1178.5 v14.58 M1269.5 1178.5 v14.58 M1398.5 1178.5 v14.58 M1526.5 1178.5 v14.58 M1655.5 1178.5 v14.58 M1784.5 1178.5 v14.58" fill="none" stroke="#000" stroke-width="3.33"/>
<path d="M319.5 225.5 h-8.33 M319.5 387.5 h-8.33 M319.5 567.5 h-8.33 M319.5 768.5 h-8.33 M319.5 996.5 h-8.33" fill="none" stroke="#000" stroke-width="2.5"/>
<rect x="319.5" y="112.4" width="1497" height="1066.1" fill="none" stroke="#000" stroke-width="3.33" stroke-linejoin="miter"/>
<text x="1068" y="87.4" font-size="50" text-anchor="middle">Peak field sums for CA000L_20260305_233704_442000</text>
<text x="1068" y="1386.5" font-size="41.667" text-anchor="middle">Time</text>
<text transform="translate(81.6 646) rotate(-90)" font-size="41.667" text-anchor="middle">ADU</text>
<text transform="translate(292.43 1328.75) rotate(-30)" font-size="41.667">03-06 00</text>
<text transform="translate(421.15 1328.75) rotate(-30)" font-size="41.667">03-06 01</text>
<text transform="translate(549.87 1328.75) rotate(-30)" font-size="41.667">03-06 02</text>
<text transform="translate(678.59 1328.75) rotate(-30)" font-size="41.667">03-06 03</text>
<text transform="translate(807.31 1328.75) rotate(-30)" font-size="41.667">03-06 04</text>
<text transform="translate(936.03 1328.75) rotate(-30)" font-size="41.667">03-06 05</text>
<text transform="translate(1064.75 1328.75) rotate(-30)" font-size="41.667">03-06 06</text>
<text transform="translate(1193.47 1328.75) rotate(-30)" font-size="41.667">03-06 07</text>
<text transform="translate(1322.19 1328.75) rotate(-30)" font-size="41.667">03-06 08</text>
<text transform="translate(1450.91 1328.75) rotate(-30)" font-size="41.667">03-06 09</text>
<text transform="translate(1579.63 1328.75) rotate(-30)" font-size="41.667">03-06 10</text>
<text transform="translate(1708.35 1328.75) rotate(-30)" font-size="41.667">03-06 11</text>
<text transform="translate(108.07 1012.9)" font-size="41.667"><tspan x="0" y="0">1.</tspan><tspan x="39.75" y="0">4</tspan><tspan x="74.38" y="0">×</tspan><tspan x="117.41" y="0">10</tspan><tspan x="170.83" y="-15.95" font-size="29.167">8</tspan></text>
<text transform="translate(108.07 784.9)" font-size="41.667"><tspan x="0" y="0">1.</tspan><tspan x="39.75" y="0">6</tspan><tspan x="74.38" y="0">×</tspan><tspan x="117.41" y="0">10</tspan><tspan x="170.83" y="-15.95" font-size="29.167">8</tspan></text>
<text transform="translate(109.32 583.79)" font-size="41.667"><tspan x="0" y="0">1.</tspan><tspan x="38.71" y="0">8</tspan><tspan x="73.34" y="0">×</tspan><tspan x="116.37" y="0">10</tspan><tspan x="169.79" y="-15.95" font-size="29.167">8</tspan></text>
<text transform="translate(148.07 403.89)" font-size="41.667"><tspan x="0" y="0">2</tspan><tspan x="34.63" y="0">×</tspan><tspan x="77.66" y="0">10</tspan><tspan x="131.08" y="-15.95" font-size="29.167">8</tspan></text>
<text transform="translate(110.57 241.15)" font-size="41.667"><tspan x="0" y="0">2.</tspan><tspan x="37.67" y="0">2</tspan><tspan x="72.3" y="0">×</tspan><tspan x="115.33" y="0">10</tspan><tspan x="168.75" y="-15.95" font-size="29.167">8</tspan></text>
<rect x="340.33" y="1018.75" width="320.9" height="138.15" rx="8.33" ry="8.33" fill="#fff" fill-opacity="0.8" stroke="#ccc" stroke-opacity="0.8" stroke-width="4.17"/>
<path d="M357 1054 H440.33" stroke="#f00" stroke-width="2.08" stroke-linecap="square" fill="none"/>
<path d="M357 1117 H440.33" stroke="#000" stroke-width="2.08" stroke-linecap="square" fill="none"/>
<text x="473.67" y="1069.2" font-size="41.667">Peak</text>
<text x="473.67" y="1131.4" font-size="41.667">Average</text>
</svg></body></html>
